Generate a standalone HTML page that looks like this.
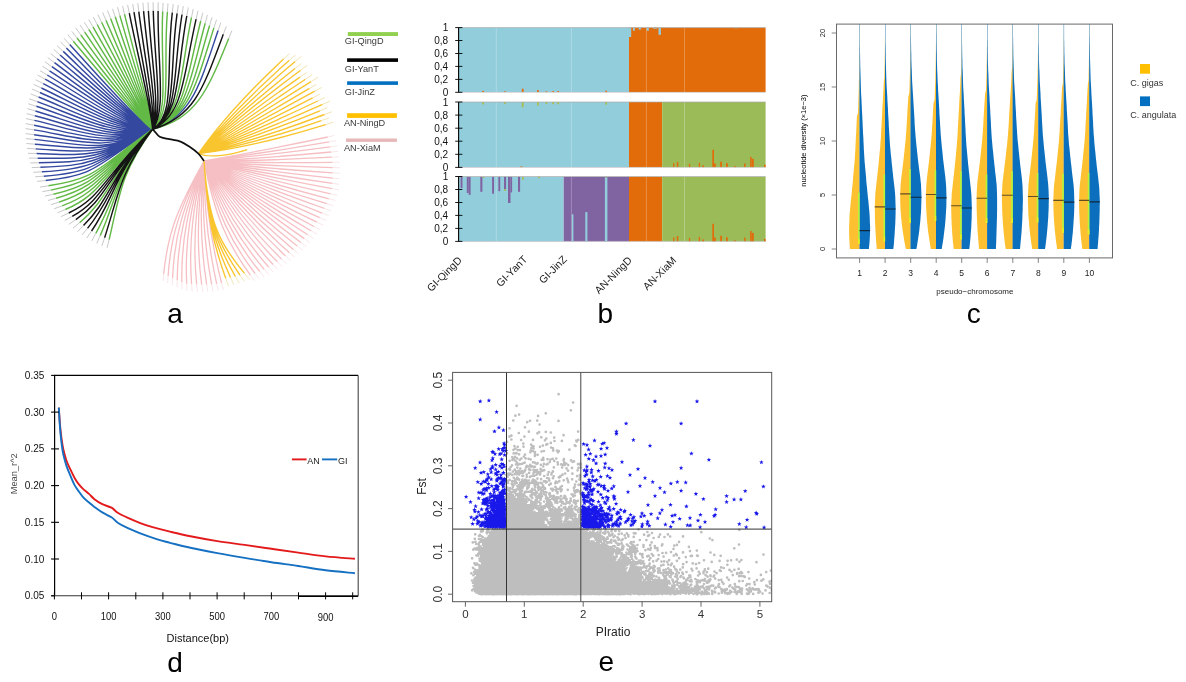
<!DOCTYPE html>
<html><head><meta charset="utf-8"><title>figure</title>
<style>html,body{margin:0;padding:0;background:#fff}svg{display:block}text{font-family:"Liberation Sans",sans-serif}</style>
</head><body>
<svg width="1186" height="682" viewBox="0 0 1186 682">
<rect width="1186" height="682" fill="#fff"/>
<g opacity="0.999">
<g id="pa"><path d="M204.0,161.0C243.4,154.1 288.6,145.3 327.7,137.0M204.0,161.0C243.7,155.7 289.6,148.7 329.0,141.9M204.0,161.0C243.8,157.5 290.5,152.2 330.2,146.9M204.0,161.0C244.0,159.2 291.3,155.7 331.1,152.0M204.0,161.0C244.0,160.9 291.9,159.3 331.9,157.2M204.0,161.0C244.0,162.6 292.4,162.9 332.4,162.3M204.0,161.0C243.9,164.3 292.7,166.6 332.7,167.6M204.0,161.0C243.7,166.0 292.9,170.3 332.8,172.8M204.0,161.0C243.4,167.7 292.9,174.0 332.7,178.1M204.0,161.0C243.1,169.4 292.8,177.8 332.4,183.4M204.0,161.0C242.7,171.1 292.5,181.5 331.9,188.6M204.0,161.0C242.2,172.7 291.5,185.1 330.6,193.8M204.0,161.0C241.7,174.3 290.1,188.6 328.8,198.8M204.0,161.0C241.1,175.9 288.5,192.0 326.8,203.7M204.0,161.0C240.4,177.5 286.8,195.3 324.6,208.5M204.0,161.0C239.7,179.1 285.0,198.5 322.2,213.1M204.0,161.0C238.9,180.6 283.0,201.7 319.7,217.7M204.0,161.0C238.0,182.1 280.9,204.7 316.9,222.2M204.0,161.0C237.1,183.5 278.7,207.6 314.0,226.5M204.0,161.0C236.1,184.9 276.4,210.5 311.0,230.7M204.0,161.0C235.0,186.2 274.0,213.2 307.7,234.7M204.0,161.0C233.9,187.5 271.5,215.8 304.4,238.6M204.0,161.0C232.8,188.8 268.9,218.3 300.8,242.4M204.0,161.0C232.2,191.2 265.8,221.1 297.2,246.0M204.0,161.0C231.4,193.5 262.7,223.8 293.4,249.4M204.0,161.0C230.5,195.8 259.4,226.3 289.5,252.7M204.0,161.0C229.4,198.1 256.2,228.8 285.6,255.9M204.0,161.0C228.1,200.4 252.8,231.1 281.5,259.0M204.0,161.0C226.7,202.7 249.3,233.3 277.4,261.8M204.0,161.0C225.1,204.9 245.8,235.3 273.1,264.5M204.0,161.0C223.3,207.1 242.1,237.2 268.7,267.0M204.0,161.0C221.4,209.2 238.4,238.9 264.3,269.4M204.0,161.0C219.3,211.2 234.6,240.4 259.7,271.5M204.0,161.0C217.0,213.1 230.8,241.7 255.1,273.5M204.0,161.0C214.6,214.9 226.9,242.9 250.4,275.2M204.0,161.0C205.5,201.2 211.7,244.4 221.6,283.1M204.0,161.0C203.7,201.8 207.9,244.4 216.7,283.8M204.0,161.0C201.7,202.6 204.0,244.2 211.7,284.3M204.0,161.0C199.7,203.3 200.1,243.9 206.7,284.6M204.0,161.0C197.6,203.9 196.1,243.4 201.7,284.7M204.0,161.0C195.5,204.4 192.3,242.7 196.7,284.6M204.0,161.0C193.3,204.8 188.4,241.9 191.6,284.3M204.0,161.0C191.0,205.1 184.6,240.8 186.7,283.8M204.0,161.0C188.7,205.2 181.0,238.7 181.9,282.1M204.0,161.0C186.3,205.3 177.6,236.5 177.2,280.3M204.0,161.0C184.0,205.2 174.3,234.1 172.6,278.3M204.0,161.0C181.5,205.0 171.1,231.6 168.1,276.1M204.0,161.0C179.8,204.7 168.1,229.2 163.7,274.0" fill="none" stroke="#F6BFC3" stroke-width="1.3"/><path d="M204.0,161.0C208.3,222.8 220.2,244.2 244.5,273.4M204.0,161.0C208.3,222.8 218.2,243.8 239.9,275.0M204.0,161.0C208.3,222.8 216.4,243.3 235.3,276.3M204.0,161.0C208.3,222.8 214.7,243.0 230.6,277.5M204.0,161.0C208.3,222.8 213.1,242.7 225.8,278.5M198.6,153.5C218.0,125.6 250.6,89.8 283.6,59.1M198.6,153.5C219.5,126.7 255.6,89.9 289.4,60.2M198.6,153.5C220.9,127.8 260.6,90.3 295.2,61.5M198.6,153.5C222.2,129.1 259.7,96.3 295.1,68.5M198.6,153.5C223.5,130.4 264.6,97.0 300.7,70.2M198.6,153.5C224.7,131.7 263.2,102.9 300.0,77.1M198.6,153.5C225.9,133.2 268.0,104.0 305.5,79.2M198.6,153.5C226.9,134.7 272.8,105.4 311.0,81.6M198.6,153.5C227.9,136.2 270.7,111.1 309.5,88.4M198.6,153.5C228.8,137.8 275.3,112.8 314.8,91.2M198.6,153.5C229.6,139.5 272.7,118.3 312.7,97.8M198.6,153.5C230.3,141.1 277.1,120.4 317.7,101.0M198.6,153.5C230.9,142.9 281.5,122.7 322.6,104.4M198.6,153.5C231.4,144.6 278.3,127.9 319.9,110.8M198.6,153.5C231.8,146.4 282.4,130.5 324.5,114.5M198.6,153.5C232.2,148.2 278.8,135.4 321.3,120.6M198.6,153.5C232.4,150.0 282.7,138.3 325.6,124.7M198.6,153.5C208,158 228,156 247.2,149.6" fill="none" stroke="#F9C52E" stroke-width="1.35"/><path d="M152.5,129.3C191.8,116.4 198.7,87.4 218.1,30.6M152.5,129.3C138.6,121.8 96.6,74.1 69.7,44.5M152.5,129.3C137.0,122.0 94.4,76.5 66.4,47.9M152.5,129.3C135.4,122.3 92.2,78.9 63.2,51.4M152.5,129.3C133.8,122.7 90.2,81.4 60.1,55.0M152.5,129.3C132.2,123.3 88.3,84.1 57.2,58.8M152.5,129.3C130.6,124.1 86.5,86.7 54.5,62.7M152.5,129.3C129.0,125.0 84.7,89.5 51.9,66.7M152.5,129.3C127.4,126.0 83.2,92.4 49.5,70.8M152.5,129.3C125.3,127.0 81.8,95.6 47.2,75.0M152.5,129.3C123.3,128.2 80.5,98.9 45.1,79.2M152.5,129.3C121.3,129.5 79.4,102.2 43.2,83.6M152.5,129.3C119.4,131.1 78.5,105.5 41.4,88.0M152.5,129.3C117.6,132.8 77.6,108.9 39.9,92.5M152.5,129.3C115.8,134.7 77.0,112.3 38.5,97.0M152.5,129.3C114.2,136.7 76.5,115.7 37.3,101.6M152.5,129.3C112.7,139.0 76.1,119.2 36.3,106.3M152.5,129.3C111.1,141.1 76.0,122.7 35.4,111.0M152.5,129.3C109.5,143.2 76.2,126.3 34.8,115.7M152.5,129.3C108.0,145.4 76.5,129.8 34.3,120.4M152.5,129.3C106.6,147.7 77.0,133.3 34.1,125.2M152.5,129.3C105.3,150.1 77.7,136.8 34.0,129.9M152.5,129.3C104.2,152.7 78.5,140.2 34.1,134.7M152.5,129.3C103.1,154.8 79.4,143.8 34.4,139.4M152.5,129.3C102.0,156.0 80.5,147.5 34.9,144.2M152.5,129.3C100.9,157.3 81.8,151.3 35.6,148.9M152.5,129.3C99.8,158.7 83.3,155.0 36.5,153.5M152.5,129.3C98.8,160.0 84.9,158.6 37.6,158.2M152.5,129.3C97.8,161.4 86.6,162.1 38.8,162.8M152.5,129.3C96.8,162.8 88.6,165.6 40.3,167.3M152.5,129.3C95.8,164.2 90.7,169.0 41.9,171.8M152.5,129.3C94.9,165.7 92.9,172.3 43.7,176.2M152.5,129.3C93.9,167.2 95.3,175.5 45.6,180.5" fill="none" stroke="#34489F" stroke-width="1.45"/><path d="M152.5,129.3C196.0,117.7 206.2,94.2 228.7,38.5M152.5,129.3C190.2,116.0 195.7,85.1 213.9,27.9M152.5,129.3C188.7,115.7 192.6,83.0 209.6,25.5M152.5,129.3C187.1,115.5 189.5,81.1 205.2,23.2M152.5,129.3C185.6,115.3 186.2,79.3 200.7,21.0M152.5,129.3C182.5,115.1 179.4,76.2 191.5,17.4M152.5,129.3C172.9,113.5 162.7,68.7 167.4,11.7M152.5,129.3C169.8,112.7 160.1,66.1 162.7,11.2M152.5,129.3C152.1,117.7 134.0,53.0 124.5,14.2M152.5,129.3C151.3,118.1 130.8,53.8 119.8,15.4M152.5,129.3C150.4,118.5 127.8,54.8 115.2,16.8M152.5,129.3C149.7,118.9 124.7,55.9 110.6,18.5M152.5,129.3C149.0,119.4 121.7,57.1 106.0,20.3M152.5,129.3C148.3,120.0 118.8,58.4 101.6,22.3M152.5,129.3C147.6,120.3 115.8,59.9 97.2,24.5M152.5,129.3C146.4,120.1 112.8,61.6 93.0,26.8M152.5,129.3C145.2,120.1 109.9,63.4 88.8,29.4M152.5,129.3C144.0,120.2 107.1,65.3 84.7,32.1M152.5,129.3C142.7,120.5 104.3,67.3 80.8,34.9M152.5,129.3C141.4,120.9 101.6,69.5 77.0,38.0M152.5,129.3C140.1,121.5 99.0,71.8 73.3,41.2M152.5,129.3C95.4,169.7 97.4,178.5 48.4,185.8M152.5,129.3C96.3,171.0 97.5,181.1 50.8,190.1M152.5,129.3C97.3,172.3 97.8,183.8 53.4,194.2M152.5,129.3C98.3,173.5 98.2,186.5 56.1,198.2M152.5,129.3C99.3,174.8 98.7,189.3 59.0,202.1M152.5,129.3C100.3,176.0 99.4,192.1 62.1,205.9M152.5,129.3C101.4,177.1 100.2,195.0 65.3,209.5M152.5,129.3C108.0,177.9 108.6,198.6 79.6,222.7M152.5,129.3C115.3,175.7 116.2,196.6 95.8,233.4M152.5,129.3C117.1,175.1 117.4,196.1 100.2,235.6M152.5,129.3C120.2,173.8 119.6,195.8 109.1,239.6" fill="none" stroke="#62B946" stroke-width="1.45"/><path d="M152.5,129.3C193.8,116.9 202.5,90.5 223.3,34.3M152.5,129.3C184.0,115.1 182.8,77.6 196.1,19.1M152.5,129.3C181.0,115.0 175.9,74.9 186.8,15.9M152.5,129.3C179.5,115.1 172.4,73.8 182.0,14.5M152.5,129.3C178.0,115.2 168.8,72.8 177.1,13.4M152.5,129.3C176.2,115.0 165.3,71.7 172.3,12.5M152.5,129.3C166.7,112.3 157.4,63.6 158.1,10.9M152.5,129.3C163.7,112.4 154.3,61.2 153.3,10.8M152.5,129.3C160.9,112.9 151.1,58.8 148.4,10.9M152.5,129.3C158.3,113.8 147.7,56.6 143.6,11.1M152.5,129.3C156.1,115.1 144.2,54.6 138.8,11.6M152.5,129.3C154.3,116.6 140.5,52.8 134.0,12.2M152.5,129.3C153.0,117.5 137.1,52.3 129.3,13.1M152.5,129.3C102.5,178.3 101.2,197.9 68.7,213.0M152.5,129.3C104.1,178.6 103.3,199.2 72.2,216.4M152.5,129.3C106.0,178.3 106.1,199.0 75.8,219.6M152.5,129.3C109.8,177.4 110.9,198.2 83.5,225.6M152.5,129.3C111.7,176.9 112.9,197.7 87.5,228.4M152.5,129.3C113.5,176.3 114.7,197.1 91.6,231.0M152.5,129.3C118.8,174.4 118.4,195.7 104.6,237.7" fill="none" stroke="#141414" stroke-width="1.45"/><path d="M152.5,129.3C152.9,129.7 153.6,130.3 154.8,131.6C156.0,132.8 157.3,135.5 159.7,136.8C162.1,138.1 165.9,138.4 169.4,139.2C172.9,140.0 177.1,140.2 180.6,141.6C184.1,142.9 187.3,145.3 190.3,147.3C193.3,149.3 196.1,151.4 198.4,153.7C200.7,156.0 203.1,159.8 204.0,161.0" fill="none" stroke="#111" stroke-width="1.7"/><path d="M228.7,38.5L231.9,30.6M223.3,34.3L226.3,26.3M218.1,30.6L220.8,22.6M213.9,27.9L216.5,19.8M209.6,25.5L212.0,17.3M205.2,23.2L207.4,15.0M200.7,21.0L202.8,12.8M196.1,19.1L198.0,10.8M191.5,17.4L193.2,9.1M186.8,15.9L188.3,7.5M182.0,14.5L183.3,6.1M177.1,13.4L178.3,5.0M172.3,12.5L173.2,4.0M167.4,11.7L168.0,3.3M162.7,11.2L163.1,2.8M158.1,10.9L158.2,2.4M153.3,10.8L153.1,2.3M148.4,10.9L148.0,2.4M143.6,11.1L142.9,2.7M138.8,11.6L137.8,3.2M134.0,12.2L132.7,3.9M129.3,13.1L127.6,4.8M124.5,14.2L122.5,5.9M119.8,15.4L117.5,7.2M115.2,16.8L112.5,8.8M110.6,18.5L107.5,10.5M106.0,20.3L102.7,12.5M101.6,22.3L97.9,14.6M97.2,24.5L93.3,17.0M93.0,26.8L88.7,19.5M88.8,29.4L84.3,22.2M84.7,32.1L80.0,25.0M80.8,34.9L75.8,28.1M77.0,38.0L71.8,31.3M73.3,41.2L67.8,34.7M69.7,44.5L64.0,38.2M66.4,47.9L60.5,41.8M63.2,51.4L57.0,45.6M60.1,55.0L53.8,49.4M57.2,58.8L50.6,53.5M54.5,62.7L47.7,57.6M51.9,66.7L44.9,61.8M49.5,70.8L42.3,66.2M47.2,75.0L39.9,70.6M45.1,79.2L37.7,75.1M43.2,83.6L35.6,79.7M41.4,88.0L33.7,84.4M39.9,92.5L32.1,89.1M38.5,97.0L30.6,93.9M37.3,101.6L29.3,98.8M36.3,106.3L28.2,103.7M35.4,111.0L27.3,108.6M34.8,115.7L26.5,113.6M34.3,120.4L26.0,118.6M34.1,125.2L25.7,123.6M34.0,129.9L25.6,128.6M34.1,134.7L25.7,133.6M34.4,139.4L26.0,138.6M34.9,144.2L26.5,143.5M35.6,148.9L27.1,148.4M36.5,153.5L28.0,153.3M37.6,158.2L29.1,158.1M38.8,162.8L30.3,162.9M40.3,167.3L31.8,167.6M41.9,171.8L33.4,172.3M43.7,176.2L35.2,176.8M45.6,180.5L37.2,181.4M48.4,185.8L40.0,187.1M50.8,190.1L42.4,191.7M53.4,194.2L45.1,196.1M56.1,198.2L47.9,200.5M59.0,202.1L50.9,204.7M62.1,205.9L54.1,208.8M65.3,209.5L57.5,212.8M68.7,213.0L61.0,216.6M72.2,216.4L64.7,220.5M75.8,219.6L68.8,224.4M79.6,222.7L73.1,228.1M83.5,225.6L77.5,231.6M87.5,228.4L82.1,234.9M91.6,231.0L86.8,238.0M95.8,233.4L91.7,240.8M100.2,235.6L96.8,243.4M104.6,237.7L101.9,245.8M109.1,239.6L107.1,247.8" fill="none" stroke="#b0b0b0" stroke-width="0.7"/><path d="M327.7,137.0L334.5,135.5M329.0,141.9L335.9,140.7M330.2,146.9L337.1,146.0M331.1,152.0L338.1,151.4M331.9,157.2L338.9,156.8M332.4,162.3L339.4,162.2M332.7,167.6L339.7,167.7M332.8,172.8L339.8,173.3M332.7,178.1L339.7,178.8M332.4,183.4L339.3,184.3M331.9,188.6L338.8,189.9M330.6,193.8L337.4,195.3M328.8,198.8L335.5,200.5M326.8,203.7L333.5,205.7M324.6,208.5L331.2,210.8M322.2,213.1L328.7,215.7M319.7,217.7L326.1,220.5M316.9,222.2L323.2,225.2M314.0,226.5L320.2,229.8M311.0,230.7L317.0,234.2M307.7,234.7L313.6,238.5M304.4,238.6L310.1,242.6M300.8,242.4L306.4,246.6M297.2,246.0L302.7,250.3M293.4,249.4L298.8,253.9M289.5,252.7L294.8,257.3M285.6,255.9L290.7,260.7M281.5,259.0L286.6,263.8M277.4,261.8L282.3,266.8M273.1,264.5L277.9,269.6M268.7,267.0L273.4,272.3M264.3,269.4L268.8,274.7M259.7,271.5L264.1,277.0M255.1,273.5L259.4,279.0M250.4,275.2L254.6,280.9M221.6,283.1L223.3,289.9M216.7,283.8L218.2,290.7M211.7,284.3L213.0,291.2M206.7,284.6L207.8,291.5M201.7,284.7L202.6,291.7M196.7,284.6L197.4,291.6M191.6,284.3L192.2,291.3M186.7,283.8L187.0,290.8M181.9,282.1L182.0,289.1M177.2,280.3L177.1,287.3M172.6,278.3L172.3,285.3M168.1,276.1L167.6,283.1M163.7,274.0L163.0,281.0" fill="none" stroke="#f6dcde" stroke-width="0.7"/><path d="M244.5,273.4L249.6,279.6M239.9,275.0L244.5,281.6M235.3,276.3L239.2,283.3M230.6,277.5L233.9,284.8M225.8,278.5L228.5,286.0" fill="none" stroke="#eedd9a" stroke-width="0.7"/><path d="M283.6,59.1L289.4,53.7M289.4,60.2L295.4,54.9M295.2,61.5L301.4,56.4M295.1,68.5L301.4,63.5M300.7,70.2L307.2,65.4M300.0,77.1L306.6,72.5M305.5,79.2L312.2,74.8M311.0,81.6L317.8,77.4M309.5,88.4L316.4,84.4M314.8,91.2L321.8,87.4M312.7,97.8L319.9,94.2M317.7,101.0L324.9,97.5M322.6,104.4L329.9,101.1M319.9,110.8L327.3,107.7M324.5,114.5L332.0,111.7M321.3,120.6L328.8,118.0M325.6,124.7L333.2,122.2" fill="none" stroke="#ecd98f" stroke-width="0.7"/><rect x="347.8" y="32.1" width="50.2" height="3.9" fill="#92D050"/><rect x="347.1" y="58.3" width="50.9" height="3.6" fill="#000"/><rect x="347.1" y="81.3" width="50.9" height="3.6" fill="#0070C0"/><rect x="347.1" y="113.2" width="49.8" height="4.7" fill="#FFC000"/><rect x="346" y="138.5" width="50.9" height="3.4" fill="#E6B8B7"/><text x="344.8" y="44.2" font-size="9.2" fill="#3a3a3a" text-anchor="start">GI-QingD</text><text x="344.8" y="71.7" font-size="9.2" fill="#3a3a3a" text-anchor="start">GI-YanT</text><text x="344.8" y="94.9" font-size="9.2" fill="#3a3a3a" text-anchor="start">GI-JinZ</text><text x="343.9" y="126.4" font-size="9.2" fill="#3a3a3a" text-anchor="start">AN-NingD</text><text x="343.9" y="151.3" font-size="9.2" fill="#3a3a3a" text-anchor="start">AN-XiaM</text></g>
<g id="pb"><rect x="459.0" y="27.6" width="170.0" height="64.7" fill="#92CDDC"/><rect x="629.0" y="27.6" width="136.6" height="64.7" fill="#E36C0A"/><rect x="629.0" y="27.6" width="2.2" height="9.4" fill="#92CDDC"/><rect x="633.0" y="27.6" width="1.8" height="3.2" fill="#92CDDC"/><rect x="638.7" y="27.6" width="2.2" height="2.0" fill="#92CDDC"/><rect x="646.6" y="27.6" width="2.2" height="3.2" fill="#92CDDC"/><rect x="653.0" y="27.6" width="4.0" height="1.0" fill="#92CDDC"/><rect x="658.5" y="27.6" width="2.4" height="7.2" fill="#92CDDC"/><rect x="735.0" y="27.6" width="2.0" height="0.7" fill="#92CDDC"/><rect x="482.2" y="90.9" width="1.8" height="1.4" fill="#E36C0A"/><rect x="504.1" y="91.3" width="1.8" height="1.0" fill="#E36C0A"/><rect x="521.8" y="88.7" width="1.8" height="3.6" fill="#E36C0A"/><rect x="537.0" y="90.1" width="1.8" height="2.2" fill="#E36C0A"/><rect x="545.5" y="91.3" width="1.8" height="1.0" fill="#E36C0A"/><rect x="552.2" y="91.1" width="1.8" height="1.2" fill="#E36C0A"/><rect x="557.3" y="91.1" width="1.8" height="1.2" fill="#E36C0A"/><rect x="605.3" y="90.7" width="1.8" height="1.6" fill="#E36C0A"/><rect x="459.0" y="102.0" width="170.0" height="65.4" fill="#92CDDC"/><rect x="629.0" y="102.0" width="33.2" height="65.4" fill="#E36C0A"/><rect x="662.2" y="102.0" width="103.4" height="65.4" fill="#9BBB59"/><rect x="482.2" y="102.0" width="1.8" height="2.4" fill="#A9BD4E"/><rect x="504.1" y="102.0" width="1.8" height="1.9" fill="#A9BD4E"/><rect x="521.8" y="102.0" width="1.8" height="5.3" fill="#A9BD4E"/><rect x="537.0" y="102.0" width="1.8" height="3.5" fill="#A9BD4E"/><rect x="545.5" y="102.0" width="1.8" height="1.9" fill="#A9BD4E"/><rect x="552.2" y="102.0" width="1.8" height="2.2" fill="#A9BD4E"/><rect x="557.3" y="102.0" width="1.8" height="2.2" fill="#A9BD4E"/><rect x="605.3" y="102.0" width="1.8" height="2.7" fill="#A9BD4E"/><rect x="520.0" y="166.6" width="3.0" height="0.8" fill="#E36C0A"/><rect x="673.1" y="163.2" width="1.3" height="4.2" fill="#E36C0A"/><rect x="676.8" y="161.9" width="1.5" height="5.5" fill="#E36C0A"/><rect x="688.9" y="163.8" width="1.3" height="3.6" fill="#E36C0A"/><rect x="698.8" y="162.8" width="1.3" height="4.6" fill="#E36C0A"/><rect x="702.3" y="165.4" width="1.7" height="2.0" fill="#E36C0A"/><rect x="712.3" y="149.7" width="1.7" height="17.7" fill="#E36C0A"/><rect x="714.0" y="163.5" width="1.8" height="3.9" fill="#E36C0A"/><rect x="720.2" y="161.7" width="1.8" height="5.7" fill="#E36C0A"/><rect x="726.0" y="163.2" width="1.8" height="4.2" fill="#E36C0A"/><rect x="734.1" y="166.0" width="1.5" height="1.4" fill="#E36C0A"/><rect x="744.1" y="163.5" width="1.5" height="3.9" fill="#E36C0A"/><rect x="750.1" y="156.9" width="1.5" height="10.5" fill="#E36C0A"/><rect x="751.6" y="158.8" width="2.2" height="8.6" fill="#E36C0A"/><rect x="764.0" y="164.7" width="1.6" height="2.7" fill="#E36C0A"/><rect x="459.0" y="176.5" width="104.7" height="64.9" fill="#92CDDC"/><rect x="563.7" y="176.5" width="65.3" height="64.9" fill="#8064A2"/><rect x="629.0" y="176.5" width="33.2" height="64.9" fill="#E36C0A"/><rect x="662.2" y="176.5" width="103.4" height="64.9" fill="#9BBB59"/><rect x="673.1" y="237.3" width="1.3" height="4.1" fill="#E36C0A"/><rect x="676.8" y="236.0" width="1.5" height="5.4" fill="#E36C0A"/><rect x="688.9" y="237.9" width="1.3" height="3.5" fill="#E36C0A"/><rect x="698.8" y="236.9" width="1.3" height="4.5" fill="#E36C0A"/><rect x="702.3" y="239.5" width="1.7" height="1.9" fill="#E36C0A"/><rect x="712.3" y="223.8" width="1.7" height="17.6" fill="#E36C0A"/><rect x="714.0" y="237.6" width="1.8" height="3.8" fill="#E36C0A"/><rect x="720.2" y="235.8" width="1.8" height="5.6" fill="#E36C0A"/><rect x="726.0" y="237.3" width="1.8" height="4.1" fill="#E36C0A"/><rect x="734.1" y="240.1" width="1.5" height="1.3" fill="#E36C0A"/><rect x="744.1" y="237.6" width="1.5" height="3.8" fill="#E36C0A"/><rect x="750.1" y="231.0" width="1.5" height="10.4" fill="#E36C0A"/><rect x="751.6" y="232.9" width="2.2" height="8.5" fill="#E36C0A"/><rect x="764.0" y="238.8" width="1.6" height="2.6" fill="#E36C0A"/><rect x="460.6" y="176.5" width="1.9" height="11.6" fill="#8064A2"/><rect x="466.8" y="176.5" width="1.9" height="16.5" fill="#8064A2"/><rect x="468.7" y="176.5" width="1.9" height="18.4" fill="#8064A2"/><rect x="480.3" y="176.5" width="2.1" height="15.3" fill="#8064A2"/><rect x="492.1" y="176.5" width="1.9" height="17.2" fill="#8064A2"/><rect x="498.4" y="176.5" width="1.8" height="14.7" fill="#8064A2"/><rect x="504.0" y="176.5" width="2.1" height="12.8" fill="#8064A2"/><rect x="508.0" y="176.5" width="2.5" height="26.5" fill="#8064A2"/><rect x="510.5" y="176.5" width="1.6" height="15.9" fill="#8064A2"/><rect x="518.0" y="176.5" width="2.1" height="15.3" fill="#8064A2"/><rect x="482.7" y="176.5" width="1.6" height="1.4" fill="#A9BD4E"/><rect x="504.0" y="189.3" width="2.1" height="1.5" fill="#A9BD4E"/><rect x="522.1" y="176.5" width="1.7" height="3.2" fill="#A9BD4E"/><rect x="537.9" y="176.5" width="1.9" height="1.7" fill="#A9BD4E"/><rect x="604.9" y="176.5" width="2.5" height="1.0" fill="#A9BD4E"/><rect x="571.8" y="214.3" width="1.6" height="27.1" fill="#92CDDC"/><rect x="585.3" y="212.1" width="2.1" height="29.3" fill="#92CDDC"/><rect x="604.9" y="177.5" width="2.5" height="63.9" fill="#92CDDC"/><line x1="496.3" y1="27.6" x2="496.3" y2="241.4" stroke="#ffffff" stroke-opacity="0.28" stroke-width="0.9"/><line x1="571.4" y1="27.6" x2="571.4" y2="241.4" stroke="#ffffff" stroke-opacity="0.28" stroke-width="0.9"/><line x1="646.4" y1="27.6" x2="646.4" y2="241.4" stroke="#ffffff" stroke-opacity="0.28" stroke-width="0.9"/><line x1="684.5" y1="27.6" x2="684.5" y2="241.4" stroke="#ffffff" stroke-opacity="0.28" stroke-width="0.9"/><rect x="451.0" y="92.3" width="318.6" height="9.7" fill="#fff"/><rect x="451.0" y="167.4" width="318.6" height="9.1" fill="#fff"/><line x1="459.0" y1="27.6" x2="765.6" y2="27.6" stroke="#aaa" stroke-width="0.7"/><line x1="459.0" y1="92.3" x2="765.6" y2="92.3" stroke="#bbb" stroke-width="0.6"/><line x1="459.0" y1="102.0" x2="765.6" y2="102.0" stroke="#aaa" stroke-width="0.7"/><line x1="459.0" y1="167.4" x2="765.6" y2="167.4" stroke="#bbb" stroke-width="0.6"/><line x1="459.0" y1="176.5" x2="765.6" y2="176.5" stroke="#aaa" stroke-width="0.7"/><line x1="459.0" y1="241.4" x2="765.6" y2="241.4" stroke="#bbb" stroke-width="0.6"/><line x1="458.6" y1="27.6" x2="458.6" y2="92.3" stroke="#000" stroke-width="1.1"/><line x1="455.2" y1="27.6" x2="462.4" y2="27.6" stroke="#000" stroke-width="0.9"/><text x="448.2" y="31.2" font-size="10" fill="#111" text-anchor="end">1</text><line x1="455.2" y1="40.5" x2="462.4" y2="40.5" stroke="#000" stroke-width="0.9"/><text x="448.2" y="44.1" font-size="10" fill="#111" text-anchor="end">0,8</text><line x1="455.2" y1="53.5" x2="462.4" y2="53.5" stroke="#000" stroke-width="0.9"/><text x="448.2" y="57.1" font-size="10" fill="#111" text-anchor="end">0,6</text><line x1="455.2" y1="66.4" x2="462.4" y2="66.4" stroke="#000" stroke-width="0.9"/><text x="448.2" y="70.0" font-size="10" fill="#111" text-anchor="end">0,4</text><line x1="455.2" y1="79.4" x2="462.4" y2="79.4" stroke="#000" stroke-width="0.9"/><text x="448.2" y="83.0" font-size="10" fill="#111" text-anchor="end">0,2</text><line x1="455.2" y1="92.3" x2="462.4" y2="92.3" stroke="#000" stroke-width="0.9"/><text x="448.2" y="95.9" font-size="10" fill="#111" text-anchor="end">0</text><line x1="458.6" y1="102.0" x2="458.6" y2="167.4" stroke="#000" stroke-width="1.1"/><line x1="455.2" y1="102.0" x2="462.4" y2="102.0" stroke="#000" stroke-width="0.9"/><text x="448.2" y="105.6" font-size="10" fill="#111" text-anchor="end">1</text><line x1="455.2" y1="115.1" x2="462.4" y2="115.1" stroke="#000" stroke-width="0.9"/><text x="448.2" y="118.7" font-size="10" fill="#111" text-anchor="end">0,8</text><line x1="455.2" y1="128.2" x2="462.4" y2="128.2" stroke="#000" stroke-width="0.9"/><text x="448.2" y="131.8" font-size="10" fill="#111" text-anchor="end">0,6</text><line x1="455.2" y1="141.2" x2="462.4" y2="141.2" stroke="#000" stroke-width="0.9"/><text x="448.2" y="144.8" font-size="10" fill="#111" text-anchor="end">0,4</text><line x1="455.2" y1="154.3" x2="462.4" y2="154.3" stroke="#000" stroke-width="0.9"/><text x="448.2" y="157.9" font-size="10" fill="#111" text-anchor="end">0,2</text><line x1="455.2" y1="167.4" x2="462.4" y2="167.4" stroke="#000" stroke-width="0.9"/><text x="448.2" y="171.0" font-size="10" fill="#111" text-anchor="end">0</text><line x1="458.6" y1="176.5" x2="458.6" y2="241.4" stroke="#000" stroke-width="1.1"/><line x1="455.2" y1="176.5" x2="462.4" y2="176.5" stroke="#000" stroke-width="0.9"/><text x="448.2" y="180.1" font-size="10" fill="#111" text-anchor="end">1</text><line x1="455.2" y1="189.5" x2="462.4" y2="189.5" stroke="#000" stroke-width="0.9"/><text x="448.2" y="193.1" font-size="10" fill="#111" text-anchor="end">0,8</text><line x1="455.2" y1="202.5" x2="462.4" y2="202.5" stroke="#000" stroke-width="0.9"/><text x="448.2" y="206.1" font-size="10" fill="#111" text-anchor="end">0,6</text><line x1="455.2" y1="215.4" x2="462.4" y2="215.4" stroke="#000" stroke-width="0.9"/><text x="448.2" y="219.0" font-size="10" fill="#111" text-anchor="end">0,4</text><line x1="455.2" y1="228.4" x2="462.4" y2="228.4" stroke="#000" stroke-width="0.9"/><text x="448.2" y="232.0" font-size="10" fill="#111" text-anchor="end">0,2</text><line x1="455.2" y1="241.4" x2="462.4" y2="241.4" stroke="#000" stroke-width="0.9"/><text x="448.2" y="245.0" font-size="10" fill="#111" text-anchor="end">0</text><text x="462.5" y="261.0" font-size="10.5" fill="#222" text-anchor="end" transform="rotate(-45 462.5 261.0)">GI-QingD</text><text x="528.0" y="260.0" font-size="10.5" fill="#222" text-anchor="end" transform="rotate(-45 528.0 260.0)">GI-YanT</text><text x="567.5" y="260.0" font-size="10.5" fill="#222" text-anchor="end" transform="rotate(-45 567.5 260.0)">GI-JinZ</text><text x="632.5" y="261.0" font-size="10.5" fill="#222" text-anchor="end" transform="rotate(-45 632.5 261.0)">AN-NingD</text><text x="677.0" y="261.0" font-size="10.5" fill="#222" text-anchor="end" transform="rotate(-45 677.0 261.0)">AN-XiaM</text></g>
<g id="pc"><clipPath id="cc"><rect x="836.5" y="24.1" width="276.0" height="233.79999999999998"/></clipPath><g clip-path="url(#cc)"><path d="M859.6,249.0L849.9,249.0L849.7,245.8L849.5,242.5L849.3,239.3L849.2,236.0L849.1,232.8L849.1,229.6L849.1,226.3L849.3,223.1L849.4,219.8L849.5,216.6L849.7,213.4L850.0,210.1L850.3,206.9L850.6,203.6L850.9,200.4L851.3,197.2L851.6,193.9L851.9,190.7L852.2,187.4L852.6,184.2L852.9,181.0L853.1,177.7L853.4,174.5L853.7,171.2L854.0,168.0L854.3,164.8L854.6,161.5L854.8,158.3L855.0,155.0L855.2,151.8L855.4,148.6L855.5,145.3L855.7,142.1L855.8,138.8L856.0,135.6L856.2,132.4L856.3,129.1L856.5,125.9L856.6,122.6L856.8,119.4L856.9,116.2L858.0,112.9L858.1,109.7L858.2,106.4L858.3,103.2L858.4,100.0L858.5,96.7L858.6,93.5L858.7,90.2L858.8,87.0L858.8,83.8L858.9,80.5L859.0,77.3L859.0,74.0L859.1,70.8L859.1,67.6L859.2,64.3L859.2,61.1L859.2,57.8L859.3,54.6L859.3,51.4L859.3,48.1L859.4,44.9L859.4,41.6L859.4,38.4L859.4,35.2L859.4,31.9L859.4,28.7L859.5,25.4L859.5,22.2L859.6,22.2Z" fill="#FCC030"/><path d="M859.5,249.0L868.9,249.0L869.2,245.8L869.5,242.5L869.7,239.3L869.9,236.0L870.0,232.8L870.1,229.6L870.1,226.3L869.9,223.1L869.8,219.8L869.7,216.6L869.5,213.4L869.2,210.1L868.9,206.9L868.6,203.6L868.3,200.4L867.9,197.2L867.6,193.9L867.3,190.7L867.0,187.4L866.6,184.2L866.3,181.0L866.1,177.7L865.8,174.5L865.5,171.2L865.2,168.0L864.9,164.8L864.6,161.5L864.4,158.3L864.2,155.0L864.0,151.8L863.8,148.6L863.7,145.3L863.5,142.1L863.4,138.8L863.2,135.6L863.0,132.4L862.9,129.1L862.7,125.9L862.6,122.6L862.4,119.4L862.3,116.2L862.1,112.9L861.9,109.7L861.8,106.4L861.6,103.2L861.5,100.0L861.3,96.7L861.1,93.5L861.0,90.2L860.9,87.0L860.8,83.8L860.7,80.5L860.6,77.3L860.5,74.0L860.4,70.8L860.3,67.6L860.2,64.3L860.2,61.1L860.1,57.8L860.1,54.6L860.0,51.4L860.0,48.1L859.9,44.9L859.9,41.6L859.9,38.4L859.9,35.2L859.9,31.9L859.9,28.7L859.9,25.4L859.9,22.2L859.5,22.2Z" fill="#0B6FBE"/><line x1="858.8" y1="192.8" x2="858.8" y2="244.1" stroke="#B2F53A" stroke-width="1.6"/><line x1="858.8" y1="239.1" x2="858.8" y2="244.1" stroke="#E8EE20" stroke-width="1.6"/><line x1="859.6" y1="230.6" x2="870.1" y2="230.6" stroke="#10202c" stroke-opacity="0.9" stroke-width="1.1"/><path d="M885.1,249.0L876.7,249.0L876.5,245.8L876.2,242.5L876.0,239.3L875.8,236.0L875.6,232.8L875.4,229.6L875.3,226.3L875.1,223.1L875.0,219.8L874.9,216.6L874.9,213.4L874.8,210.1L874.8,206.9L874.9,203.6L875.0,200.4L875.2,197.2L875.3,193.9L875.6,190.7L876.0,187.4L876.3,184.2L876.7,181.0L877.1,177.7L877.4,174.5L877.8,171.2L878.1,168.0L878.5,164.8L878.8,161.5L879.1,158.3L879.4,155.0L879.7,151.8L880.1,148.6L880.3,145.3L880.5,142.1L880.8,138.8L881.0,135.6L881.1,132.4L881.3,129.1L881.5,125.9L881.7,122.6L881.8,119.4L882.0,116.2L882.2,112.9L882.3,109.7L882.5,106.4L882.7,103.2L882.9,100.0L883.0,96.7L883.2,93.5L883.4,90.2L883.6,87.0L883.7,83.8L883.9,80.5L884.4,77.3L884.4,74.0L884.5,70.8L884.6,67.6L884.7,64.3L884.7,61.1L884.7,57.8L884.8,54.6L884.8,51.4L884.9,48.1L884.9,44.9L884.9,41.6L884.9,38.4L885.0,35.2L885.0,31.9L885.0,28.7L885.0,25.4L885.0,22.2L885.1,22.2Z" fill="#FCC030"/><path d="M885.0,249.0L893.3,249.0L893.7,245.8L894.0,242.5L894.2,239.3L894.5,236.0L894.7,232.8L894.9,229.6L895.1,226.3L895.3,223.1L895.4,219.8L895.5,216.6L895.6,213.4L895.6,210.1L895.6,206.9L895.5,203.6L895.4,200.4L895.3,197.2L895.1,193.9L894.8,190.7L894.5,187.4L894.1,184.2L893.7,181.0L893.3,177.7L893.0,174.5L892.6,171.2L892.3,168.0L891.9,164.8L891.6,161.5L891.3,158.3L890.9,155.0L890.6,151.8L890.3,148.6L890.0,145.3L889.8,142.1L889.6,138.8L889.4,135.6L889.2,132.4L889.0,129.1L888.8,125.9L888.7,122.6L888.5,119.4L888.3,116.2L888.1,112.9L888.0,109.7L887.8,106.4L887.6,103.2L887.4,100.0L887.3,96.7L887.1,93.5L886.9,90.2L886.7,87.0L886.5,83.8L886.4,80.5L886.3,77.3L886.2,74.0L886.1,70.8L886.0,67.6L885.9,64.3L885.8,61.1L885.7,57.8L885.7,54.6L885.6,51.4L885.6,48.1L885.5,44.9L885.4,41.6L885.4,38.4L885.4,35.2L885.4,31.9L885.4,28.7L885.4,25.4L885.4,22.2L885.0,22.2Z" fill="#0B6FBE"/><line x1="884.3" y1="174.5" x2="884.3" y2="241.4" stroke="#B2F53A" stroke-width="1.6"/><line x1="884.3" y1="236.4" x2="884.3" y2="241.4" stroke="#E8EE20" stroke-width="1.6"/><line x1="874.8" y1="206.9" x2="885.1" y2="206.9" stroke="#4a3a20" stroke-opacity="0.85" stroke-width="1.1"/><line x1="885.1" y1="209.0" x2="895.6" y2="209.0" stroke="#10202c" stroke-opacity="0.9" stroke-width="1.1"/><path d="M910.7,249.0L905.9,249.0L905.2,245.8L904.6,242.5L904.0,239.3L903.5,236.0L903.0,232.8L902.5,229.6L902.1,226.3L901.7,223.1L901.4,219.8L901.1,216.6L900.8,213.4L900.6,210.1L900.4,206.9L900.3,203.6L900.2,200.4L900.2,197.2L900.2,193.9L900.3,190.7L900.5,187.4L900.6,184.2L901.0,181.0L901.3,177.7L901.7,174.5L902.1,171.2L902.5,168.0L902.9,164.8L903.3,161.5L903.7,158.3L904.0,155.0L904.4,151.8L904.7,148.6L905.0,145.3L905.4,142.1L905.7,138.8L905.9,135.6L906.2,132.4L906.4,129.1L906.6,125.9L906.8,122.6L907.0,119.4L907.2,116.2L907.3,112.9L907.5,109.7L907.7,106.4L907.9,103.2L908.1,100.0L908.3,96.7L909.2,93.5L909.4,90.2L909.5,87.0L909.6,83.8L909.7,80.5L909.8,77.3L909.9,74.0L910.0,70.8L910.0,67.6L910.1,64.3L910.2,61.1L910.2,57.8L910.3,54.6L910.3,51.4L910.4,48.1L910.4,44.9L910.4,41.6L910.5,38.4L910.5,35.2L910.5,31.9L910.5,28.7L910.5,25.4L910.5,22.2L910.7,22.2Z" fill="#FCC030"/><path d="M910.5,249.0L916.4,249.0L917.0,245.8L917.5,242.5L918.0,239.3L918.5,236.0L919.0,232.8L919.4,229.6L919.7,226.3L920.1,223.1L920.4,219.8L920.6,216.6L920.9,213.4L921.1,210.1L921.2,206.9L921.3,203.6L921.4,200.4L921.5,197.2L921.4,193.9L921.3,190.7L921.1,187.4L921.0,184.2L920.6,181.0L920.3,177.7L919.9,174.5L919.4,171.2L919.0,168.0L918.6,164.8L918.2,161.5L917.8,158.3L917.5,155.0L917.1,151.8L916.8,148.6L916.4,145.3L916.1,142.1L915.8,138.8L915.5,135.6L915.3,132.4L915.0,129.1L914.8,125.9L914.6,122.6L914.5,119.4L914.3,116.2L914.1,112.9L913.9,109.7L913.7,106.4L913.5,103.2L913.3,100.0L913.1,96.7L912.9,93.5L912.7,90.2L912.5,87.0L912.3,83.8L912.1,80.5L912.0,77.3L911.9,74.0L911.8,70.8L911.6,67.6L911.5,64.3L911.4,61.1L911.3,57.8L911.3,54.6L911.2,51.4L911.1,48.1L911.1,44.9L911.0,41.6L911.0,38.4L910.9,35.2L910.9,31.9L910.9,28.7L910.9,25.4L910.9,22.2L910.5,22.2Z" fill="#0B6FBE"/><line x1="909.9" y1="169.1" x2="909.9" y2="223.1" stroke="#B2F53A" stroke-width="1.6"/><line x1="909.9" y1="218.1" x2="909.9" y2="223.1" stroke="#E8EE20" stroke-width="1.6"/><line x1="900.2" y1="193.9" x2="910.7" y2="193.9" stroke="#4a3a20" stroke-opacity="0.85" stroke-width="1.1"/><line x1="910.7" y1="197.2" x2="921.5" y2="197.2" stroke="#10202c" stroke-opacity="0.9" stroke-width="1.1"/><path d="M936.2,249.0L930.9,249.0L930.3,245.8L929.8,242.5L929.3,239.3L928.8,236.0L928.3,232.8L927.9,229.6L927.6,226.3L927.2,223.1L926.9,219.8L926.7,216.6L926.5,213.4L926.3,210.1L926.1,206.9L926.0,203.6L925.9,200.4L925.9,197.2L925.9,193.9L926.1,190.7L926.2,187.4L926.4,184.2L926.7,181.0L927.0,177.7L927.4,174.5L927.8,171.2L928.2,168.0L928.6,164.8L929.0,161.5L929.3,158.3L929.7,155.0L930.0,151.8L930.3,148.6L930.7,145.3L931.0,142.1L931.3,138.8L931.6,135.6L931.8,132.4L932.0,129.1L932.2,125.9L932.4,122.6L932.6,119.4L932.8,116.2L932.9,112.9L933.1,109.7L933.3,106.4L933.5,103.2L934.5,100.0L934.7,96.7L934.8,93.5L934.9,90.2L935.0,87.0L935.2,83.8L935.3,80.5L935.4,77.3L935.4,74.0L935.5,70.8L935.6,67.6L935.7,64.3L935.7,61.1L935.8,57.8L935.8,54.6L935.9,51.4L935.9,48.1L935.9,44.9L936.0,41.6L936.0,38.4L936.0,35.2L936.0,31.9L936.0,28.7L936.1,25.4L936.1,22.2L936.2,22.2Z" fill="#FCC030"/><path d="M936.0,249.0L941.7,249.0L942.2,245.8L942.8,242.5L943.3,239.3L943.7,236.0L944.1,232.8L944.5,229.6L944.9,226.3L945.2,223.1L945.5,219.8L945.7,216.6L945.9,213.4L946.1,210.1L946.3,206.9L946.4,203.6L946.4,200.4L946.5,197.2L946.4,193.9L946.3,190.7L946.2,187.4L946.0,184.2L945.7,181.0L945.4,177.7L945.0,174.5L944.6,171.2L944.2,168.0L943.8,164.8L943.4,161.5L943.0,158.3L942.7,155.0L942.4,151.8L942.0,148.6L941.7,145.3L941.4,142.1L941.1,138.8L940.8,135.6L940.6,132.4L940.4,129.1L940.2,125.9L940.0,122.6L939.8,119.4L939.6,116.2L939.4,112.9L939.3,109.7L939.1,106.4L938.9,103.2L938.7,100.0L938.5,96.7L938.3,93.5L938.1,90.2L938.0,87.0L937.8,83.8L937.6,80.5L937.5,77.3L937.4,74.0L937.2,70.8L937.1,67.6L937.0,64.3L936.9,61.1L936.8,57.8L936.8,54.6L936.7,51.4L936.6,48.1L936.6,44.9L936.5,41.6L936.5,38.4L936.5,35.2L936.4,31.9L936.4,28.7L936.4,25.4L936.4,22.2L936.0,22.2Z" fill="#0B6FBE"/><line x1="935.4" y1="170.2" x2="935.4" y2="220.9" stroke="#B2F53A" stroke-width="1.6"/><line x1="935.4" y1="215.9" x2="935.4" y2="220.9" stroke="#E8EE20" stroke-width="1.6"/><line x1="925.9" y1="194.5" x2="936.2" y2="194.5" stroke="#4a3a20" stroke-opacity="0.85" stroke-width="1.1"/><line x1="936.2" y1="197.9" x2="946.5" y2="197.9" stroke="#10202c" stroke-opacity="0.9" stroke-width="1.1"/><path d="M961.7,249.0L953.7,249.0L953.4,245.8L953.0,242.5L952.7,239.3L952.4,236.0L952.2,232.8L952.0,229.6L951.8,226.3L951.6,223.1L951.5,219.8L951.4,216.6L951.3,213.4L951.2,210.1L951.2,206.9L951.3,203.6L951.4,200.4L951.6,197.2L951.7,193.9L952.1,190.7L952.4,187.4L952.8,184.2L953.1,181.0L953.5,177.7L953.9,174.5L954.2,171.2L954.6,168.0L954.9,164.8L955.3,161.5L955.6,158.3L955.9,155.0L956.2,151.8L956.5,148.6L956.8,145.3L957.0,142.1L957.3,138.8L957.5,135.6L957.7,132.4L957.8,129.1L958.0,125.9L958.2,122.6L958.4,119.4L958.5,116.2L958.7,112.9L958.9,109.7L959.1,106.4L959.2,103.2L959.4,100.0L959.6,96.7L959.8,93.5L960.0,90.2L960.1,87.0L960.3,83.8L960.4,80.5L960.5,77.3L961.0,74.0L961.1,70.8L961.2,67.6L961.2,64.3L961.3,61.1L961.3,57.8L961.4,54.6L961.4,51.4L961.4,48.1L961.5,44.9L961.5,41.6L961.5,38.4L961.5,35.2L961.6,31.9L961.6,28.7L961.6,25.4L961.6,22.2L961.7,22.2Z" fill="#FCC030"/><path d="M961.6,249.0L969.3,249.0L969.7,245.8L970.0,242.5L970.3,239.3L970.6,236.0L970.8,232.8L971.1,229.6L971.3,226.3L971.4,223.1L971.6,219.8L971.7,216.6L971.7,213.4L971.8,210.1L971.8,206.9L971.7,203.6L971.6,200.4L971.5,197.2L971.3,193.9L971.0,190.7L970.7,187.4L970.3,184.2L970.0,181.0L969.6,177.7L969.3,174.5L968.9,171.2L968.6,168.0L968.2,164.8L967.9,161.5L967.6,158.3L967.3,155.0L967.0,151.8L966.7,148.6L966.4,145.3L966.2,142.1L966.0,138.8L965.8,135.6L965.6,132.4L965.5,129.1L965.3,125.9L965.1,122.6L965.0,119.4L964.8,116.2L964.6,112.9L964.5,109.7L964.3,106.4L964.1,103.2L963.9,100.0L963.8,96.7L963.6,93.5L963.4,90.2L963.2,87.0L963.1,83.8L963.0,80.5L962.9,77.3L962.8,74.0L962.7,70.8L962.5,67.6L962.4,64.3L962.4,61.1L962.3,57.8L962.2,54.6L962.2,51.4L962.1,48.1L962.1,44.9L962.0,41.6L962.0,38.4L962.0,35.2L962.0,31.9L962.0,28.7L962.0,25.4L962.0,22.2L961.6,22.2Z" fill="#0B6FBE"/><line x1="960.9" y1="171.2" x2="960.9" y2="239.6" stroke="#B2F53A" stroke-width="1.6"/><line x1="960.9" y1="234.6" x2="960.9" y2="239.6" stroke="#E8EE20" stroke-width="1.6"/><line x1="951.2" y1="205.8" x2="961.7" y2="205.8" stroke="#4a3a20" stroke-opacity="0.85" stroke-width="1.1"/><line x1="961.7" y1="208.0" x2="971.8" y2="208.0" stroke="#10202c" stroke-opacity="0.9" stroke-width="1.1"/><path d="M987.2,249.0L979.0,249.0L978.8,245.8L978.5,242.5L978.2,239.3L978.0,236.0L977.7,232.8L977.5,229.6L977.4,226.3L977.2,223.1L977.0,219.8L976.9,216.6L976.8,213.4L976.7,210.1L976.6,206.9L976.6,203.6L976.6,200.4L976.6,197.2L976.7,193.9L976.8,190.7L977.0,187.4L977.2,184.2L977.5,181.0L977.9,177.7L978.3,174.5L978.7,171.2L979.1,168.0L979.5,164.8L979.9,161.5L980.3,158.3L980.6,155.0L981.0,151.8L981.3,148.6L981.7,145.3L982.0,142.1L982.3,138.8L982.5,135.6L982.8,132.4L983.0,129.1L983.2,125.9L983.4,122.6L983.5,119.4L983.7,116.2L983.9,112.9L984.1,109.7L984.3,106.4L984.5,103.2L984.7,100.0L984.9,96.7L985.1,93.5L986.0,90.2L986.1,87.0L986.2,83.8L986.3,80.5L986.4,77.3L986.5,74.0L986.6,70.8L986.6,67.6L986.7,64.3L986.8,61.1L986.8,57.8L986.9,54.6L986.9,51.4L986.9,48.1L987.0,44.9L987.0,41.6L987.1,38.4L987.1,35.2L987.1,31.9L987.1,28.7L987.1,25.4L987.1,22.2L987.2,22.2Z" fill="#FCC030"/><path d="M987.1,249.0L995.9,249.0L996.0,245.8L996.2,242.5L996.3,239.3L996.4,236.0L996.5,232.8L996.6,229.6L996.7,226.3L996.8,223.1L996.9,219.8L997.0,216.6L997.0,213.4L997.1,210.1L997.1,206.9L997.1,203.6L997.1,200.4L997.1,197.2L997.0,193.9L996.9,190.7L996.8,187.4L996.6,184.2L996.2,181.0L995.9,177.7L995.5,174.5L995.1,171.2L994.8,168.0L994.4,164.8L994.1,161.5L993.7,158.3L993.4,155.0L993.1,151.8L992.7,148.6L992.4,145.3L992.1,142.1L991.8,138.8L991.6,135.6L991.4,132.4L991.2,129.1L991.0,125.9L990.9,122.6L990.7,119.4L990.5,116.2L990.3,112.9L990.2,109.7L990.0,106.4L989.8,103.2L989.6,100.0L989.5,96.7L989.3,93.5L989.1,90.2L988.9,87.0L988.7,83.8L988.6,80.5L988.5,77.3L988.4,74.0L988.2,70.8L988.1,67.6L988.0,64.3L987.9,61.1L987.8,57.8L987.8,54.6L987.7,51.4L987.7,48.1L987.6,44.9L987.6,41.6L987.5,38.4L987.5,35.2L987.5,31.9L987.5,28.7L987.5,25.4L987.5,22.2L987.1,22.2Z" fill="#0B6FBE"/><line x1="986.5" y1="174.5" x2="986.5" y2="223.1" stroke="#B2F53A" stroke-width="1.6"/><line x1="986.5" y1="218.1" x2="986.5" y2="223.1" stroke="#E8EE20" stroke-width="1.6"/><line x1="976.6" y1="198.2" x2="987.2" y2="198.2" stroke="#4a3a20" stroke-opacity="0.85" stroke-width="1.1"/><path d="M1012.8,249.0L1005.7,249.0L1005.2,245.8L1004.8,242.5L1004.4,239.3L1004.1,236.0L1003.7,232.8L1003.4,229.6L1003.2,226.3L1002.9,223.1L1002.7,219.8L1002.5,216.6L1002.3,213.4L1002.2,210.1L1002.1,206.9L1002.0,203.6L1001.9,200.4L1001.9,197.2L1001.9,193.9L1002.1,190.7L1002.2,187.4L1002.4,184.2L1002.7,181.0L1003.1,177.7L1003.5,174.5L1003.9,171.2L1004.3,168.0L1004.7,164.8L1005.1,161.5L1005.5,158.3L1005.9,155.0L1006.2,151.8L1006.6,148.6L1007.0,145.3L1007.3,142.1L1007.6,138.8L1007.9,135.6L1008.1,132.4L1008.4,129.1L1008.6,125.9L1008.8,122.6L1009.0,119.4L1009.1,116.2L1009.3,112.9L1009.5,109.7L1009.7,106.4L1009.9,103.2L1010.1,100.0L1010.3,96.7L1010.5,93.5L1010.7,90.2L1010.9,87.0L1011.1,83.8L1011.3,80.5L1011.4,77.3L1011.5,74.0L1011.7,70.8L1012.1,67.6L1012.2,64.3L1012.3,61.1L1012.3,57.8L1012.4,54.6L1012.4,51.4L1012.5,48.1L1012.5,44.9L1012.6,41.6L1012.6,38.4L1012.6,35.2L1012.6,31.9L1012.6,28.7L1012.6,25.4L1012.6,22.2L1012.8,22.2Z" fill="#FCC030"/><path d="M1012.6,249.0L1020.0,249.0L1020.3,245.8L1020.6,242.5L1020.9,239.3L1021.2,236.0L1021.5,232.8L1021.7,229.6L1021.9,226.3L1022.1,223.1L1022.3,219.8L1022.4,216.6L1022.5,213.4L1022.7,210.1L1022.7,206.9L1022.8,203.6L1022.9,200.4L1022.9,197.2L1022.8,193.9L1022.7,190.7L1022.6,187.4L1022.4,184.2L1022.1,181.0L1021.8,177.7L1021.4,174.5L1021.0,171.2L1020.6,168.0L1020.2,164.8L1019.9,161.5L1019.5,158.3L1019.2,155.0L1018.8,151.8L1018.5,148.6L1018.2,145.3L1017.8,142.1L1017.5,138.8L1017.3,135.6L1017.1,132.4L1016.9,129.1L1016.7,125.9L1016.5,122.6L1016.3,119.4L1016.1,116.2L1016.0,112.9L1015.8,109.7L1015.6,106.4L1015.4,103.2L1015.3,100.0L1015.1,96.7L1014.9,93.5L1014.7,90.2L1014.5,87.0L1014.3,83.8L1014.1,80.5L1014.0,77.3L1013.9,74.0L1013.8,70.8L1013.7,67.6L1013.6,64.3L1013.5,61.1L1013.4,57.8L1013.3,54.6L1013.3,51.4L1013.2,48.1L1013.2,44.9L1013.1,41.6L1013.1,38.4L1013.0,35.2L1013.0,31.9L1013.0,28.7L1013.0,25.4L1013.0,22.2L1012.6,22.2Z" fill="#0B6FBE"/><line x1="1012.0" y1="171.2" x2="1012.0" y2="223.1" stroke="#B2F53A" stroke-width="1.6"/><line x1="1012.0" y1="218.1" x2="1012.0" y2="223.1" stroke="#E8EE20" stroke-width="1.6"/><line x1="1001.9" y1="195.3" x2="1012.8" y2="195.3" stroke="#4a3a20" stroke-opacity="0.85" stroke-width="1.1"/><path d="M1038.3,249.0L1032.2,249.0L1031.7,245.8L1031.2,242.5L1030.8,239.3L1030.3,236.0L1030.0,232.8L1029.6,229.6L1029.3,226.3L1029.0,223.1L1028.8,219.8L1028.5,216.6L1028.3,213.4L1028.2,210.1L1028.1,206.9L1028.0,203.6L1027.9,200.4L1027.9,197.2L1028.0,193.9L1028.2,190.7L1028.3,187.4L1028.5,184.2L1028.9,181.0L1029.2,177.7L1029.6,174.5L1030.0,171.2L1030.4,168.0L1030.8,164.8L1031.2,161.5L1031.5,158.3L1031.9,155.0L1032.2,151.8L1032.5,148.6L1032.9,145.3L1033.2,142.1L1033.5,138.8L1033.7,135.6L1034.0,132.4L1034.2,129.1L1034.3,125.9L1034.5,122.6L1034.7,119.4L1034.9,116.2L1035.1,112.9L1035.3,109.7L1035.4,106.4L1035.6,103.2L1036.7,100.0L1036.8,96.7L1036.9,93.5L1037.0,90.2L1037.2,87.0L1037.3,83.8L1037.4,80.5L1037.5,77.3L1037.6,74.0L1037.6,70.8L1037.7,67.6L1037.8,64.3L1037.9,61.1L1037.9,57.8L1037.9,54.6L1038.0,51.4L1038.0,48.1L1038.1,44.9L1038.1,41.6L1038.1,38.4L1038.1,35.2L1038.1,31.9L1038.2,28.7L1038.2,25.4L1038.2,22.2L1038.3,22.2Z" fill="#FCC030"/><path d="M1038.2,249.0L1045.0,249.0L1045.5,245.8L1045.9,242.5L1046.3,239.3L1046.7,236.0L1047.0,232.8L1047.3,229.6L1047.6,226.3L1047.8,223.1L1048.1,219.8L1048.3,216.6L1048.4,213.4L1048.6,210.1L1048.7,206.9L1048.7,203.6L1048.8,200.4L1048.8,197.2L1048.7,193.9L1048.6,190.7L1048.4,187.4L1048.2,184.2L1047.8,181.0L1047.5,177.7L1047.1,174.5L1046.7,171.2L1046.3,168.0L1045.9,164.8L1045.5,161.5L1045.2,158.3L1044.8,155.0L1044.5,151.8L1044.1,148.6L1043.8,145.3L1043.5,142.1L1043.2,138.8L1042.9,135.6L1042.7,132.4L1042.5,129.1L1042.3,125.9L1042.1,122.6L1041.9,119.4L1041.8,116.2L1041.6,112.9L1041.4,109.7L1041.2,106.4L1041.0,103.2L1040.8,100.0L1040.6,96.7L1040.5,93.5L1040.3,90.2L1040.1,87.0L1039.9,83.8L1039.7,80.5L1039.6,77.3L1039.5,74.0L1039.4,70.8L1039.2,67.6L1039.1,64.3L1039.0,61.1L1038.9,57.8L1038.9,54.6L1038.8,51.4L1038.8,48.1L1038.7,44.9L1038.6,41.6L1038.6,38.4L1038.6,35.2L1038.6,31.9L1038.6,28.7L1038.6,25.4L1038.6,22.2L1038.2,22.2Z" fill="#0B6FBE"/><line x1="1037.5" y1="172.9" x2="1037.5" y2="222.4" stroke="#B2F53A" stroke-width="1.6"/><line x1="1037.5" y1="217.4" x2="1037.5" y2="222.4" stroke="#E8EE20" stroke-width="1.6"/><line x1="1027.9" y1="196.5" x2="1038.3" y2="196.5" stroke="#4a3a20" stroke-opacity="0.85" stroke-width="1.1"/><line x1="1038.3" y1="198.6" x2="1048.8" y2="198.6" stroke="#10202c" stroke-opacity="0.9" stroke-width="1.1"/><path d="M1063.8,249.0L1057.1,249.0L1056.7,245.8L1056.2,242.5L1055.8,239.3L1055.4,236.0L1055.1,232.8L1054.7,229.6L1054.5,226.3L1054.2,223.1L1054.0,219.8L1053.8,216.6L1053.6,213.4L1053.5,210.1L1053.4,206.9L1053.4,203.6L1053.3,200.4L1053.4,197.2L1053.6,193.9L1053.7,190.7L1053.9,187.4L1054.2,184.2L1054.6,181.0L1055.0,177.7L1055.4,174.5L1055.7,171.2L1056.1,168.0L1056.5,164.8L1056.9,161.5L1057.2,158.3L1057.5,155.0L1057.9,151.8L1058.2,148.6L1058.5,145.3L1058.9,142.1L1059.1,138.8L1059.3,135.6L1059.6,132.4L1059.7,129.1L1059.9,125.9L1060.1,122.6L1060.3,119.4L1060.5,116.2L1060.7,112.9L1060.8,109.7L1061.0,106.4L1061.2,103.2L1061.4,100.0L1061.6,96.7L1061.8,93.5L1061.9,90.2L1062.1,87.0L1062.9,83.8L1063.0,80.5L1063.0,77.3L1063.1,74.0L1063.2,70.8L1063.2,67.6L1063.3,64.3L1063.4,61.1L1063.4,57.8L1063.5,54.6L1063.5,51.4L1063.5,48.1L1063.6,44.9L1063.6,41.6L1063.6,38.4L1063.7,35.2L1063.7,31.9L1063.7,28.7L1063.7,25.4L1063.7,22.2L1063.8,22.2Z" fill="#FCC030"/><path d="M1063.7,249.0L1070.8,249.0L1071.3,245.8L1071.7,242.5L1072.1,239.3L1072.4,236.0L1072.8,232.8L1073.0,229.6L1073.3,226.3L1073.5,223.1L1073.7,219.8L1073.9,216.6L1074.1,213.4L1074.2,210.1L1074.3,206.9L1074.3,203.6L1074.3,200.4L1074.2,197.2L1074.1,193.9L1074.0,190.7L1073.8,187.4L1073.5,184.2L1073.1,181.0L1072.7,177.7L1072.3,174.5L1071.9,171.2L1071.6,168.0L1071.2,164.8L1070.8,161.5L1070.5,158.3L1070.1,155.0L1069.8,151.8L1069.5,148.6L1069.1,145.3L1068.8,142.1L1068.6,138.8L1068.3,135.6L1068.1,132.4L1067.9,129.1L1067.8,125.9L1067.6,122.6L1067.4,119.4L1067.2,116.2L1067.0,112.9L1066.8,109.7L1066.7,106.4L1066.5,103.2L1066.3,100.0L1066.1,96.7L1065.9,93.5L1065.7,90.2L1065.6,87.0L1065.4,83.8L1065.2,80.5L1065.1,77.3L1065.0,74.0L1064.9,70.8L1064.8,67.6L1064.6,64.3L1064.5,61.1L1064.5,57.8L1064.4,54.6L1064.3,51.4L1064.3,48.1L1064.2,44.9L1064.2,41.6L1064.1,38.4L1064.1,35.2L1064.1,31.9L1064.1,28.7L1064.1,25.4L1064.1,22.2L1063.7,22.2Z" fill="#0B6FBE"/><line x1="1063.0" y1="173.7" x2="1063.0" y2="232.8" stroke="#B2F53A" stroke-width="1.6"/><line x1="1063.0" y1="227.8" x2="1063.0" y2="232.8" stroke="#E8EE20" stroke-width="1.6"/><line x1="1053.3" y1="200.4" x2="1063.8" y2="200.4" stroke="#4a3a20" stroke-opacity="0.85" stroke-width="1.1"/><line x1="1063.8" y1="202.1" x2="1074.3" y2="202.1" stroke="#10202c" stroke-opacity="0.9" stroke-width="1.1"/><path d="M1089.4,249.0L1082.3,249.0L1081.9,245.8L1081.5,242.5L1081.1,239.3L1080.8,236.0L1080.5,232.8L1080.3,229.6L1080.0,226.3L1079.8,223.1L1079.6,219.8L1079.5,216.6L1079.3,213.4L1079.2,210.1L1079.1,206.9L1079.1,203.6L1079.1,200.4L1079.2,197.2L1079.3,193.9L1079.4,190.7L1079.6,187.4L1079.9,184.2L1080.3,181.0L1080.7,177.7L1081.0,174.5L1081.4,171.2L1081.8,168.0L1082.2,164.8L1082.5,161.5L1082.9,158.3L1083.2,155.0L1083.5,151.8L1083.8,148.6L1084.2,145.3L1084.5,142.1L1084.7,138.8L1085.0,135.6L1085.2,132.4L1085.4,129.1L1085.5,125.9L1085.7,122.6L1085.9,119.4L1086.1,116.2L1086.2,112.9L1086.4,109.7L1086.6,106.4L1086.8,103.2L1087.0,100.0L1087.1,96.7L1087.3,93.5L1087.5,90.2L1087.7,87.0L1087.9,83.8L1088.5,80.5L1088.6,77.3L1088.6,74.0L1088.7,70.8L1088.8,67.6L1088.9,64.3L1088.9,61.1L1089.0,57.8L1089.0,54.6L1089.0,51.4L1089.1,48.1L1089.1,44.9L1089.2,41.6L1089.2,38.4L1089.2,35.2L1089.2,31.9L1089.2,28.7L1089.2,25.4L1089.2,22.2L1089.4,22.2Z" fill="#FCC030"/><path d="M1089.2,249.0L1097.6,249.0L1097.8,245.8L1098.1,242.5L1098.3,239.3L1098.6,236.0L1098.8,232.8L1099.0,229.6L1099.1,226.3L1099.3,223.1L1099.4,219.8L1099.5,216.6L1099.6,213.4L1099.7,210.1L1099.7,206.9L1099.8,203.6L1099.8,200.4L1099.7,197.2L1099.5,193.9L1099.4,190.7L1099.2,187.4L1098.9,184.2L1098.5,181.0L1098.2,177.7L1097.8,174.5L1097.4,171.2L1097.0,168.0L1096.6,164.8L1096.3,161.5L1095.9,158.3L1095.6,155.0L1095.3,151.8L1094.9,148.6L1094.6,145.3L1094.3,142.1L1094.1,138.8L1093.8,135.6L1093.6,132.4L1093.4,129.1L1093.2,125.9L1093.1,122.6L1092.9,119.4L1092.7,116.2L1092.5,112.9L1092.4,109.7L1092.2,106.4L1092.0,103.2L1091.8,100.0L1091.6,96.7L1091.4,93.5L1091.3,90.2L1091.1,87.0L1090.9,83.8L1090.7,80.5L1090.6,77.3L1090.5,74.0L1090.4,70.8L1090.3,67.6L1090.2,64.3L1090.1,61.1L1090.0,57.8L1089.9,54.6L1089.9,51.4L1089.8,48.1L1089.8,44.9L1089.7,41.6L1089.7,38.4L1089.6,35.2L1089.6,31.9L1089.6,28.7L1089.6,25.4L1089.6,22.2L1089.2,22.2Z" fill="#0B6FBE"/><line x1="1088.6" y1="172.9" x2="1088.6" y2="234.4" stroke="#B2F53A" stroke-width="1.6"/><line x1="1088.6" y1="229.4" x2="1088.6" y2="234.4" stroke="#E8EE20" stroke-width="1.6"/><line x1="1079.1" y1="200.4" x2="1089.4" y2="200.4" stroke="#4a3a20" stroke-opacity="0.85" stroke-width="1.1"/><line x1="1089.4" y1="201.9" x2="1099.8" y2="201.9" stroke="#10202c" stroke-opacity="0.9" stroke-width="1.1"/></g><rect x="836.5" y="24.1" width="276.0" height="233.79999999999998" fill="none" stroke="#6a6a6a" stroke-width="1"/><line x1="831.7" y1="249.0" x2="836.5" y2="249.0" stroke="#666" stroke-width="0.8"/><text x="825.3" y="249.0" font-size="7.5" fill="#222" text-anchor="middle" transform="rotate(-90 825.3 249.0)">0</text><line x1="831.7" y1="195.0" x2="836.5" y2="195.0" stroke="#666" stroke-width="0.8"/><text x="825.3" y="195.0" font-size="7.5" fill="#222" text-anchor="middle" transform="rotate(-90 825.3 195.0)">5</text><line x1="831.7" y1="141.0" x2="836.5" y2="141.0" stroke="#666" stroke-width="0.8"/><text x="825.3" y="141.0" font-size="7.5" fill="#222" text-anchor="middle" transform="rotate(-90 825.3 141.0)">10</text><line x1="831.7" y1="87.0" x2="836.5" y2="87.0" stroke="#666" stroke-width="0.8"/><text x="825.3" y="87.0" font-size="7.5" fill="#222" text-anchor="middle" transform="rotate(-90 825.3 87.0)">15</text><line x1="831.7" y1="33.0" x2="836.5" y2="33.0" stroke="#666" stroke-width="0.8"/><text x="825.3" y="33.0" font-size="7.5" fill="#222" text-anchor="middle" transform="rotate(-90 825.3 33.0)">20</text><line x1="859.6" y1="257.9" x2="859.6" y2="262.9" stroke="#666" stroke-width="0.8"/><text x="859.6" y="275.6" font-size="8.5" fill="#222" text-anchor="middle">1</text><line x1="885.1" y1="257.9" x2="885.1" y2="262.9" stroke="#666" stroke-width="0.8"/><text x="885.1" y="275.6" font-size="8.5" fill="#222" text-anchor="middle">2</text><line x1="910.7" y1="257.9" x2="910.7" y2="262.9" stroke="#666" stroke-width="0.8"/><text x="910.7" y="275.6" font-size="8.5" fill="#222" text-anchor="middle">3</text><line x1="936.2" y1="257.9" x2="936.2" y2="262.9" stroke="#666" stroke-width="0.8"/><text x="936.2" y="275.6" font-size="8.5" fill="#222" text-anchor="middle">4</text><line x1="961.7" y1="257.9" x2="961.7" y2="262.9" stroke="#666" stroke-width="0.8"/><text x="961.7" y="275.6" font-size="8.5" fill="#222" text-anchor="middle">5</text><line x1="987.2" y1="257.9" x2="987.2" y2="262.9" stroke="#666" stroke-width="0.8"/><text x="987.2" y="275.6" font-size="8.5" fill="#222" text-anchor="middle">6</text><line x1="1012.8" y1="257.9" x2="1012.8" y2="262.9" stroke="#666" stroke-width="0.8"/><text x="1012.8" y="275.6" font-size="8.5" fill="#222" text-anchor="middle">7</text><line x1="1038.3" y1="257.9" x2="1038.3" y2="262.9" stroke="#666" stroke-width="0.8"/><text x="1038.3" y="275.6" font-size="8.5" fill="#222" text-anchor="middle">8</text><line x1="1063.8" y1="257.9" x2="1063.8" y2="262.9" stroke="#666" stroke-width="0.8"/><text x="1063.8" y="275.6" font-size="8.5" fill="#222" text-anchor="middle">9</text><line x1="1089.4" y1="257.9" x2="1089.4" y2="262.9" stroke="#666" stroke-width="0.8"/><text x="1089.4" y="275.6" font-size="8.5" fill="#222" text-anchor="middle">10</text><text x="974.9" y="293.8" font-size="8" fill="#222" text-anchor="middle">pseudo−chromosome</text><text x="806.2" y="140.6" font-size="7.5" fill="#000" text-anchor="middle" transform="rotate(-90 806.2 140.6)">nucleotide diversity (×1e−3)</text><rect x="1140" y="64" width="10" height="9.7" fill="#FFBF00"/><rect x="1140" y="96.4" width="10" height="9.7" fill="#0070C0"/><text x="1130.2" y="86.2" font-size="9" fill="#333" text-anchor="start">C. gigas</text><text x="1130.2" y="118.0" font-size="9" fill="#333" text-anchor="start">C. angulata</text></g>
<g id="pd"><path d="M58.8,407.6C59.0,410.1 59.4,417.7 59.8,422.6C60.2,427.5 60.7,432.5 61.3,436.9C61.9,441.3 62.4,445.3 63.3,449.2C64.2,453.1 65.2,457.1 66.4,460.5C67.6,463.9 69.1,466.8 70.5,469.7C71.9,472.6 73.2,475.5 74.6,477.9C76.0,480.3 77.3,482.3 78.7,484.1C80.1,485.9 81.1,487.0 82.8,488.6C84.5,490.2 87.1,492.2 89.0,493.9C90.9,495.6 91.9,497.2 94.1,498.9C96.3,500.6 99.4,502.7 102.3,504.2C105.2,505.7 108.9,506.3 111.5,507.7C114.1,509.1 115.0,511.1 117.7,512.8C120.4,514.5 124.1,516.2 127.9,517.9C131.7,519.6 136.2,521.5 140.3,523.1C144.4,524.7 147.7,525.8 152.6,527.2C157.5,528.6 163.7,530.2 170.0,531.7C176.3,533.2 182.5,534.7 190.4,536.3C198.3,537.9 208.3,539.7 217.3,541.1C226.3,542.5 235.6,543.6 244.6,544.9C253.6,546.2 262.6,547.5 271.5,548.8C280.4,550.1 289.3,551.3 298.3,552.6C307.3,553.9 316.3,555.4 325.7,556.4C335.1,557.4 350.0,558.4 354.9,558.8" fill="none" stroke="#E31A1C" stroke-width="1.9" stroke-linejoin="round"/><path d="M58.8,407.6C59.0,410.4 59.4,419.0 59.8,424.6C60.2,430.2 60.7,436.0 61.3,441.0C61.9,446.0 62.4,450.3 63.3,454.4C64.2,458.5 65.2,462.0 66.4,465.6C67.6,469.2 69.1,472.6 70.5,475.9C71.9,479.1 73.2,482.5 74.6,485.1C76.0,487.7 77.3,489.4 78.7,491.3C80.1,493.2 81.1,494.9 82.8,496.8C84.5,498.7 87.1,501.0 89.0,502.6C90.9,504.2 91.9,505.1 94.1,506.7C96.3,508.3 99.4,510.6 102.3,512.4C105.2,514.2 108.9,515.6 111.5,517.3C114.1,519.0 115.0,520.9 117.7,522.7C120.4,524.5 124.1,526.4 127.9,528.2C131.7,530.0 135.5,531.5 140.3,533.3C145.1,535.1 151.8,537.5 156.7,539.1C161.6,540.7 164.4,541.3 170.0,542.8C175.6,544.2 182.5,546.1 190.4,547.8C198.3,549.5 208.3,551.4 217.3,553.1C226.3,554.8 235.6,556.4 244.6,557.9C253.6,559.4 262.6,560.9 271.5,562.2C280.4,563.6 289.3,564.6 298.3,566.0C307.3,567.4 316.3,569.1 325.7,570.3C335.1,571.5 350.0,572.7 354.9,573.2" fill="none" stroke="#1570C2" stroke-width="1.9" stroke-linejoin="round"/><path d="M54.6,595.8L54.6,375.4L358.2,375.4" fill="none" stroke="#000" stroke-width="1.2"/><path d="M358.2,375.4L358.2,595.8" fill="none" stroke="#444" stroke-width="1.1"/><path d="M51.1,595.8L358.2,595.8" fill="none" stroke="#333" stroke-width="1.1"/><path d="M298.4,596.4L358.2,596.4" fill="none" stroke="#000" stroke-width="1.3"/><line x1="51.1" y1="375.4" x2="54.6" y2="375.4" stroke="#000" stroke-width="1.1"/><text x="44.3" y="378.9" font-size="10" fill="#111" text-anchor="end">0.35</text><line x1="51.1" y1="412.1" x2="59.0" y2="412.1" stroke="#000" stroke-width="1.1"/><text x="44.3" y="415.6" font-size="10" fill="#111" text-anchor="end">0.30</text><line x1="51.1" y1="448.9" x2="59.0" y2="448.9" stroke="#000" stroke-width="1.1"/><text x="44.3" y="452.4" font-size="10" fill="#111" text-anchor="end">0.25</text><line x1="51.1" y1="485.6" x2="59.0" y2="485.6" stroke="#000" stroke-width="1.1"/><text x="44.3" y="489.1" font-size="10" fill="#111" text-anchor="end">0.20</text><line x1="51.1" y1="522.3" x2="59.0" y2="522.3" stroke="#000" stroke-width="1.1"/><text x="44.3" y="525.8" font-size="10" fill="#111" text-anchor="end">0.15</text><line x1="51.1" y1="559.0" x2="59.0" y2="559.0" stroke="#000" stroke-width="1.1"/><text x="44.3" y="562.5" font-size="10" fill="#111" text-anchor="end">0.10</text><line x1="51.1" y1="595.8" x2="54.6" y2="595.8" stroke="#000" stroke-width="1.1"/><text x="44.3" y="599.3" font-size="10" fill="#111" text-anchor="end">0.05</text><line x1="54.4" y1="592.3" x2="54.4" y2="599.4" stroke="#000" stroke-width="1.0"/><line x1="81.5" y1="592.3" x2="81.5" y2="599.4" stroke="#000" stroke-width="1.0"/><line x1="108.6" y1="592.3" x2="108.6" y2="599.4" stroke="#000" stroke-width="1.0"/><line x1="135.8" y1="592.3" x2="135.8" y2="599.4" stroke="#000" stroke-width="1.0"/><line x1="162.9" y1="592.3" x2="162.9" y2="599.4" stroke="#000" stroke-width="1.0"/><line x1="190.0" y1="592.3" x2="190.0" y2="599.4" stroke="#000" stroke-width="1.0"/><line x1="217.1" y1="592.3" x2="217.1" y2="599.4" stroke="#000" stroke-width="1.0"/><line x1="244.2" y1="592.3" x2="244.2" y2="599.4" stroke="#000" stroke-width="1.0"/><line x1="271.4" y1="592.3" x2="271.4" y2="599.4" stroke="#000" stroke-width="1.0"/><line x1="298.5" y1="592.3" x2="298.5" y2="599.4" stroke="#000" stroke-width="1.0"/><line x1="325.6" y1="592.3" x2="325.6" y2="599.4" stroke="#000" stroke-width="1.0"/><line x1="352.7" y1="592.3" x2="352.7" y2="599.4" stroke="#000" stroke-width="1.0"/><text transform="translate(54.4,619.8) scale(0.88,1)" font-size="10.7" fill="#111" text-anchor="middle">0</text><text transform="translate(108.6,619.8) scale(0.88,1)" font-size="10.7" fill="#111" text-anchor="middle">100</text><text transform="translate(162.9,619.8) scale(0.88,1)" font-size="10.7" fill="#111" text-anchor="middle">300</text><text transform="translate(217.1,619.8) scale(0.88,1)" font-size="10.7" fill="#111" text-anchor="middle">500</text><text transform="translate(271.4,619.8) scale(0.88,1)" font-size="10.7" fill="#111" text-anchor="middle">700</text><text transform="translate(325.6,620.8) scale(0.88,1)" font-size="10.7" fill="#111" text-anchor="middle">900</text><text x="197.8" y="642.3" font-size="11" fill="#111" text-anchor="middle">Distance(bp)</text><text x="17.2" y="473.8" font-size="9.3" fill="#4a4a4a" text-anchor="middle" transform="rotate(-90 17.2 473.8)">Mean_r^2</text><line x1="291.9" y1="459.4" x2="306.6" y2="459.4" stroke="#E31A1C" stroke-width="1.9"/><line x1="322" y1="459.4" x2="337.2" y2="459.4" stroke="#1570C2" stroke-width="1.9"/><text x="307.2" y="463.9" font-size="9" fill="#222" text-anchor="start">AN</text><text x="338.0" y="463.9" font-size="9" fill="#222" text-anchor="start">GI</text></g>
<g id="pe"><clipPath id="ce"><rect x="452.6" y="372.4" width="319.1" height="229.30000000000007"/></clipPath><g clip-path="url(#ce)"><path d="M534.1,471.4h6M515.1,472.4h7M534.1,472.4h6M515.1,473.4h7M521.1,480.4h4M521.1,481.4h7M521.1,482.4h7M521.1,483.4h7M518.1,484.4h10M518.1,485.4h4M518.1,486.4h4M518.1,487.4h4M518.1,488.4h4M539.1,488.4h3M518.1,489.4h4M539.1,489.4h3M553.1,489.4h7M531.1,492.4h5M507.1,493.4h5M520.1,493.4h4M531.1,493.4h5M507.1,494.4h5M520.1,494.4h4M531.1,494.4h5M507.1,495.4h5M517.1,495.4h7M537.1,495.4h4M507.1,496.4h5M517.1,496.4h7M537.1,496.4h4M507.1,497.4h5M517.1,497.4h7M537.1,497.4h4M507.1,498.4h19M537.1,498.4h3M551.1,498.4h5M508.1,499.4h19M546.1,499.4h10M509.1,500.4h18M546.1,500.4h5M509.1,501.4h18M532.1,501.4h6M546.1,501.4h5M509.1,502.4h18M532.1,502.4h4M546.1,502.4h5M509.1,503.4h18M532.1,503.4h4M546.1,503.4h5M509.1,504.4h27M546.1,504.4h5M509.1,505.4h27M546.1,505.4h6M507.1,506.4h29M546.1,506.4h6M507.1,507.4h26M538.1,507.4h6M507.1,508.4h26M538.1,508.4h6M550.1,508.4h3M566.1,508.4h10M507.1,509.4h26M538.1,509.4h6M550.1,509.4h4M566.1,509.4h6M507.1,510.4h26M538.1,510.4h6M550.1,510.4h11M566.1,510.4h6M507.1,511.4h26M538.1,511.4h6M550.1,511.4h11M566.1,511.4h6M507.1,512.4h38M550.1,512.4h11M566.1,512.4h6M507.1,513.4h54M566.1,513.4h6M507.1,514.4h54M566.1,514.4h7M507.1,515.4h68M507.1,516.4h39M551.1,516.4h10M566.1,516.4h9M507.1,517.4h39M551.1,517.4h10M507.1,518.4h39M551.1,518.4h10M573.1,518.4h6M507.1,519.4h36M551.1,519.4h10M573.1,519.4h7M507.1,520.4h36M551.1,520.4h10M573.1,520.4h7M507.1,521.4h36M549.1,521.4h12M573.1,521.4h7M507.1,522.4h36M549.1,522.4h12M573.1,522.4h7M507.1,523.4h36M549.1,523.4h31M507.1,524.4h36M549.1,524.4h31M507.1,525.4h36M549.1,525.4h30M507.1,526.4h72M507.1,527.4h72M507.1,528.4h72M493.1,529.4h6M507.1,529.4h72M493.1,530.4h91M493.1,531.4h94M488.1,532.4h105M489.1,533.4h104M598.1,533.4h3M489.1,534.4h112M609.1,534.4h3M489.1,535.4h112M489.1,536.4h101M595.1,536.4h6M489.1,537.4h99M596.1,537.4h5M479.1,538.4h3M488.1,538.4h100M596.1,538.4h7M480.1,539.4h108M596.1,539.4h4M480.1,540.4h108M596.1,540.4h4M483.1,541.4h105M596.1,541.4h4M605.1,541.4h6M483.1,542.4h117M483.1,543.4h117M483.1,544.4h124M483.1,545.4h124M483.1,546.4h124M629.1,546.4h7M479.1,547.4h128M629.1,547.4h7M479.1,548.4h136M629.1,548.4h7M479.1,549.4h143M629.1,549.4h7M479.1,550.4h142M628.1,550.4h8M479.1,551.4h142M628.1,551.4h7M479.1,552.4h133M617.1,552.4h4M628.1,552.4h7M479.1,553.4h133M627.1,553.4h4M479.1,554.4h133M480.1,555.4h132M480.1,556.4h132M622.1,556.4h4M480.1,557.4h135M622.1,557.4h4M480.1,558.4h135M622.1,558.4h4M480.1,559.4h135M621.1,559.4h10M481.1,560.4h134M621.1,560.4h10M481.1,561.4h159M481.1,562.4h162M481.1,563.4h154M481.1,564.4h145M631.1,564.4h4M480.1,565.4h146M631.1,565.4h4M480.1,566.4h146M631.1,566.4h4M480.1,567.4h145M631.1,567.4h4M480.1,568.4h145M631.1,568.4h9M480.1,569.4h145M631.1,569.4h9M480.1,570.4h145M630.1,570.4h10M475.1,571.4h150M630.1,571.4h10M664.1,571.4h6M475.1,572.4h170M664.1,572.4h7M474.1,573.4h171M650.1,573.4h3M664.1,573.4h7M474.1,574.4h168M650.1,574.4h3M476.1,575.4h166M647.1,575.4h6M476.1,576.4h166M647.1,576.4h4M476.1,577.4h166M647.1,577.4h4M476.1,578.4h166M647.1,578.4h4M476.1,579.4h166M647.1,579.4h4M656.1,579.4h3M475.1,580.4h167M647.1,580.4h4M656.1,580.4h3M686.1,580.4h5M473.1,581.4h194M473.1,582.4h195M474.1,583.4h194M474.1,584.4h194M680.1,584.4h7M474.1,585.4h194M680.1,585.4h7M474.1,586.4h194M680.1,586.4h10M474.1,587.4h194M680.1,587.4h10M695.1,587.4h4M474.1,588.4h194M680.1,588.4h10M695.1,588.4h4M474.1,589.4h200M680.1,589.4h19M704.1,589.4h3M475.1,590.4h224M704.1,590.4h3M722.1,590.4h4M477.1,591.4h222M704.1,591.4h3M722.1,591.4h4M479.1,592.4h201M685.1,592.4h4M694.1,592.4h3M702.1,592.4h5M726.1,592.4h3M480.1,593.4h144M671.1,593.4h5M694.1,593.4h3" stroke="#BEBEBE" stroke-width="1.05" fill="none" shape-rendering="crispEdges"/><path d="M540.0,594.1h0M579.4,479.6h0M548.5,523.5h0M543.9,463.9h0M548.4,521.9h0M477.2,570.4h0M582.5,593.9h0M524.0,471.3h0M561.0,500.8h0M565.5,504.1h0M520.1,593.9h0M548.5,594.1h0M534.1,466.8h0M485.4,538.7h0M534.5,594.2h0M513.5,593.9h0M571.7,494.3h0M515.2,593.9h0M615.8,557.4h0M545.9,504.6h0M624.6,535.4h0M548.0,594.2h0M561.2,514.3h0M483.0,537.3h0M589.0,540.9h0M529.4,594.2h0M488.0,593.9h0M570.1,501.6h0M581.5,529.7h0M474.8,569.5h0M536.4,497.7h0M544.0,518.9h0M496.5,594.1h0M476.4,555.5h0M564.7,465.0h0M479.2,565.6h0M548.7,472.1h0M507.9,594.1h0M526.3,594.0h0M565.8,517.4h0M641.5,593.2h0M476.9,548.1h0M552.1,594.1h0M650.4,558.1h0M543.5,524.8h0M536.1,481.7h0M683.4,577.6h0M499.5,593.9h0M529.8,594.1h0M527.4,594.2h0M674.5,585.2h0M549.8,594.1h0M549.8,462.1h0M543.9,481.4h0M535.4,594.1h0M512.2,481.1h0M563.6,460.4h0M549.2,508.4h0M511.3,594.1h0M550.7,516.1h0M561.9,486.0h0M556.9,450.5h0M641.6,571.8h0M714.9,588.4h0M540.8,594.0h0M541.3,437.3h0M526.4,491.6h0M474.8,538.8h0M550.2,496.1h0M495.6,528.7h0M521.2,492.1h0M519.8,459.8h0M605.1,538.9h0M508.5,594.1h0M561.9,510.6h0M506.1,469.9h0M532.4,475.8h0M541.1,493.8h0M475.4,541.9h0M538.5,490.0h0M527.0,480.6h0M539.5,594.0h0M654.0,580.4h0M517.1,594.0h0M565.3,514.0h0M657.4,548.2h0M618.7,534.2h0M538.8,486.9h0M545.3,492.0h0M530.5,496.3h0M562.7,502.1h0M483.1,542.9h0M516.1,594.2h0M546.1,594.0h0M556.9,594.1h0M522.5,594.2h0M542.3,594.1h0M499.0,594.1h0M536.5,506.7h0M503.7,594.0h0M605.4,539.9h0M524.6,485.5h0M512.2,492.0h0M577.6,470.3h0M552.6,458.8h0M525.3,594.0h0M628.2,558.2h0M555.4,486.9h0M569.5,594.1h0M540.5,503.4h0M502.8,529.6h0M499.7,528.8h0M559.0,477.5h0M635.2,556.5h0M649.2,560.0h0M541.0,492.4h0M488.9,536.0h0M622.7,539.3h0M542.0,496.3h0M651.0,572.9h0M506.9,594.2h0M537.7,593.9h0M626.5,557.6h0M540.6,468.9h0M537.7,506.1h0M507.4,487.5h0M506.8,511.3h0M580.4,493.5h0M573.7,502.3h0M512.2,495.9h0M506.3,527.3h0M511.5,594.2h0M571.7,594.0h0M543.2,457.9h0M526.7,474.6h0M549.2,494.3h0M524.0,594.1h0M579.5,509.5h0M616.3,594.1h0M524.7,496.1h0M509.0,502.5h0M543.4,520.2h0M522.2,471.0h0M628.1,564.0h0M572.4,473.7h0M657.8,568.6h0M532.1,594.1h0M576.3,440.7h0M541.3,487.6h0M540.8,498.1h0M514.3,492.1h0M519.3,594.0h0M568.2,522.5h0M517.8,594.2h0M531.1,444.6h0M617.5,537.4h0M553.9,467.4h0M479.7,593.6h0M540.4,472.8h0M664.6,577.9h0M576.9,594.1h0M576.3,490.4h0M514.0,490.5h0M546.6,464.5h0M565.2,520.7h0M560.9,593.9h0M669.0,582.4h0M482.4,541.9h0M537.0,492.4h0M608.0,531.8h0M570.6,517.9h0M506.7,527.5h0M565.4,594.1h0M530.8,450.4h0M505.0,529.5h0M497.9,594.0h0M476.4,570.9h0M645.5,593.8h0M558.5,420.9h0M604.4,543.6h0M538.3,487.5h0M476.7,591.1h0M506.2,513.6h0M564.3,521.9h0M679.0,541.9h0M679.1,558.2h0M526.8,491.8h0M609.2,535.1h0M532.3,498.0h0M544.3,594.0h0M493.4,594.2h0M550.1,496.9h0M553.8,594.1h0M481.0,561.3h0M513.7,453.4h0M579.9,475.0h0M571.0,460.4h0M578.0,464.2h0M642.3,554.8h0M534.9,452.0h0M565.4,507.3h0M506.9,453.4h0M563.7,480.3h0M563.9,459.2h0M478.0,564.6h0M602.2,543.5h0M527.6,466.4h0M506.1,518.4h0M671.8,563.7h0M574.6,594.2h0M578.2,439.9h0M478.9,544.3h0M525.3,479.7h0M567.1,478.5h0M648.0,535.9h0M542.2,470.5h0M530.6,594.1h0M556.3,594.2h0M556.0,481.5h0M487.0,533.3h0M597.6,532.3h0M476.4,592.5h0M503.3,529.2h0M570.8,500.9h0M532.2,466.4h0M595.3,538.3h0M543.9,451.0h0M489.8,594.0h0M542.7,506.8h0M569.4,449.7h0M533.6,448.5h0M565.7,509.5h0M519.1,454.3h0M534.7,462.6h0M554.2,437.6h0M530.3,476.5h0M617.5,543.7h0M644.1,566.2h0M565.7,514.3h0M561.5,501.6h0M545.5,506.7h0M565.2,512.6h0M534.7,470.7h0M490.8,594.0h0M562.0,593.9h0M588.3,540.9h0M562.8,514.2h0M575.9,594.1h0M645.4,550.2h0M512.0,465.4h0M540.6,505.9h0M567.8,502.4h0M533.5,473.2h0M506.6,514.2h0M480.9,594.1h0M644.5,580.6h0M516.3,490.6h0M601.1,539.1h0M493.0,529.6h0M553.2,450.6h0M515.4,460.9h0M551.5,593.9h0M540.1,474.6h0M613.7,556.9h0M524.4,436.6h0M510.2,492.2h0M598.4,594.0h0M474.1,572.2h0M501.6,594.1h0M509.5,490.0h0M600.8,541.0h0M577.1,476.1h0M481.5,536.3h0M478.2,549.1h0M554.1,500.0h0M555.7,489.9h0M543.4,525.8h0M500.5,594.0h0M552.6,490.6h0M543.2,594.2h0M518.8,433.0h0M514.4,484.4h0M547.6,463.9h0M526.8,476.8h0M517.7,450.1h0M507.5,500.8h0M573.1,402.5h0M618.5,540.0h0M473.5,589.0h0M479.0,536.0h0M576.5,492.0h0M509.3,474.8h0M505.4,594.1h0M539.0,487.8h0M507.6,505.1h0M492.2,594.2h0M508.3,473.7h0M551.1,488.8h0M568.2,465.1h0M555.0,508.7h0M574.0,461.4h0M593.5,541.6h0M488.6,594.1h0M532.8,451.0h0M523.3,443.6h0M543.3,524.6h0M537.2,420.6h0M648.3,570.8h0M509.7,479.9h0M506.6,517.9h0M555.5,501.5h0M519.9,450.2h0M634.4,545.8h0M534.7,485.4h0M534.3,475.7h0M494.9,594.1h0M671.3,574.6h0M658.2,559.0h0M512.3,488.8h0M558.6,394.2h0M554.3,497.3h0M594.1,594.0h0M630.5,593.0h0M516.9,474.2h0M562.1,467.5h0M536.1,507.9h0M614.7,535.9h0M654.8,566.5h0M526.7,465.9h0M513.0,496.4h0M545.2,525.2h0M561.3,518.5h0M517.3,467.6h0M518.0,464.7h0M509.5,428.3h0M568.9,507.8h0M650.3,567.1h0M542.8,470.6h0M482.9,530.3h0M546.3,438.5h0M645.1,574.7h0M540.5,471.6h0M550.8,519.1h0M537.1,496.5h0M590.5,594.0h0M479.7,566.6h0M549.9,507.6h0M536.4,503.4h0M537.1,594.1h0M503.7,529.0h0M510.0,469.9h0M543.9,492.3h0M536.6,474.7h0M514.4,594.0h0M541.7,459.8h0M481.0,541.6h0M512.5,459.9h0M558.0,498.0h0M528.6,458.8h0M525.9,480.7h0M472.0,580.5h0M553.9,495.9h0M556.3,458.5h0M540.9,464.8h0M601.0,541.9h0M507.5,489.9h0M478.9,546.6h0M536.2,493.8h0M575.6,504.1h0M479.7,565.3h0M594.9,533.5h0M515.3,481.3h0M517.1,458.4h0M557.0,499.8h0M525.2,469.9h0M479.1,543.0h0M475.6,565.0h0M506.7,496.1h0M476.3,543.9h0M542.9,445.6h0M609.9,547.6h0M546.5,516.5h0M550.4,459.6h0M633.4,560.8h0M543.6,522.4h0M552.9,478.2h0M521.1,593.9h0M577.9,490.9h0M551.7,496.0h0M615.4,557.1h0M667.0,593.3h0M547.3,520.3h0M619.2,544.1h0M480.6,546.5h0M553.0,448.4h0M615.6,552.3h0M540.2,505.4h0M566.5,503.0h0M482.6,593.9h0M572.6,461.8h0M534.9,466.8h0M574.8,445.4h0M573.3,496.5h0M562.0,501.8h0M528.6,487.3h0M547.8,474.7h0M475.8,577.6h0M516.8,489.5h0M497.0,528.8h0M534.0,471.4h0M580.9,529.0h0M570.9,410.3h0M507.5,476.8h0M578.4,511.3h0M603.5,539.5h0M479.8,560.8h0M563.8,508.2h0M593.3,529.9h0M557.6,491.8h0M561.9,440.9h0M585.8,594.0h0M486.6,594.2h0M487.6,532.4h0M621.6,555.2h0M571.9,505.5h0M516.0,453.2h0M575.2,502.4h0M564.7,507.7h0M559.5,594.0h0M546.7,519.2h0M511.8,484.0h0M611.7,547.5h0M566.7,594.0h0M516.6,405.8h0M506.3,522.3h0M514.9,490.2h0M578.1,431.6h0M543.2,466.5h0M524.4,493.6h0M575.6,501.1h0M709.6,581.0h0M529.9,477.1h0M476.8,563.6h0M473.3,549.7h0M549.3,480.6h0M617.3,548.3h0M520.3,468.6h0M625.5,538.1h0M535.6,500.0h0M570.9,522.0h0M472.8,542.4h0M568.5,522.2h0M525.0,454.6h0M697.1,586.0h0M563.4,503.6h0M580.3,484.7h0M510.1,488.1h0M543.6,519.8h0M572.1,479.3h0M522.7,487.7h0M607.5,537.4h0M540.0,446.8h0M522.8,487.3h0M543.4,459.8h0M618.7,560.2h0M579.0,508.4h0M551.2,502.5h0M521.4,458.5h0M665.3,593.6h0M506.1,498.0h0M562.0,502.7h0M506.5,529.5h0M561.0,496.0h0M573.5,594.1h0M528.9,431.7h0M521.0,490.6h0M554.5,441.0h0M663.9,576.0h0M471.3,573.3h0M481.9,594.2h0M607.4,546.0h0M514.4,497.2h0M690.7,556.0h0M556.9,499.1h0M512.1,481.7h0M537.1,470.2h0M537.4,508.8h0M568.3,482.2h0M473.4,575.2h0M558.8,477.3h0M592.4,536.0h0M631.8,544.3h0M545.8,431.9h0M512.7,497.7h0M534.7,489.8h0M506.6,525.8h0M549.7,494.2h0M569.1,521.5h0M505.5,594.0h0M515.5,479.5h0M554.7,594.0h0M541.4,470.8h0M520.7,492.8h0M580.7,464.4h0M631.1,555.0h0M576.3,481.5h0M558.0,452.3h0M525.6,458.4h0M487.8,537.8h0M479.6,558.7h0M529.0,483.2h0M573.2,593.9h0M602.5,537.4h0M540.5,482.8h0M536.8,500.0h0M607.2,543.1h0M496.8,594.1h0M473.0,567.8h0M575.7,514.7h0M570.2,507.3h0M581.9,529.6h0M522.6,594.0h0M478.1,554.0h0M517.9,494.1h0M549.7,493.2h0M477.9,592.6h0M572.4,511.5h0M543.0,490.3h0M566.6,519.8h0M532.4,446.6h0M555.9,490.6h0M640.8,563.7h0M550.8,442.9h0M644.2,566.9h0M623.4,555.2h0M561.2,509.4h0M533.3,594.0h0M538.0,487.7h0M508.1,482.9h0M561.2,464.4h0M642.7,557.4h0M631.5,554.2h0M531.4,448.1h0M513.8,477.8h0M479.4,593.3h0M579.1,594.0h0M566.2,593.9h0M530.6,495.4h0M507.6,482.3h0M532.2,490.8h0M557.4,493.2h0M538.0,485.2h0M527.2,422.2h0M494.4,594.1h0M539.6,424.5h0M626.3,554.8h0M652.6,576.7h0M590.3,531.8h0M545.1,488.8h0M637.1,567.2h0M622.6,594.0h0M507.4,488.4h0M558.5,594.2h0M523.5,446.7h0M634.7,593.6h0M511.4,435.7h0M539.3,494.4h0M503.0,594.2h0M609.0,533.6h0M519.2,494.2h0M543.8,506.4h0M709.0,593.7h0M479.9,593.1h0M615.6,530.8h0M486.1,594.0h0M571.2,594.0h0M545.5,594.1h0M472.1,590.3h0M536.1,470.1h0M506.4,528.2h0M612.9,553.1h0M637.5,551.2h0M514.4,446.1h0M509.7,460.8h0M534.9,456.0h0M594.7,529.2h0M645.6,574.0h0M571.9,517.8h0M628.3,535.2h0M539.4,473.3h0M566.5,468.3h0M565.7,519.5h0M644.8,574.5h0M517.2,477.5h0M545.8,413.3h0M506.4,505.5h0M527.3,486.6h0M537.6,463.2h0M548.2,498.8h0M563.6,594.2h0M543.6,487.6h0M650.8,548.1h0M473.6,586.1h0M584.4,529.6h0M531.2,466.6h0M490.6,531.8h0M479.0,547.8h0M560.4,476.1h0M566.2,500.5h0M535.1,487.2h0M564.3,462.7h0M549.3,484.9h0M530.0,420.8h0M517.1,462.7h0M570.4,593.9h0M537.9,509.2h0M587.6,530.1h0M544.1,501.6h0M557.0,509.7h0M531.2,500.9h0M550.8,483.7h0M512.9,471.6h0M537.5,473.4h0M477.3,592.2h0M610.7,594.0h0M546.3,444.7h0M592.0,594.0h0M522.5,486.2h0M508.2,503.6h0M563.5,497.9h0M506.1,509.7h0M527.7,486.7h0M629.1,593.3h0M538.7,501.9h0M574.1,500.4h0M572.7,518.8h0M478.8,593.6h0M562.7,594.0h0M556.8,488.8h0M509.4,489.5h0M536.7,484.4h0M527.2,501.5h0M534.5,480.3h0M547.5,459.2h0M510.1,594.2h0M552.6,488.8h0M577.7,490.0h0M540.6,499.8h0M579.7,529.6h0M506.7,506.2h0M547.3,444.0h0M555.3,502.5h0M545.4,511.9h0M564.6,495.8h0M546.8,481.8h0M566.0,499.2h0M557.2,502.2h0M513.3,420.5h0M649.7,563.7h0M560.5,487.3h0M520.0,471.7h0M601.5,535.8h0M575.4,517.8h0M536.3,493.3h0M511.2,492.2h0M510.8,467.0h0M508.2,489.8h0M480.0,541.8h0M517.4,486.2h0M558.4,497.3h0M519.8,464.0h0M525.0,427.3h0M630.6,594.2h0M530.7,490.9h0M566.3,463.5h0M533.0,462.3h0M530.7,491.9h0M509.6,469.2h0M533.5,469.8h0M475.1,578.0h0M531.9,495.5h0M548.9,478.6h0M647.2,556.3h0M479.0,539.0h0M572.7,521.4h0M536.2,594.0h0M638.5,529.3h0M561.1,505.5h0M541.1,479.2h0M479.0,552.9h0M522.5,479.5h0M519.1,414.6h0M514.8,483.6h0M533.7,481.8h0M561.2,499.6h0M551.4,474.5h0M514.1,481.1h0M515.1,456.9h0M604.3,539.7h0M547.0,512.0h0M553.7,476.3h0M551.7,473.0h0M654.8,546.0h0M536.1,491.8h0M492.5,531.2h0M516.6,453.3h0M656.6,560.7h0M515.8,481.7h0M541.5,451.5h0M546.4,497.2h0M560.3,476.8h0M664.8,579.7h0M546.0,482.4h0M506.4,499.3h0M648.2,549.2h0M523.1,475.8h0M576.7,506.5h0M522.2,490.7h0M566.1,510.2h0M631.1,542.2h0M512.7,485.7h0M553.2,507.1h0M567.8,489.8h0M529.2,466.4h0M560.5,498.8h0M562.5,474.7h0M565.6,519.6h0M570.7,498.6h0M631.1,556.8h0M571.5,506.5h0M488.1,529.4h0M586.8,530.7h0M527.2,488.7h0M528.7,491.8h0M581.0,467.6h0M538.1,415.9h0M536.5,463.9h0M526.1,467.3h0M513.0,486.8h0M544.2,470.2h0M565.3,496.7h0M557.3,482.6h0M533.2,508.8h0M658.1,571.3h0M478.5,592.0h0M561.2,522.2h0M509.3,491.3h0M544.2,476.0h0M518.1,488.5h0M528.4,593.9h0M523.9,456.5h0M663.1,574.7h0M474.9,591.1h0M533.5,446.3h0M547.7,498.4h0M649.8,593.5h0M548.3,507.2h0M665.5,578.6h0M616.4,554.8h0M572.0,467.9h0M575.0,484.5h0M530.9,483.0h0M486.6,532.4h0M525.1,492.0h0M524.6,471.4h0M538.1,483.0h0M519.9,492.6h0M590.7,537.1h0M482.4,529.5h0M483.0,545.0h0M596.6,594.0h0M544.9,488.1h0M472.1,558.3h0M545.6,495.2h0M574.3,490.6h0M530.4,469.9h0M484.4,594.0h0M516.1,471.3h0M579.4,516.2h0M580.1,527.3h0M560.1,501.6h0M530.2,464.9h0M549.5,512.8h0M526.5,497.1h0M521.8,464.0h0M514.8,474.2h0M631.0,556.2h0M704.9,579.2h0M552.8,471.4h0M531.1,503.2h0M709.9,586.6h0M614.2,546.2h0M512.2,474.9h0M666.4,579.8h0M520.0,482.9h0M479.6,568.2h0M557.4,503.0h0M511.4,439.5h0M507.1,475.9h0M580.2,522.3h0M533.1,483.1h0M516.0,471.9h0M568.0,470.7h0M610.9,540.6h0M506.6,519.1h0M513.7,458.9h0M515.4,415.7h0M558.6,509.5h0M515.4,448.6h0M569.1,522.4h0M522.6,463.5h0M580.2,491.6h0M562.4,516.0h0M506.1,487.3h0M638.9,594.2h0M523.0,472.8h0M558.8,451.1h0M580.5,514.0h0M593.6,536.6h0M600.0,594.1h0M479.0,570.1h0M532.9,479.5h0M580.0,476.9h0M506.5,474.9h0M512.3,457.2h0M479.9,534.8h0M561.8,489.5h0M537.4,433.3h0M474.7,563.7h0M546.1,525.4h0M572.3,510.1h0M605.2,531.8h0M545.8,495.6h0M550.8,432.5h0M566.9,522.1h0M492.5,528.8h0M507.0,441.8h0M574.9,495.5h0M518.6,479.1h0M478.5,549.9h0M516.0,464.3h0M508.0,480.9h0M604.6,533.7h0M666.2,578.4h0M474.4,563.3h0M506.7,512.8h0M577.0,510.1h0M579.9,527.6h0M510.4,473.6h0M561.0,491.2h0M611.3,542.7h0M541.9,483.5h0M507.1,510.2h0M613.6,537.1h0M670.5,594.2h0M557.6,462.3h0M549.5,510.2h0M512.8,494.8h0M478.2,555.7h0M565.1,473.5h0M535.0,495.2h0M545.2,481.1h0M611.5,531.2h0M612.2,555.0h0M529.1,472.9h0M481.8,531.6h0M551.1,447.5h0M569.5,522.8h0M653.7,572.1h0M573.9,488.1h0M552.9,497.1h0M616.8,556.6h0M535.1,482.9h0M566.6,499.1h0M567.8,517.3h0M598.1,529.2h0M539.1,432.2h0M559.0,507.4h0M512.9,458.5h0M557.9,464.4h0M509.4,436.6h0M475.2,534.3h0M714.3,554.9h0M547.1,478.0h0M522.4,475.9h0M553.0,594.0h0M518.5,470.8h0M552.1,504.6h0M524.6,462.7h0M559.3,481.2h0M506.4,516.1h0M529.0,485.2h0M595.9,539.7h0M541.4,491.2h0M575.4,517.1h0M573.3,512.9h0M527.7,498.6h0M537.6,454.8h0M578.5,467.9h0M558.9,509.0h0M533.9,507.3h0M556.6,497.3h0M482.8,531.1h0M553.0,471.6h0M630.5,593.4h0M575.1,491.5h0M650.2,549.8h0M517.8,479.2h0M608.9,533.4h0M559.3,488.8h0M475.7,579.4h0M560.2,489.1h0M562.9,464.9h0M513.5,449.8h0M575.5,509.6h0M540.3,493.8h0M610.3,594.1h0M474.7,548.7h0M515.2,492.7h0M546.5,492.6h0M514.7,469.7h0M481.0,531.4h0M567.6,594.1h0M533.0,439.9h0M517.7,446.8h0M658.8,536.9h0M534.4,511.8h0M660.9,573.0h0M543.1,485.5h0M545.9,498.6h0M682.8,567.4h0M545.0,440.3h0M572.6,494.8h0M521.1,440.0h0M739.3,529.9h0M473.0,583.0h0M548.1,516.0h0M543.7,493.9h0M554.2,460.9h0M529.2,499.7h0M625.4,570.9h0M570.3,501.2h0M581.0,518.7h0M584.4,594.1h0M519.6,490.2h0M635.6,562.9h0M544.6,508.0h0M535.0,454.6h0M516.2,495.1h0M615.3,540.6h0M561.5,521.4h0M516.1,494.1h0M580.4,463.5h0M569.3,506.8h0M555.3,483.2h0M545.4,519.4h0M508.6,500.0h0M575.6,446.0h0M619.7,560.4h0M567.8,518.6h0M506.5,517.4h0M544.8,525.6h0M615.2,531.0h0M529.0,469.4h0M612.1,529.6h0M487.3,530.7h0M530.7,459.5h0M563.9,507.5h0M513.1,485.0h0M519.2,479.8h0M569.7,503.3h0M646.4,540.1h0M630.1,569.5h0M565.6,498.3h0M506.5,492.6h0M476.1,549.5h0M532.3,488.8h0M474.4,579.7h0M574.2,513.9h0M519.3,474.6h0M532.2,481.4h0M534.9,452.7h0M567.8,480.4h0M537.4,478.6h0M607.7,538.7h0M528.9,480.6h0M536.2,506.2h0M488.3,530.6h0M506.2,529.8h0M509.1,469.0h0M520.9,482.3h0M589.5,593.9h0M563.6,435.2h0M530.4,452.2h0M506.7,489.1h0M516.8,483.1h0M724.9,589.7h0M609.3,594.1h0M613.8,540.8h0M721.1,567.4h0M758.7,590.5h0M684.3,582.9h0M651.8,554.2h0M763.3,579.4h0M703.9,588.3h0M708.3,568.7h0M676.8,577.2h0M633.4,593.5h0M624.6,593.9h0M626.5,552.5h0M646.0,593.5h0M673.7,587.2h0M689.4,592.8h0M742.1,573.0h0M636.8,548.7h0M748.4,572.1h0M736.4,586.9h0M667.1,574.0h0M608.3,546.9h0M757.0,589.4h0M690.2,575.6h0M707.1,588.5h0M738.6,568.9h0M754.3,582.2h0M739.4,561.8h0M597.5,528.9h0M727.4,564.8h0M616.9,594.1h0M668.5,588.6h0M706.6,581.6h0M588.3,594.0h0M729.5,569.9h0M646.2,568.0h0M699.1,563.0h0M660.7,580.2h0M747.0,593.5h0M701.7,594.2h0M741.1,572.2h0M646.2,579.1h0M769.7,593.0h0M667.3,561.9h0M706.8,593.9h0M729.9,593.3h0M739.2,576.2h0M639.6,593.7h0M744.8,576.9h0M731.1,560.3h0M675.1,576.5h0M621.8,548.4h0M661.9,545.5h0M718.7,593.5h0M658.3,572.7h0M642.7,563.2h0M707.9,587.6h0M691.5,568.8h0M678.8,572.9h0M626.6,567.8h0M649.0,574.3h0M644.0,594.1h0M651.3,593.5h0M741.4,560.0h0M712.3,593.9h0M697.8,555.8h0M628.2,594.0h0M738.1,591.8h0M735.7,591.9h0M699.7,587.4h0M771.7,580.7h0M672.3,587.7h0M696.7,581.8h0M586.8,593.9h0M691.5,588.3h0M742.1,588.6h0M600.6,530.5h0M679.5,586.4h0M688.9,593.7h0M758.8,589.5h0M633.3,593.6h0M715.9,587.7h0M737.2,573.2h0M708.2,586.8h0M718.4,586.6h0M675.1,594.2h0M727.3,593.0h0M701.5,594.2h0M669.0,581.0h0M664.4,593.1h0M766.3,585.6h0M712.3,592.8h0M679.9,588.2h0M719.5,587.1h0M755.7,589.4h0M623.8,594.0h0M663.5,570.2h0M671.0,588.0h0M734.4,569.8h0M686.8,579.5h0M674.1,566.7h0M698.9,581.0h0M756.9,580.2h0M687.4,584.4h0M728.8,579.8h0M722.2,582.0h0M671.1,571.4h0M700.9,592.7h0M660.5,593.3h0M600.1,539.4h0M663.5,580.3h0M692.0,588.5h0M625.8,593.0h0M653.6,538.0h0M697.1,583.1h0M658.5,593.9h0M770.0,583.8h0M686.4,583.8h0M677.2,593.6h0M738.8,587.2h0M622.1,549.9h0M708.8,580.0h0M642.3,576.8h0M732.4,587.6h0M731.5,571.5h0M725.2,593.2h0M629.7,570.6h0M678.7,593.2h0M664.1,572.8h0M682.3,572.6h0M659.9,580.1h0M711.6,585.5h0M673.1,588.8h0M670.1,536.5h0M712.0,590.9h0M636.2,593.3h0M699.1,592.7h0M693.9,588.9h0M658.6,593.7h0M721.3,589.1h0M627.4,544.8h0M747.2,584.0h0M615.2,593.9h0M669.2,560.1h0M746.2,585.5h0M682.5,583.7h0M770.0,587.7h0M733.9,588.9h0M647.6,593.1h0M647.7,593.6h0M749.6,587.9h0M710.4,579.4h0M756.5,562.2h0M580.4,520.1h0M747.5,594.0h0M707.0,582.8h0M739.5,592.0h0M705.6,575.2h0M681.5,592.1h0M696.8,584.3h0M644.2,563.8h0M702.6,580.2h0M760.0,591.7h0M673.1,573.2h0M647.4,532.0h0M698.1,575.5h0M697.6,594.1h0M663.5,564.8h0M727.1,577.6h0M621.7,553.0h0M727.7,594.0h0M739.3,581.2h0M706.3,593.5h0M670.9,565.2h0M676.9,571.5h0M696.0,564.1h0M718.4,585.5h0M677.9,583.2h0M743.6,576.3h0M759.3,591.9h0M722.3,592.2h0M706.9,572.2h0M699.9,573.8h0M683.0,573.9h0M683.9,578.3h0M603.2,532.8h0M699.8,582.2h0M693.5,593.9h0M723.7,568.0h0M673.7,583.0h0M758.4,589.1h0M637.9,563.5h0M701.1,586.8h0M649.9,572.8h0M596.5,594.0h0M721.8,591.4h0M721.9,592.7h0M664.5,537.0h0M644.5,580.1h0M736.7,592.9h0M667.4,580.8h0M649.6,569.0h0M654.3,594.1h0M679.8,583.0h0M696.7,594.2h0M746.8,589.3h0M588.9,538.2h0M734.8,584.0h0M690.5,585.4h0M758.4,592.8h0M662.4,544.3h0M692.4,570.6h0M662.9,580.5h0M769.6,581.7h0M635.8,564.3h0M703.5,573.2h0M652.0,533.0h0M741.8,590.5h0M690.3,592.8h0M729.3,586.4h0M657.6,550.3h0M651.9,594.2h0M663.5,572.3h0M620.7,553.0h0M680.4,593.6h0M698.2,592.6h0M663.6,556.6h0M646.7,566.4h0M640.5,593.8h0M719.0,584.0h0M736.8,559.7h0M643.3,571.9h0M732.8,575.1h0M665.7,575.9h0M710.6,576.2h0M580.8,593.9h0M652.9,580.1h0M683.2,564.2h0M653.4,569.0h0M750.8,591.4h0M709.1,589.5h0M749.2,578.5h0M621.8,593.9h0M669.7,576.3h0M690.4,577.0h0M722.0,590.5h0M739.0,544.6h0M738.1,591.4h0M579.1,517.5h0M722.5,589.9h0M741.7,593.8h0M642.4,593.7h0M706.6,587.4h0M714.2,575.6h0M662.8,593.1h0M674.7,585.9h0M637.8,593.7h0M605.5,528.9h0M749.5,588.8h0M726.4,590.0h0M630.5,543.1h0M700.9,580.6h0M691.6,581.5h0M670.6,577.2h0M771.8,590.5h0M672.7,580.4h0M635.1,553.9h0M749.4,592.0h0M673.8,593.9h0M650.5,567.7h0M625.8,593.6h0M711.7,561.9h0M654.0,576.0h0M661.3,593.4h0M677.1,581.1h0M579.3,515.0h0M716.6,573.1h0M686.3,579.8h0M742.7,581.0h0M762.5,593.5h0M654.8,570.6h0M646.6,576.2h0M719.8,570.4h0M618.9,594.1h0M736.7,593.9h0M702.4,591.5h0M752.6,588.3h0M710.3,579.6h0M710.5,552.5h0M704.7,570.3h0M741.4,592.6h0M748.2,590.6h0M698.8,581.7h0M691.5,592.6h0M621.0,594.1h0M734.3,548.3h0M731.4,591.9h0M589.1,593.9h0M653.8,565.8h0M699.8,589.5h0M621.4,540.5h0M683.0,536.4h0M646.2,577.5h0M751.3,589.6h0M709.8,538.5h0M740.1,589.4h0M662.4,594.1h0M714.5,571.5h0M677.7,578.9h0M713.5,576.6h0M628.9,571.7h0M760.9,574.9h0M767.6,586.6h0M681.2,592.6h0M659.0,577.8h0M753.2,593.9h0M688.3,578.2h0M659.4,568.4h0M677.2,584.7h0M754.8,584.5h0M651.4,594.0h0M631.9,556.4h0M672.2,585.7h0M696.6,568.4h0M636.2,567.2h0M753.9,589.4h0M668.5,587.2h0M691.2,579.9h0M709.2,588.0h0M771.9,589.2h0M673.1,581.7h0M670.7,570.0h0M701.9,587.1h0M677.1,589.4h0M602.3,594.1h0M651.7,567.7h0M651.9,577.6h0M707.3,588.9h0M653.6,569.0h0M698.8,571.8h0M667.8,574.5h0M668.2,564.5h0M706.4,587.1h0M697.6,580.4h0M685.9,593.6h0M620.1,594.2h0M720.8,571.0h0M718.8,580.1h0M594.8,594.0h0M703.9,584.1h0M615.8,542.4h0M710.3,586.3h0M713.2,585.7h0M676.0,554.0h0M710.4,575.3h0M643.5,546.8h0M667.3,593.6h0M740.5,588.6h0M676.1,574.2h0M727.6,560.8h0M661.1,565.6h0M653.2,555.7h0M669.6,570.0h0M761.4,580.7h0M730.2,585.3h0M680.4,577.0h0M652.5,593.5h0M627.6,593.4h0M734.6,592.0h0M683.3,592.7h0M721.3,579.8h0M695.4,579.0h0M770.9,570.7h0M672.0,573.2h0M749.0,593.6h0M698.0,585.8h0M579.8,594.1h0M723.5,583.8h0M653.4,570.3h0M735.4,586.3h0M685.9,581.6h0M675.9,581.7h0M648.6,593.8h0M673.5,548.9h0M765.5,590.4h0M640.2,563.0h0M657.0,593.5h0M726.8,589.1h0M715.2,578.6h0M668.6,593.3h0M763.5,554.6h0M707.2,592.2h0M715.2,592.4h0M739.8,573.2h0M674.6,588.4h0M737.1,573.9h0M685.0,593.0h0M644.1,593.4h0M675.3,569.1h0M656.5,593.8h0M655.4,593.8h0M636.5,558.6h0M695.0,586.5h0M703.6,571.5h0M689.8,581.2h0M676.9,544.9h0M600.5,531.2h0M606.4,594.1h0M619.0,539.2h0M613.5,556.9h0M593.1,531.9h0M622.5,546.5h0M607.7,594.1h0M607.3,594.0h0M612.4,594.1h0M621.6,556.1h0M585.1,594.0h0M615.2,546.6h0M619.2,531.1h0M609.9,535.8h0M615.2,559.6h0M620.4,558.2h0M599.0,594.1h0M619.3,544.6h0M595.2,537.4h0M603.5,537.3h0M614.2,594.0h0M605.7,539.4h0M616.4,553.3h0M648.6,555.9h0M668.2,568.3h0M666.1,552.9h0M640.8,560.7h0M642.8,567.5h0M714.6,591.5h0M686.6,562.1h0M574.8,492.7h0M580.7,525.5h0M677.1,575.4h0M605.6,540.7h0M653.2,561.4h0M673.8,555.6h0M644.1,534.7h0M605.5,540.8h0M649.2,535.2h0M691.9,555.9h0M697.1,555.6h0M712.4,540.1h0M696.8,550.6h0M708.5,582.2h0M665.9,569.6h0M640.9,567.6h0M612.0,535.0h0M702.6,586.4h0M635.8,551.0h0M680.2,569.6h0M667.9,534.4h0M633.7,541.9h0M670.0,583.4h0M654.5,580.6h0M626.8,533.3h0M651.6,542.4h0M578.6,484.8h0M671.0,552.1h0M749.5,584.1h0M676.8,555.2h0M719.6,560.9h0M604.0,538.1h0M645.9,571.2h0M664.2,561.3h0M735.2,589.5h0M635.2,564.0h0M605.6,529.7h0M633.9,533.2h0M621.7,533.7h0M621.6,553.8h0M659.7,570.7h0M685.8,557.1h0M627.1,564.8h0M640.8,569.7h0M690.0,551.1h0M596.6,533.0h0M576.7,441.5h0M651.8,578.9h0M580.5,512.5h0M676.9,560.8h0M579.4,491.5h0M741.4,575.9h0M704.0,560.3h0M630.9,567.0h0M600.3,532.6h0M666.1,579.4h0M655.1,548.1h0M617.9,544.8h0M622.5,545.4h0M643.9,580.4h0M647.1,593.3h0M591.6,541.3h0M626.9,593.2h0M627.6,549.5h0M623.6,546.6h0M610.5,547.1h0M582.4,594.0h0M623.0,548.8h0M633.7,536.9h0M642.5,554.2h0M660.1,534.5h0M656.5,576.6h0M632.0,559.0h0M704.9,569.3h0M642.1,555.6h0M574.6,486.9h0M661.5,561.6h0M630.9,565.7h0M662.5,553.0h0M639.3,567.6h0M643.2,561.3h0M650.2,593.1h0M640.1,553.8h0M650.2,545.2h0M672.4,579.5h0M612.5,534.0h0M635.8,557.8h0M618.5,553.5h0M644.1,574.1h0M648.8,565.6h0M623.9,555.1h0M635.6,552.7h0M654.1,567.7h0M604.3,541.9h0M692.7,563.4h0M621.7,543.3h0M659.8,580.6h0M643.5,545.1h0M593.8,530.2h0M609.0,542.5h0M655.2,579.5h0M637.4,545.0h0M730.0,590.9h0M631.4,553.6h0M653.2,575.5h0M668.9,583.3h0M638.9,560.7h0M704.9,593.1h0M707.6,576.7h0M593.3,533.5h0M630.7,565.4h0M646.7,570.9h0M612.4,554.0h0M653.3,576.1h0M658.9,578.6h0M691.3,584.6h0M578.3,512.1h0M645.8,593.4h0M594.0,533.7h0M635.4,593.0h0M704.3,580.7h0M618.6,548.8h0M681.0,576.2h0M628.5,546.0h0M766.2,572.1h0M686.5,572.0h0M621.5,554.3h0M580.3,464.8h0M604.5,594.2h0M688.9,546.9h0M625.3,569.7h0M617.0,552.8h0M704.0,593.4h0M642.5,577.9h0M628.4,536.4h0M654.7,580.5h0M628.9,554.0h0M676.6,570.1h0M603.3,539.6h0M679.1,586.7h0M613.1,546.3h0M658.7,555.1h0M632.7,544.9h0M618.5,553.3h0M612.4,533.8h0M611.3,539.8h0M605.4,533.3h0M689.3,575.6h0M704.2,593.9h0M674.2,545.6h0M593.6,532.3h0M630.5,567.9h0M720.7,555.8h0M626.8,544.5h0M574.8,507.2h0M577.9,500.8h0M639.8,540.0h0M576.0,503.2h0M683.0,552.4h0M701.3,532.2h0M580.1,518.7h0M635.5,533.4h0" stroke="#BEBEBE" stroke-width="2.7" stroke-linecap="round" fill="none"/><path d="M613.8,483.8l0.59,1.59l1.69,0.07l-1.33,1.05l0.46,1.63l-1.41,-0.94l-1.41,0.94l0.46,-1.63l-1.33,-1.05l1.69,-0.07zM489.2,520.0l0.59,1.59l1.69,0.07l-1.33,1.05l0.46,1.63l-1.41,-0.94l-1.41,0.94l0.46,-1.63l-1.33,-1.05l1.69,-0.07zM590.6,512.6l0.59,1.59l1.69,0.07l-1.33,1.05l0.46,1.63l-1.41,-0.94l-1.41,0.94l0.46,-1.63l-1.33,-1.05l1.69,-0.07zM499.2,499.4l0.59,1.59l1.69,0.07l-1.33,1.05l0.46,1.63l-1.41,-0.94l-1.41,0.94l0.46,-1.63l-1.33,-1.05l1.69,-0.07zM591.5,518.8l0.59,1.59l1.69,0.07l-1.33,1.05l0.46,1.63l-1.41,-0.94l-1.41,0.94l0.46,-1.63l-1.33,-1.05l1.69,-0.07zM501.7,503.9l0.59,1.59l1.69,0.07l-1.33,1.05l0.46,1.63l-1.41,-0.94l-1.41,0.94l0.46,-1.63l-1.33,-1.05l1.69,-0.07zM503.3,470.5l0.59,1.59l1.69,0.07l-1.33,1.05l0.46,1.63l-1.41,-0.94l-1.41,0.94l0.46,-1.63l-1.33,-1.05l1.69,-0.07zM500.3,475.5l0.59,1.59l1.69,0.07l-1.33,1.05l0.46,1.63l-1.41,-0.94l-1.41,0.94l0.46,-1.63l-1.33,-1.05l1.69,-0.07zM497.8,496.7l0.59,1.59l1.69,0.07l-1.33,1.05l0.46,1.63l-1.41,-0.94l-1.41,0.94l0.46,-1.63l-1.33,-1.05l1.69,-0.07zM582.8,490.6l0.59,1.59l1.69,0.07l-1.33,1.05l0.46,1.63l-1.41,-0.94l-1.41,0.94l0.46,-1.63l-1.33,-1.05l1.69,-0.07zM493.8,497.6l0.59,1.59l1.69,0.07l-1.33,1.05l0.46,1.63l-1.41,-0.94l-1.41,0.94l0.46,-1.63l-1.33,-1.05l1.69,-0.07zM500.1,523.0l0.59,1.59l1.69,0.07l-1.33,1.05l0.46,1.63l-1.41,-0.94l-1.41,0.94l0.46,-1.63l-1.33,-1.05l1.69,-0.07zM490.1,521.3l0.59,1.59l1.69,0.07l-1.33,1.05l0.46,1.63l-1.41,-0.94l-1.41,0.94l0.46,-1.63l-1.33,-1.05l1.69,-0.07zM485.9,516.5l0.59,1.59l1.69,0.07l-1.33,1.05l0.46,1.63l-1.41,-0.94l-1.41,0.94l0.46,-1.63l-1.33,-1.05l1.69,-0.07zM492.4,513.0l0.59,1.59l1.69,0.07l-1.33,1.05l0.46,1.63l-1.41,-0.94l-1.41,0.94l0.46,-1.63l-1.33,-1.05l1.69,-0.07zM493.7,506.7l0.59,1.59l1.69,0.07l-1.33,1.05l0.46,1.63l-1.41,-0.94l-1.41,0.94l0.46,-1.63l-1.33,-1.05l1.69,-0.07zM596.7,515.7l0.59,1.59l1.69,0.07l-1.33,1.05l0.46,1.63l-1.41,-0.94l-1.41,0.94l0.46,-1.63l-1.33,-1.05l1.69,-0.07zM605.1,524.4l0.59,1.59l1.69,0.07l-1.33,1.05l0.46,1.63l-1.41,-0.94l-1.41,0.94l0.46,-1.63l-1.33,-1.05l1.69,-0.07zM598.5,468.5l0.59,1.59l1.69,0.07l-1.33,1.05l0.46,1.63l-1.41,-0.94l-1.41,0.94l0.46,-1.63l-1.33,-1.05l1.69,-0.07zM492.1,493.4l0.59,1.59l1.69,0.07l-1.33,1.05l0.46,1.63l-1.41,-0.94l-1.41,0.94l0.46,-1.63l-1.33,-1.05l1.69,-0.07zM488.7,475.0l0.59,1.59l1.69,0.07l-1.33,1.05l0.46,1.63l-1.41,-0.94l-1.41,0.94l0.46,-1.63l-1.33,-1.05l1.69,-0.07zM584.8,507.0l0.59,1.59l1.69,0.07l-1.33,1.05l0.46,1.63l-1.41,-0.94l-1.41,0.94l0.46,-1.63l-1.33,-1.05l1.69,-0.07zM604.7,465.1l0.59,1.59l1.69,0.07l-1.33,1.05l0.46,1.63l-1.41,-0.94l-1.41,0.94l0.46,-1.63l-1.33,-1.05l1.69,-0.07zM491.2,476.8l0.59,1.59l1.69,0.07l-1.33,1.05l0.46,1.63l-1.41,-0.94l-1.41,0.94l0.46,-1.63l-1.33,-1.05l1.69,-0.07zM504.6,512.1l0.59,1.59l1.69,0.07l-1.33,1.05l0.46,1.63l-1.41,-0.94l-1.41,0.94l0.46,-1.63l-1.33,-1.05l1.69,-0.07zM496.2,495.4l0.59,1.59l1.69,0.07l-1.33,1.05l0.46,1.63l-1.41,-0.94l-1.41,0.94l0.46,-1.63l-1.33,-1.05l1.69,-0.07zM489.8,519.7l0.59,1.59l1.69,0.07l-1.33,1.05l0.46,1.63l-1.41,-0.94l-1.41,0.94l0.46,-1.63l-1.33,-1.05l1.69,-0.07zM491.3,504.5l0.59,1.59l1.69,0.07l-1.33,1.05l0.46,1.63l-1.41,-0.94l-1.41,0.94l0.46,-1.63l-1.33,-1.05l1.69,-0.07zM486.4,519.6l0.59,1.59l1.69,0.07l-1.33,1.05l0.46,1.63l-1.41,-0.94l-1.41,0.94l0.46,-1.63l-1.33,-1.05l1.69,-0.07zM503.3,482.3l0.59,1.59l1.69,0.07l-1.33,1.05l0.46,1.63l-1.41,-0.94l-1.41,0.94l0.46,-1.63l-1.33,-1.05l1.69,-0.07zM503.3,448.5l0.59,1.59l1.69,0.07l-1.33,1.05l0.46,1.63l-1.41,-0.94l-1.41,0.94l0.46,-1.63l-1.33,-1.05l1.69,-0.07zM477.1,514.1l0.59,1.59l1.69,0.07l-1.33,1.05l0.46,1.63l-1.41,-0.94l-1.41,0.94l0.46,-1.63l-1.33,-1.05l1.69,-0.07zM494.7,517.3l0.59,1.59l1.69,0.07l-1.33,1.05l0.46,1.63l-1.41,-0.94l-1.41,0.94l0.46,-1.63l-1.33,-1.05l1.69,-0.07zM494.5,500.4l0.59,1.59l1.69,0.07l-1.33,1.05l0.46,1.63l-1.41,-0.94l-1.41,0.94l0.46,-1.63l-1.33,-1.05l1.69,-0.07zM495.6,471.6l0.59,1.59l1.69,0.07l-1.33,1.05l0.46,1.63l-1.41,-0.94l-1.41,0.94l0.46,-1.63l-1.33,-1.05l1.69,-0.07zM587.3,482.4l0.59,1.59l1.69,0.07l-1.33,1.05l0.46,1.63l-1.41,-0.94l-1.41,0.94l0.46,-1.63l-1.33,-1.05l1.69,-0.07zM498.5,506.1l0.59,1.59l1.69,0.07l-1.33,1.05l0.46,1.63l-1.41,-0.94l-1.41,0.94l0.46,-1.63l-1.33,-1.05l1.69,-0.07zM498.8,516.1l0.59,1.59l1.69,0.07l-1.33,1.05l0.46,1.63l-1.41,-0.94l-1.41,0.94l0.46,-1.63l-1.33,-1.05l1.69,-0.07zM504.7,524.4l0.59,1.59l1.69,0.07l-1.33,1.05l0.46,1.63l-1.41,-0.94l-1.41,0.94l0.46,-1.63l-1.33,-1.05l1.69,-0.07zM499.8,508.6l0.59,1.59l1.69,0.07l-1.33,1.05l0.46,1.63l-1.41,-0.94l-1.41,0.94l0.46,-1.63l-1.33,-1.05l1.69,-0.07zM499.4,493.7l0.59,1.59l1.69,0.07l-1.33,1.05l0.46,1.63l-1.41,-0.94l-1.41,0.94l0.46,-1.63l-1.33,-1.05l1.69,-0.07zM498.6,507.1l0.59,1.59l1.69,0.07l-1.33,1.05l0.46,1.63l-1.41,-0.94l-1.41,0.94l0.46,-1.63l-1.33,-1.05l1.69,-0.07zM479.2,519.7l0.59,1.59l1.69,0.07l-1.33,1.05l0.46,1.63l-1.41,-0.94l-1.41,0.94l0.46,-1.63l-1.33,-1.05l1.69,-0.07zM490.3,491.3l0.59,1.59l1.69,0.07l-1.33,1.05l0.46,1.63l-1.41,-0.94l-1.41,0.94l0.46,-1.63l-1.33,-1.05l1.69,-0.07zM499.4,507.6l0.59,1.59l1.69,0.07l-1.33,1.05l0.46,1.63l-1.41,-0.94l-1.41,0.94l0.46,-1.63l-1.33,-1.05l1.69,-0.07zM489.9,523.8l0.59,1.59l1.69,0.07l-1.33,1.05l0.46,1.63l-1.41,-0.94l-1.41,0.94l0.46,-1.63l-1.33,-1.05l1.69,-0.07zM651.1,511.7l0.59,1.59l1.69,0.07l-1.33,1.05l0.46,1.63l-1.41,-0.94l-1.41,0.94l0.46,-1.63l-1.33,-1.05l1.69,-0.07zM500.0,519.5l0.59,1.59l1.69,0.07l-1.33,1.05l0.46,1.63l-1.41,-0.94l-1.41,0.94l0.46,-1.63l-1.33,-1.05l1.69,-0.07zM482.0,522.6l0.59,1.59l1.69,0.07l-1.33,1.05l0.46,1.63l-1.41,-0.94l-1.41,0.94l0.46,-1.63l-1.33,-1.05l1.69,-0.07zM483.6,521.9l0.59,1.59l1.69,0.07l-1.33,1.05l0.46,1.63l-1.41,-0.94l-1.41,0.94l0.46,-1.63l-1.33,-1.05l1.69,-0.07zM501.1,522.2l0.59,1.59l1.69,0.07l-1.33,1.05l0.46,1.63l-1.41,-0.94l-1.41,0.94l0.46,-1.63l-1.33,-1.05l1.69,-0.07zM484.0,486.5l0.59,1.59l1.69,0.07l-1.33,1.05l0.46,1.63l-1.41,-0.94l-1.41,0.94l0.46,-1.63l-1.33,-1.05l1.69,-0.07zM490.7,505.0l0.59,1.59l1.69,0.07l-1.33,1.05l0.46,1.63l-1.41,-0.94l-1.41,0.94l0.46,-1.63l-1.33,-1.05l1.69,-0.07zM488.7,485.3l0.59,1.59l1.69,0.07l-1.33,1.05l0.46,1.63l-1.41,-0.94l-1.41,0.94l0.46,-1.63l-1.33,-1.05l1.69,-0.07zM600.3,502.9l0.59,1.59l1.69,0.07l-1.33,1.05l0.46,1.63l-1.41,-0.94l-1.41,0.94l0.46,-1.63l-1.33,-1.05l1.69,-0.07zM487.4,506.5l0.59,1.59l1.69,0.07l-1.33,1.05l0.46,1.63l-1.41,-0.94l-1.41,0.94l0.46,-1.63l-1.33,-1.05l1.69,-0.07zM500.4,518.7l0.59,1.59l1.69,0.07l-1.33,1.05l0.46,1.63l-1.41,-0.94l-1.41,0.94l0.46,-1.63l-1.33,-1.05l1.69,-0.07zM502.7,509.9l0.59,1.59l1.69,0.07l-1.33,1.05l0.46,1.63l-1.41,-0.94l-1.41,0.94l0.46,-1.63l-1.33,-1.05l1.69,-0.07zM498.4,523.8l0.59,1.59l1.69,0.07l-1.33,1.05l0.46,1.63l-1.41,-0.94l-1.41,0.94l0.46,-1.63l-1.33,-1.05l1.69,-0.07zM481.0,490.1l0.59,1.59l1.69,0.07l-1.33,1.05l0.46,1.63l-1.41,-0.94l-1.41,0.94l0.46,-1.63l-1.33,-1.05l1.69,-0.07zM486.2,496.7l0.59,1.59l1.69,0.07l-1.33,1.05l0.46,1.63l-1.41,-0.94l-1.41,0.94l0.46,-1.63l-1.33,-1.05l1.69,-0.07zM484.4,511.9l0.59,1.59l1.69,0.07l-1.33,1.05l0.46,1.63l-1.41,-0.94l-1.41,0.94l0.46,-1.63l-1.33,-1.05l1.69,-0.07zM504.6,445.4l0.59,1.59l1.69,0.07l-1.33,1.05l0.46,1.63l-1.41,-0.94l-1.41,0.94l0.46,-1.63l-1.33,-1.05l1.69,-0.07zM495.8,483.5l0.59,1.59l1.69,0.07l-1.33,1.05l0.46,1.63l-1.41,-0.94l-1.41,0.94l0.46,-1.63l-1.33,-1.05l1.69,-0.07zM503.7,523.4l0.59,1.59l1.69,0.07l-1.33,1.05l0.46,1.63l-1.41,-0.94l-1.41,0.94l0.46,-1.63l-1.33,-1.05l1.69,-0.07zM485.1,501.5l0.59,1.59l1.69,0.07l-1.33,1.05l0.46,1.63l-1.41,-0.94l-1.41,0.94l0.46,-1.63l-1.33,-1.05l1.69,-0.07zM501.8,503.4l0.59,1.59l1.69,0.07l-1.33,1.05l0.46,1.63l-1.41,-0.94l-1.41,0.94l0.46,-1.63l-1.33,-1.05l1.69,-0.07zM601.0,521.8l0.59,1.59l1.69,0.07l-1.33,1.05l0.46,1.63l-1.41,-0.94l-1.41,0.94l0.46,-1.63l-1.33,-1.05l1.69,-0.07zM586.9,464.1l0.59,1.59l1.69,0.07l-1.33,1.05l0.46,1.63l-1.41,-0.94l-1.41,0.94l0.46,-1.63l-1.33,-1.05l1.69,-0.07zM500.7,501.9l0.59,1.59l1.69,0.07l-1.33,1.05l0.46,1.63l-1.41,-0.94l-1.41,0.94l0.46,-1.63l-1.33,-1.05l1.69,-0.07zM489.4,512.8l0.59,1.59l1.69,0.07l-1.33,1.05l0.46,1.63l-1.41,-0.94l-1.41,0.94l0.46,-1.63l-1.33,-1.05l1.69,-0.07zM503.0,516.5l0.59,1.59l1.69,0.07l-1.33,1.05l0.46,1.63l-1.41,-0.94l-1.41,0.94l0.46,-1.63l-1.33,-1.05l1.69,-0.07zM493.2,522.1l0.59,1.59l1.69,0.07l-1.33,1.05l0.46,1.63l-1.41,-0.94l-1.41,0.94l0.46,-1.63l-1.33,-1.05l1.69,-0.07zM496.9,478.4l0.59,1.59l1.69,0.07l-1.33,1.05l0.46,1.63l-1.41,-0.94l-1.41,0.94l0.46,-1.63l-1.33,-1.05l1.69,-0.07zM490.3,510.4l0.59,1.59l1.69,0.07l-1.33,1.05l0.46,1.63l-1.41,-0.94l-1.41,0.94l0.46,-1.63l-1.33,-1.05l1.69,-0.07zM502.3,510.3l0.59,1.59l1.69,0.07l-1.33,1.05l0.46,1.63l-1.41,-0.94l-1.41,0.94l0.46,-1.63l-1.33,-1.05l1.69,-0.07zM494.0,505.6l0.59,1.59l1.69,0.07l-1.33,1.05l0.46,1.63l-1.41,-0.94l-1.41,0.94l0.46,-1.63l-1.33,-1.05l1.69,-0.07zM647.6,519.2l0.59,1.59l1.69,0.07l-1.33,1.05l0.46,1.63l-1.41,-0.94l-1.41,0.94l0.46,-1.63l-1.33,-1.05l1.69,-0.07zM481.6,507.0l0.59,1.59l1.69,0.07l-1.33,1.05l0.46,1.63l-1.41,-0.94l-1.41,0.94l0.46,-1.63l-1.33,-1.05l1.69,-0.07zM477.8,479.7l0.59,1.59l1.69,0.07l-1.33,1.05l0.46,1.63l-1.41,-0.94l-1.41,0.94l0.46,-1.63l-1.33,-1.05l1.69,-0.07zM499.0,522.3l0.59,1.59l1.69,0.07l-1.33,1.05l0.46,1.63l-1.41,-0.94l-1.41,0.94l0.46,-1.63l-1.33,-1.05l1.69,-0.07zM486.9,522.9l0.59,1.59l1.69,0.07l-1.33,1.05l0.46,1.63l-1.41,-0.94l-1.41,0.94l0.46,-1.63l-1.33,-1.05l1.69,-0.07zM598.1,522.8l0.59,1.59l1.69,0.07l-1.33,1.05l0.46,1.63l-1.41,-0.94l-1.41,0.94l0.46,-1.63l-1.33,-1.05l1.69,-0.07zM504.5,442.4l0.59,1.59l1.69,0.07l-1.33,1.05l0.46,1.63l-1.41,-0.94l-1.41,0.94l0.46,-1.63l-1.33,-1.05l1.69,-0.07zM609.0,465.9l0.59,1.59l1.69,0.07l-1.33,1.05l0.46,1.63l-1.41,-0.94l-1.41,0.94l0.46,-1.63l-1.33,-1.05l1.69,-0.07zM497.0,503.8l0.59,1.59l1.69,0.07l-1.33,1.05l0.46,1.63l-1.41,-0.94l-1.41,0.94l0.46,-1.63l-1.33,-1.05l1.69,-0.07zM491.2,503.3l0.59,1.59l1.69,0.07l-1.33,1.05l0.46,1.63l-1.41,-0.94l-1.41,0.94l0.46,-1.63l-1.33,-1.05l1.69,-0.07zM487.1,477.8l0.59,1.59l1.69,0.07l-1.33,1.05l0.46,1.63l-1.41,-0.94l-1.41,0.94l0.46,-1.63l-1.33,-1.05l1.69,-0.07zM493.3,502.4l0.59,1.59l1.69,0.07l-1.33,1.05l0.46,1.63l-1.41,-0.94l-1.41,0.94l0.46,-1.63l-1.33,-1.05l1.69,-0.07zM504.0,523.2l0.59,1.59l1.69,0.07l-1.33,1.05l0.46,1.63l-1.41,-0.94l-1.41,0.94l0.46,-1.63l-1.33,-1.05l1.69,-0.07zM492.4,465.4l0.59,1.59l1.69,0.07l-1.33,1.05l0.46,1.63l-1.41,-0.94l-1.41,0.94l0.46,-1.63l-1.33,-1.05l1.69,-0.07zM596.9,519.8l0.59,1.59l1.69,0.07l-1.33,1.05l0.46,1.63l-1.41,-0.94l-1.41,0.94l0.46,-1.63l-1.33,-1.05l1.69,-0.07zM594.5,438.1l0.59,1.59l1.69,0.07l-1.33,1.05l0.46,1.63l-1.41,-0.94l-1.41,0.94l0.46,-1.63l-1.33,-1.05l1.69,-0.07zM501.0,451.2l0.59,1.59l1.69,0.07l-1.33,1.05l0.46,1.63l-1.41,-0.94l-1.41,0.94l0.46,-1.63l-1.33,-1.05l1.69,-0.07zM486.1,523.3l0.59,1.59l1.69,0.07l-1.33,1.05l0.46,1.63l-1.41,-0.94l-1.41,0.94l0.46,-1.63l-1.33,-1.05l1.69,-0.07zM498.0,513.3l0.59,1.59l1.69,0.07l-1.33,1.05l0.46,1.63l-1.41,-0.94l-1.41,0.94l0.46,-1.63l-1.33,-1.05l1.69,-0.07zM584.7,485.8l0.59,1.59l1.69,0.07l-1.33,1.05l0.46,1.63l-1.41,-0.94l-1.41,0.94l0.46,-1.63l-1.33,-1.05l1.69,-0.07zM503.5,477.2l0.59,1.59l1.69,0.07l-1.33,1.05l0.46,1.63l-1.41,-0.94l-1.41,0.94l0.46,-1.63l-1.33,-1.05l1.69,-0.07zM497.3,483.8l0.59,1.59l1.69,0.07l-1.33,1.05l0.46,1.63l-1.41,-0.94l-1.41,0.94l0.46,-1.63l-1.33,-1.05l1.69,-0.07zM485.5,479.1l0.59,1.59l1.69,0.07l-1.33,1.05l0.46,1.63l-1.41,-0.94l-1.41,0.94l0.46,-1.63l-1.33,-1.05l1.69,-0.07zM585.0,473.7l0.59,1.59l1.69,0.07l-1.33,1.05l0.46,1.63l-1.41,-0.94l-1.41,0.94l0.46,-1.63l-1.33,-1.05l1.69,-0.07zM588.5,490.2l0.59,1.59l1.69,0.07l-1.33,1.05l0.46,1.63l-1.41,-0.94l-1.41,0.94l0.46,-1.63l-1.33,-1.05l1.69,-0.07zM586.4,524.2l0.59,1.59l1.69,0.07l-1.33,1.05l0.46,1.63l-1.41,-0.94l-1.41,0.94l0.46,-1.63l-1.33,-1.05l1.69,-0.07zM498.7,446.6l0.59,1.59l1.69,0.07l-1.33,1.05l0.46,1.63l-1.41,-0.94l-1.41,0.94l0.46,-1.63l-1.33,-1.05l1.69,-0.07zM589.8,483.9l0.59,1.59l1.69,0.07l-1.33,1.05l0.46,1.63l-1.41,-0.94l-1.41,0.94l0.46,-1.63l-1.33,-1.05l1.69,-0.07zM503.9,523.7l0.59,1.59l1.69,0.07l-1.33,1.05l0.46,1.63l-1.41,-0.94l-1.41,0.94l0.46,-1.63l-1.33,-1.05l1.69,-0.07zM583.8,495.6l0.59,1.59l1.69,0.07l-1.33,1.05l0.46,1.63l-1.41,-0.94l-1.41,0.94l0.46,-1.63l-1.33,-1.05l1.69,-0.07zM590.9,497.3l0.59,1.59l1.69,0.07l-1.33,1.05l0.46,1.63l-1.41,-0.94l-1.41,0.94l0.46,-1.63l-1.33,-1.05l1.69,-0.07zM500.3,520.4l0.59,1.59l1.69,0.07l-1.33,1.05l0.46,1.63l-1.41,-0.94l-1.41,0.94l0.46,-1.63l-1.33,-1.05l1.69,-0.07zM592.1,523.8l0.59,1.59l1.69,0.07l-1.33,1.05l0.46,1.63l-1.41,-0.94l-1.41,0.94l0.46,-1.63l-1.33,-1.05l1.69,-0.07zM502.7,522.7l0.59,1.59l1.69,0.07l-1.33,1.05l0.46,1.63l-1.41,-0.94l-1.41,0.94l0.46,-1.63l-1.33,-1.05l1.69,-0.07zM503.5,520.9l0.59,1.59l1.69,0.07l-1.33,1.05l0.46,1.63l-1.41,-0.94l-1.41,0.94l0.46,-1.63l-1.33,-1.05l1.69,-0.07zM588.1,515.1l0.59,1.59l1.69,0.07l-1.33,1.05l0.46,1.63l-1.41,-0.94l-1.41,0.94l0.46,-1.63l-1.33,-1.05l1.69,-0.07zM605.4,517.7l0.59,1.59l1.69,0.07l-1.33,1.05l0.46,1.63l-1.41,-0.94l-1.41,0.94l0.46,-1.63l-1.33,-1.05l1.69,-0.07zM489.4,497.8l0.59,1.59l1.69,0.07l-1.33,1.05l0.46,1.63l-1.41,-0.94l-1.41,0.94l0.46,-1.63l-1.33,-1.05l1.69,-0.07zM495.2,522.1l0.59,1.59l1.69,0.07l-1.33,1.05l0.46,1.63l-1.41,-0.94l-1.41,0.94l0.46,-1.63l-1.33,-1.05l1.69,-0.07zM504.2,511.1l0.59,1.59l1.69,0.07l-1.33,1.05l0.46,1.63l-1.41,-0.94l-1.41,0.94l0.46,-1.63l-1.33,-1.05l1.69,-0.07zM502.4,509.2l0.59,1.59l1.69,0.07l-1.33,1.05l0.46,1.63l-1.41,-0.94l-1.41,0.94l0.46,-1.63l-1.33,-1.05l1.69,-0.07zM592.3,502.4l0.59,1.59l1.69,0.07l-1.33,1.05l0.46,1.63l-1.41,-0.94l-1.41,0.94l0.46,-1.63l-1.33,-1.05l1.69,-0.07zM493.8,487.1l0.59,1.59l1.69,0.07l-1.33,1.05l0.46,1.63l-1.41,-0.94l-1.41,0.94l0.46,-1.63l-1.33,-1.05l1.69,-0.07zM503.5,470.5l0.59,1.59l1.69,0.07l-1.33,1.05l0.46,1.63l-1.41,-0.94l-1.41,0.94l0.46,-1.63l-1.33,-1.05l1.69,-0.07zM492.4,513.8l0.59,1.59l1.69,0.07l-1.33,1.05l0.46,1.63l-1.41,-0.94l-1.41,0.94l0.46,-1.63l-1.33,-1.05l1.69,-0.07zM486.7,520.7l0.59,1.59l1.69,0.07l-1.33,1.05l0.46,1.63l-1.41,-0.94l-1.41,0.94l0.46,-1.63l-1.33,-1.05l1.69,-0.07zM599.7,512.3l0.59,1.59l1.69,0.07l-1.33,1.05l0.46,1.63l-1.41,-0.94l-1.41,0.94l0.46,-1.63l-1.33,-1.05l1.69,-0.07zM624.2,509.4l0.59,1.59l1.69,0.07l-1.33,1.05l0.46,1.63l-1.41,-0.94l-1.41,0.94l0.46,-1.63l-1.33,-1.05l1.69,-0.07zM604.1,440.7l0.59,1.59l1.69,0.07l-1.33,1.05l0.46,1.63l-1.41,-0.94l-1.41,0.94l0.46,-1.63l-1.33,-1.05l1.69,-0.07zM489.2,500.7l0.59,1.59l1.69,0.07l-1.33,1.05l0.46,1.63l-1.41,-0.94l-1.41,0.94l0.46,-1.63l-1.33,-1.05l1.69,-0.07zM501.1,497.9l0.59,1.59l1.69,0.07l-1.33,1.05l0.46,1.63l-1.41,-0.94l-1.41,0.94l0.46,-1.63l-1.33,-1.05l1.69,-0.07zM504.3,507.9l0.59,1.59l1.69,0.07l-1.33,1.05l0.46,1.63l-1.41,-0.94l-1.41,0.94l0.46,-1.63l-1.33,-1.05l1.69,-0.07zM501.9,494.0l0.59,1.59l1.69,0.07l-1.33,1.05l0.46,1.63l-1.41,-0.94l-1.41,0.94l0.46,-1.63l-1.33,-1.05l1.69,-0.07zM487.9,524.0l0.59,1.59l1.69,0.07l-1.33,1.05l0.46,1.63l-1.41,-0.94l-1.41,0.94l0.46,-1.63l-1.33,-1.05l1.69,-0.07zM491.9,516.4l0.59,1.59l1.69,0.07l-1.33,1.05l0.46,1.63l-1.41,-0.94l-1.41,0.94l0.46,-1.63l-1.33,-1.05l1.69,-0.07zM494.0,523.1l0.59,1.59l1.69,0.07l-1.33,1.05l0.46,1.63l-1.41,-0.94l-1.41,0.94l0.46,-1.63l-1.33,-1.05l1.69,-0.07zM494.5,522.8l0.59,1.59l1.69,0.07l-1.33,1.05l0.46,1.63l-1.41,-0.94l-1.41,0.94l0.46,-1.63l-1.33,-1.05l1.69,-0.07zM588.6,506.5l0.59,1.59l1.69,0.07l-1.33,1.05l0.46,1.63l-1.41,-0.94l-1.41,0.94l0.46,-1.63l-1.33,-1.05l1.69,-0.07zM584.2,508.1l0.59,1.59l1.69,0.07l-1.33,1.05l0.46,1.63l-1.41,-0.94l-1.41,0.94l0.46,-1.63l-1.33,-1.05l1.69,-0.07zM489.8,522.9l0.59,1.59l1.69,0.07l-1.33,1.05l0.46,1.63l-1.41,-0.94l-1.41,0.94l0.46,-1.63l-1.33,-1.05l1.69,-0.07zM632.6,516.2l0.59,1.59l1.69,0.07l-1.33,1.05l0.46,1.63l-1.41,-0.94l-1.41,0.94l0.46,-1.63l-1.33,-1.05l1.69,-0.07zM498.3,469.5l0.59,1.59l1.69,0.07l-1.33,1.05l0.46,1.63l-1.41,-0.94l-1.41,0.94l0.46,-1.63l-1.33,-1.05l1.69,-0.07zM483.8,469.7l0.59,1.59l1.69,0.07l-1.33,1.05l0.46,1.63l-1.41,-0.94l-1.41,0.94l0.46,-1.63l-1.33,-1.05l1.69,-0.07zM497.2,514.1l0.59,1.59l1.69,0.07l-1.33,1.05l0.46,1.63l-1.41,-0.94l-1.41,0.94l0.46,-1.63l-1.33,-1.05l1.69,-0.07zM499.2,509.4l0.59,1.59l1.69,0.07l-1.33,1.05l0.46,1.63l-1.41,-0.94l-1.41,0.94l0.46,-1.63l-1.33,-1.05l1.69,-0.07zM500.4,518.9l0.59,1.59l1.69,0.07l-1.33,1.05l0.46,1.63l-1.41,-0.94l-1.41,0.94l0.46,-1.63l-1.33,-1.05l1.69,-0.07zM583.0,504.7l0.59,1.59l1.69,0.07l-1.33,1.05l0.46,1.63l-1.41,-0.94l-1.41,0.94l0.46,-1.63l-1.33,-1.05l1.69,-0.07zM486.5,520.0l0.59,1.59l1.69,0.07l-1.33,1.05l0.46,1.63l-1.41,-0.94l-1.41,0.94l0.46,-1.63l-1.33,-1.05l1.69,-0.07zM497.5,503.0l0.59,1.59l1.69,0.07l-1.33,1.05l0.46,1.63l-1.41,-0.94l-1.41,0.94l0.46,-1.63l-1.33,-1.05l1.69,-0.07zM482.8,513.9l0.59,1.59l1.69,0.07l-1.33,1.05l0.46,1.63l-1.41,-0.94l-1.41,0.94l0.46,-1.63l-1.33,-1.05l1.69,-0.07zM501.0,500.0l0.59,1.59l1.69,0.07l-1.33,1.05l0.46,1.63l-1.41,-0.94l-1.41,0.94l0.46,-1.63l-1.33,-1.05l1.69,-0.07zM500.6,523.5l0.59,1.59l1.69,0.07l-1.33,1.05l0.46,1.63l-1.41,-0.94l-1.41,0.94l0.46,-1.63l-1.33,-1.05l1.69,-0.07zM497.3,513.4l0.59,1.59l1.69,0.07l-1.33,1.05l0.46,1.63l-1.41,-0.94l-1.41,0.94l0.46,-1.63l-1.33,-1.05l1.69,-0.07zM492.9,502.8l0.59,1.59l1.69,0.07l-1.33,1.05l0.46,1.63l-1.41,-0.94l-1.41,0.94l0.46,-1.63l-1.33,-1.05l1.69,-0.07zM486.9,476.8l0.59,1.59l1.69,0.07l-1.33,1.05l0.46,1.63l-1.41,-0.94l-1.41,0.94l0.46,-1.63l-1.33,-1.05l1.69,-0.07zM584.7,507.0l0.59,1.59l1.69,0.07l-1.33,1.05l0.46,1.63l-1.41,-0.94l-1.41,0.94l0.46,-1.63l-1.33,-1.05l1.69,-0.07zM498.2,523.0l0.59,1.59l1.69,0.07l-1.33,1.05l0.46,1.63l-1.41,-0.94l-1.41,0.94l0.46,-1.63l-1.33,-1.05l1.69,-0.07zM588.0,512.4l0.59,1.59l1.69,0.07l-1.33,1.05l0.46,1.63l-1.41,-0.94l-1.41,0.94l0.46,-1.63l-1.33,-1.05l1.69,-0.07zM585.0,494.4l0.59,1.59l1.69,0.07l-1.33,1.05l0.46,1.63l-1.41,-0.94l-1.41,0.94l0.46,-1.63l-1.33,-1.05l1.69,-0.07zM493.9,512.5l0.59,1.59l1.69,0.07l-1.33,1.05l0.46,1.63l-1.41,-0.94l-1.41,0.94l0.46,-1.63l-1.33,-1.05l1.69,-0.07zM502.2,478.9l0.59,1.59l1.69,0.07l-1.33,1.05l0.46,1.63l-1.41,-0.94l-1.41,0.94l0.46,-1.63l-1.33,-1.05l1.69,-0.07zM495.6,520.1l0.59,1.59l1.69,0.07l-1.33,1.05l0.46,1.63l-1.41,-0.94l-1.41,0.94l0.46,-1.63l-1.33,-1.05l1.69,-0.07zM499.9,463.6l0.59,1.59l1.69,0.07l-1.33,1.05l0.46,1.63l-1.41,-0.94l-1.41,0.94l0.46,-1.63l-1.33,-1.05l1.69,-0.07zM495.4,513.6l0.59,1.59l1.69,0.07l-1.33,1.05l0.46,1.63l-1.41,-0.94l-1.41,0.94l0.46,-1.63l-1.33,-1.05l1.69,-0.07zM500.6,511.9l0.59,1.59l1.69,0.07l-1.33,1.05l0.46,1.63l-1.41,-0.94l-1.41,0.94l0.46,-1.63l-1.33,-1.05l1.69,-0.07zM500.5,500.1l0.59,1.59l1.69,0.07l-1.33,1.05l0.46,1.63l-1.41,-0.94l-1.41,0.94l0.46,-1.63l-1.33,-1.05l1.69,-0.07zM488.1,516.7l0.59,1.59l1.69,0.07l-1.33,1.05l0.46,1.63l-1.41,-0.94l-1.41,0.94l0.46,-1.63l-1.33,-1.05l1.69,-0.07zM591.8,522.4l0.59,1.59l1.69,0.07l-1.33,1.05l0.46,1.63l-1.41,-0.94l-1.41,0.94l0.46,-1.63l-1.33,-1.05l1.69,-0.07zM595.7,513.3l0.59,1.59l1.69,0.07l-1.33,1.05l0.46,1.63l-1.41,-0.94l-1.41,0.94l0.46,-1.63l-1.33,-1.05l1.69,-0.07zM589.0,477.3l0.59,1.59l1.69,0.07l-1.33,1.05l0.46,1.63l-1.41,-0.94l-1.41,0.94l0.46,-1.63l-1.33,-1.05l1.69,-0.07zM592.5,478.0l0.59,1.59l1.69,0.07l-1.33,1.05l0.46,1.63l-1.41,-0.94l-1.41,0.94l0.46,-1.63l-1.33,-1.05l1.69,-0.07zM498.1,499.6l0.59,1.59l1.69,0.07l-1.33,1.05l0.46,1.63l-1.41,-0.94l-1.41,0.94l0.46,-1.63l-1.33,-1.05l1.69,-0.07zM494.0,520.0l0.59,1.59l1.69,0.07l-1.33,1.05l0.46,1.63l-1.41,-0.94l-1.41,0.94l0.46,-1.63l-1.33,-1.05l1.69,-0.07zM582.7,522.2l0.59,1.59l1.69,0.07l-1.33,1.05l0.46,1.63l-1.41,-0.94l-1.41,0.94l0.46,-1.63l-1.33,-1.05l1.69,-0.07zM586.5,518.0l0.59,1.59l1.69,0.07l-1.33,1.05l0.46,1.63l-1.41,-0.94l-1.41,0.94l0.46,-1.63l-1.33,-1.05l1.69,-0.07zM502.5,511.9l0.59,1.59l1.69,0.07l-1.33,1.05l0.46,1.63l-1.41,-0.94l-1.41,0.94l0.46,-1.63l-1.33,-1.05l1.69,-0.07zM502.5,521.3l0.59,1.59l1.69,0.07l-1.33,1.05l0.46,1.63l-1.41,-0.94l-1.41,0.94l0.46,-1.63l-1.33,-1.05l1.69,-0.07zM477.4,521.3l0.59,1.59l1.69,0.07l-1.33,1.05l0.46,1.63l-1.41,-0.94l-1.41,0.94l0.46,-1.63l-1.33,-1.05l1.69,-0.07zM502.1,516.4l0.59,1.59l1.69,0.07l-1.33,1.05l0.46,1.63l-1.41,-0.94l-1.41,0.94l0.46,-1.63l-1.33,-1.05l1.69,-0.07zM498.8,496.9l0.59,1.59l1.69,0.07l-1.33,1.05l0.46,1.63l-1.41,-0.94l-1.41,0.94l0.46,-1.63l-1.33,-1.05l1.69,-0.07zM496.3,504.1l0.59,1.59l1.69,0.07l-1.33,1.05l0.46,1.63l-1.41,-0.94l-1.41,0.94l0.46,-1.63l-1.33,-1.05l1.69,-0.07zM586.7,515.0l0.59,1.59l1.69,0.07l-1.33,1.05l0.46,1.63l-1.41,-0.94l-1.41,0.94l0.46,-1.63l-1.33,-1.05l1.69,-0.07zM601.9,513.7l0.59,1.59l1.69,0.07l-1.33,1.05l0.46,1.63l-1.41,-0.94l-1.41,0.94l0.46,-1.63l-1.33,-1.05l1.69,-0.07zM481.4,513.8l0.59,1.59l1.69,0.07l-1.33,1.05l0.46,1.63l-1.41,-0.94l-1.41,0.94l0.46,-1.63l-1.33,-1.05l1.69,-0.07zM497.1,472.3l0.59,1.59l1.69,0.07l-1.33,1.05l0.46,1.63l-1.41,-0.94l-1.41,0.94l0.46,-1.63l-1.33,-1.05l1.69,-0.07zM487.1,498.5l0.59,1.59l1.69,0.07l-1.33,1.05l0.46,1.63l-1.41,-0.94l-1.41,0.94l0.46,-1.63l-1.33,-1.05l1.69,-0.07zM500.0,490.4l0.59,1.59l1.69,0.07l-1.33,1.05l0.46,1.63l-1.41,-0.94l-1.41,0.94l0.46,-1.63l-1.33,-1.05l1.69,-0.07zM591.9,506.7l0.59,1.59l1.69,0.07l-1.33,1.05l0.46,1.63l-1.41,-0.94l-1.41,0.94l0.46,-1.63l-1.33,-1.05l1.69,-0.07zM504.4,478.1l0.59,1.59l1.69,0.07l-1.33,1.05l0.46,1.63l-1.41,-0.94l-1.41,0.94l0.46,-1.63l-1.33,-1.05l1.69,-0.07zM496.8,519.8l0.59,1.59l1.69,0.07l-1.33,1.05l0.46,1.63l-1.41,-0.94l-1.41,0.94l0.46,-1.63l-1.33,-1.05l1.69,-0.07zM607.4,473.6l0.59,1.59l1.69,0.07l-1.33,1.05l0.46,1.63l-1.41,-0.94l-1.41,0.94l0.46,-1.63l-1.33,-1.05l1.69,-0.07zM593.2,498.5l0.59,1.59l1.69,0.07l-1.33,1.05l0.46,1.63l-1.41,-0.94l-1.41,0.94l0.46,-1.63l-1.33,-1.05l1.69,-0.07zM491.5,498.4l0.59,1.59l1.69,0.07l-1.33,1.05l0.46,1.63l-1.41,-0.94l-1.41,0.94l0.46,-1.63l-1.33,-1.05l1.69,-0.07zM591.5,523.3l0.59,1.59l1.69,0.07l-1.33,1.05l0.46,1.63l-1.41,-0.94l-1.41,0.94l0.46,-1.63l-1.33,-1.05l1.69,-0.07zM480.0,460.1l0.59,1.59l1.69,0.07l-1.33,1.05l0.46,1.63l-1.41,-0.94l-1.41,0.94l0.46,-1.63l-1.33,-1.05l1.69,-0.07zM494.5,494.6l0.59,1.59l1.69,0.07l-1.33,1.05l0.46,1.63l-1.41,-0.94l-1.41,0.94l0.46,-1.63l-1.33,-1.05l1.69,-0.07zM501.3,490.2l0.59,1.59l1.69,0.07l-1.33,1.05l0.46,1.63l-1.41,-0.94l-1.41,0.94l0.46,-1.63l-1.33,-1.05l1.69,-0.07zM500.1,510.4l0.59,1.59l1.69,0.07l-1.33,1.05l0.46,1.63l-1.41,-0.94l-1.41,0.94l0.46,-1.63l-1.33,-1.05l1.69,-0.07zM503.1,483.8l0.59,1.59l1.69,0.07l-1.33,1.05l0.46,1.63l-1.41,-0.94l-1.41,0.94l0.46,-1.63l-1.33,-1.05l1.69,-0.07zM503.6,504.1l0.59,1.59l1.69,0.07l-1.33,1.05l0.46,1.63l-1.41,-0.94l-1.41,0.94l0.46,-1.63l-1.33,-1.05l1.69,-0.07zM504.2,523.8l0.59,1.59l1.69,0.07l-1.33,1.05l0.46,1.63l-1.41,-0.94l-1.41,0.94l0.46,-1.63l-1.33,-1.05l1.69,-0.07zM474.5,507.3l0.59,1.59l1.69,0.07l-1.33,1.05l0.46,1.63l-1.41,-0.94l-1.41,0.94l0.46,-1.63l-1.33,-1.05l1.69,-0.07zM487.4,517.1l0.59,1.59l1.69,0.07l-1.33,1.05l0.46,1.63l-1.41,-0.94l-1.41,0.94l0.46,-1.63l-1.33,-1.05l1.69,-0.07zM605.9,514.4l0.59,1.59l1.69,0.07l-1.33,1.05l0.46,1.63l-1.41,-0.94l-1.41,0.94l0.46,-1.63l-1.33,-1.05l1.69,-0.07zM488.6,474.8l0.59,1.59l1.69,0.07l-1.33,1.05l0.46,1.63l-1.41,-0.94l-1.41,0.94l0.46,-1.63l-1.33,-1.05l1.69,-0.07zM500.9,523.0l0.59,1.59l1.69,0.07l-1.33,1.05l0.46,1.63l-1.41,-0.94l-1.41,0.94l0.46,-1.63l-1.33,-1.05l1.69,-0.07zM605.2,452.2l0.59,1.59l1.69,0.07l-1.33,1.05l0.46,1.63l-1.41,-0.94l-1.41,0.94l0.46,-1.63l-1.33,-1.05l1.69,-0.07zM496.6,524.6l0.59,1.59l1.69,0.07l-1.33,1.05l0.46,1.63l-1.41,-0.94l-1.41,0.94l0.46,-1.63l-1.33,-1.05l1.69,-0.07zM495.2,494.8l0.59,1.59l1.69,0.07l-1.33,1.05l0.46,1.63l-1.41,-0.94l-1.41,0.94l0.46,-1.63l-1.33,-1.05l1.69,-0.07zM600.4,524.6l0.59,1.59l1.69,0.07l-1.33,1.05l0.46,1.63l-1.41,-0.94l-1.41,0.94l0.46,-1.63l-1.33,-1.05l1.69,-0.07zM501.6,521.5l0.59,1.59l1.69,0.07l-1.33,1.05l0.46,1.63l-1.41,-0.94l-1.41,0.94l0.46,-1.63l-1.33,-1.05l1.69,-0.07zM486.4,507.1l0.59,1.59l1.69,0.07l-1.33,1.05l0.46,1.63l-1.41,-0.94l-1.41,0.94l0.46,-1.63l-1.33,-1.05l1.69,-0.07zM484.1,491.1l0.59,1.59l1.69,0.07l-1.33,1.05l0.46,1.63l-1.41,-0.94l-1.41,0.94l0.46,-1.63l-1.33,-1.05l1.69,-0.07zM500.3,522.6l0.59,1.59l1.69,0.07l-1.33,1.05l0.46,1.63l-1.41,-0.94l-1.41,0.94l0.46,-1.63l-1.33,-1.05l1.69,-0.07zM489.9,494.8l0.59,1.59l1.69,0.07l-1.33,1.05l0.46,1.63l-1.41,-0.94l-1.41,0.94l0.46,-1.63l-1.33,-1.05l1.69,-0.07zM499.5,511.4l0.59,1.59l1.69,0.07l-1.33,1.05l0.46,1.63l-1.41,-0.94l-1.41,0.94l0.46,-1.63l-1.33,-1.05l1.69,-0.07zM494.3,502.2l0.59,1.59l1.69,0.07l-1.33,1.05l0.46,1.63l-1.41,-0.94l-1.41,0.94l0.46,-1.63l-1.33,-1.05l1.69,-0.07zM494.2,504.1l0.59,1.59l1.69,0.07l-1.33,1.05l0.46,1.63l-1.41,-0.94l-1.41,0.94l0.46,-1.63l-1.33,-1.05l1.69,-0.07zM617.9,517.1l0.59,1.59l1.69,0.07l-1.33,1.05l0.46,1.63l-1.41,-0.94l-1.41,0.94l0.46,-1.63l-1.33,-1.05l1.69,-0.07zM502.7,508.8l0.59,1.59l1.69,0.07l-1.33,1.05l0.46,1.63l-1.41,-0.94l-1.41,0.94l0.46,-1.63l-1.33,-1.05l1.69,-0.07zM502.2,509.4l0.59,1.59l1.69,0.07l-1.33,1.05l0.46,1.63l-1.41,-0.94l-1.41,0.94l0.46,-1.63l-1.33,-1.05l1.69,-0.07zM599.9,523.5l0.59,1.59l1.69,0.07l-1.33,1.05l0.46,1.63l-1.41,-0.94l-1.41,0.94l0.46,-1.63l-1.33,-1.05l1.69,-0.07zM480.5,523.5l0.59,1.59l1.69,0.07l-1.33,1.05l0.46,1.63l-1.41,-0.94l-1.41,0.94l0.46,-1.63l-1.33,-1.05l1.69,-0.07zM500.5,519.6l0.59,1.59l1.69,0.07l-1.33,1.05l0.46,1.63l-1.41,-0.94l-1.41,0.94l0.46,-1.63l-1.33,-1.05l1.69,-0.07zM476.1,515.6l0.59,1.59l1.69,0.07l-1.33,1.05l0.46,1.63l-1.41,-0.94l-1.41,0.94l0.46,-1.63l-1.33,-1.05l1.69,-0.07zM492.9,516.8l0.59,1.59l1.69,0.07l-1.33,1.05l0.46,1.63l-1.41,-0.94l-1.41,0.94l0.46,-1.63l-1.33,-1.05l1.69,-0.07zM620.3,521.1l0.59,1.59l1.69,0.07l-1.33,1.05l0.46,1.63l-1.41,-0.94l-1.41,0.94l0.46,-1.63l-1.33,-1.05l1.69,-0.07zM488.4,481.5l0.59,1.59l1.69,0.07l-1.33,1.05l0.46,1.63l-1.41,-0.94l-1.41,0.94l0.46,-1.63l-1.33,-1.05l1.69,-0.07zM501.3,522.7l0.59,1.59l1.69,0.07l-1.33,1.05l0.46,1.63l-1.41,-0.94l-1.41,0.94l0.46,-1.63l-1.33,-1.05l1.69,-0.07zM500.2,522.8l0.59,1.59l1.69,0.07l-1.33,1.05l0.46,1.63l-1.41,-0.94l-1.41,0.94l0.46,-1.63l-1.33,-1.05l1.69,-0.07zM504.5,519.6l0.59,1.59l1.69,0.07l-1.33,1.05l0.46,1.63l-1.41,-0.94l-1.41,0.94l0.46,-1.63l-1.33,-1.05l1.69,-0.07zM503.3,501.5l0.59,1.59l1.69,0.07l-1.33,1.05l0.46,1.63l-1.41,-0.94l-1.41,0.94l0.46,-1.63l-1.33,-1.05l1.69,-0.07zM502.4,510.2l0.59,1.59l1.69,0.07l-1.33,1.05l0.46,1.63l-1.41,-0.94l-1.41,0.94l0.46,-1.63l-1.33,-1.05l1.69,-0.07zM584.4,510.9l0.59,1.59l1.69,0.07l-1.33,1.05l0.46,1.63l-1.41,-0.94l-1.41,0.94l0.46,-1.63l-1.33,-1.05l1.69,-0.07zM592.4,488.2l0.59,1.59l1.69,0.07l-1.33,1.05l0.46,1.63l-1.41,-0.94l-1.41,0.94l0.46,-1.63l-1.33,-1.05l1.69,-0.07zM486.3,501.3l0.59,1.59l1.69,0.07l-1.33,1.05l0.46,1.63l-1.41,-0.94l-1.41,0.94l0.46,-1.63l-1.33,-1.05l1.69,-0.07zM492.2,523.7l0.59,1.59l1.69,0.07l-1.33,1.05l0.46,1.63l-1.41,-0.94l-1.41,0.94l0.46,-1.63l-1.33,-1.05l1.69,-0.07zM589.1,516.8l0.59,1.59l1.69,0.07l-1.33,1.05l0.46,1.63l-1.41,-0.94l-1.41,0.94l0.46,-1.63l-1.33,-1.05l1.69,-0.07zM497.9,524.0l0.59,1.59l1.69,0.07l-1.33,1.05l0.46,1.63l-1.41,-0.94l-1.41,0.94l0.46,-1.63l-1.33,-1.05l1.69,-0.07zM500.1,511.7l0.59,1.59l1.69,0.07l-1.33,1.05l0.46,1.63l-1.41,-0.94l-1.41,0.94l0.46,-1.63l-1.33,-1.05l1.69,-0.07zM497.8,500.9l0.59,1.59l1.69,0.07l-1.33,1.05l0.46,1.63l-1.41,-0.94l-1.41,0.94l0.46,-1.63l-1.33,-1.05l1.69,-0.07zM620.8,516.3l0.59,1.59l1.69,0.07l-1.33,1.05l0.46,1.63l-1.41,-0.94l-1.41,0.94l0.46,-1.63l-1.33,-1.05l1.69,-0.07zM486.4,519.1l0.59,1.59l1.69,0.07l-1.33,1.05l0.46,1.63l-1.41,-0.94l-1.41,0.94l0.46,-1.63l-1.33,-1.05l1.69,-0.07zM500.0,512.9l0.59,1.59l1.69,0.07l-1.33,1.05l0.46,1.63l-1.41,-0.94l-1.41,0.94l0.46,-1.63l-1.33,-1.05l1.69,-0.07zM481.0,470.4l0.59,1.59l1.69,0.07l-1.33,1.05l0.46,1.63l-1.41,-0.94l-1.41,0.94l0.46,-1.63l-1.33,-1.05l1.69,-0.07zM585.4,513.0l0.59,1.59l1.69,0.07l-1.33,1.05l0.46,1.63l-1.41,-0.94l-1.41,0.94l0.46,-1.63l-1.33,-1.05l1.69,-0.07zM500.8,520.3l0.59,1.59l1.69,0.07l-1.33,1.05l0.46,1.63l-1.41,-0.94l-1.41,0.94l0.46,-1.63l-1.33,-1.05l1.69,-0.07zM603.2,515.7l0.59,1.59l1.69,0.07l-1.33,1.05l0.46,1.63l-1.41,-0.94l-1.41,0.94l0.46,-1.63l-1.33,-1.05l1.69,-0.07zM502.4,524.4l0.59,1.59l1.69,0.07l-1.33,1.05l0.46,1.63l-1.41,-0.94l-1.41,0.94l0.46,-1.63l-1.33,-1.05l1.69,-0.07zM500.1,492.7l0.59,1.59l1.69,0.07l-1.33,1.05l0.46,1.63l-1.41,-0.94l-1.41,0.94l0.46,-1.63l-1.33,-1.05l1.69,-0.07zM497.9,498.3l0.59,1.59l1.69,0.07l-1.33,1.05l0.46,1.63l-1.41,-0.94l-1.41,0.94l0.46,-1.63l-1.33,-1.05l1.69,-0.07zM503.2,513.3l0.59,1.59l1.69,0.07l-1.33,1.05l0.46,1.63l-1.41,-0.94l-1.41,0.94l0.46,-1.63l-1.33,-1.05l1.69,-0.07zM473.8,516.8l0.59,1.59l1.69,0.07l-1.33,1.05l0.46,1.63l-1.41,-0.94l-1.41,0.94l0.46,-1.63l-1.33,-1.05l1.69,-0.07zM493.0,498.6l0.59,1.59l1.69,0.07l-1.33,1.05l0.46,1.63l-1.41,-0.94l-1.41,0.94l0.46,-1.63l-1.33,-1.05l1.69,-0.07zM499.5,518.6l0.59,1.59l1.69,0.07l-1.33,1.05l0.46,1.63l-1.41,-0.94l-1.41,0.94l0.46,-1.63l-1.33,-1.05l1.69,-0.07zM582.6,491.8l0.59,1.59l1.69,0.07l-1.33,1.05l0.46,1.63l-1.41,-0.94l-1.41,0.94l0.46,-1.63l-1.33,-1.05l1.69,-0.07zM503.3,498.8l0.59,1.59l1.69,0.07l-1.33,1.05l0.46,1.63l-1.41,-0.94l-1.41,0.94l0.46,-1.63l-1.33,-1.05l1.69,-0.07zM501.7,496.1l0.59,1.59l1.69,0.07l-1.33,1.05l0.46,1.63l-1.41,-0.94l-1.41,0.94l0.46,-1.63l-1.33,-1.05l1.69,-0.07zM503.8,523.2l0.59,1.59l1.69,0.07l-1.33,1.05l0.46,1.63l-1.41,-0.94l-1.41,0.94l0.46,-1.63l-1.33,-1.05l1.69,-0.07zM601.1,521.1l0.59,1.59l1.69,0.07l-1.33,1.05l0.46,1.63l-1.41,-0.94l-1.41,0.94l0.46,-1.63l-1.33,-1.05l1.69,-0.07zM496.5,483.3l0.59,1.59l1.69,0.07l-1.33,1.05l0.46,1.63l-1.41,-0.94l-1.41,0.94l0.46,-1.63l-1.33,-1.05l1.69,-0.07zM603.3,516.7l0.59,1.59l1.69,0.07l-1.33,1.05l0.46,1.63l-1.41,-0.94l-1.41,0.94l0.46,-1.63l-1.33,-1.05l1.69,-0.07zM589.1,492.2l0.59,1.59l1.69,0.07l-1.33,1.05l0.46,1.63l-1.41,-0.94l-1.41,0.94l0.46,-1.63l-1.33,-1.05l1.69,-0.07zM493.3,513.5l0.59,1.59l1.69,0.07l-1.33,1.05l0.46,1.63l-1.41,-0.94l-1.41,0.94l0.46,-1.63l-1.33,-1.05l1.69,-0.07zM498.4,522.9l0.59,1.59l1.69,0.07l-1.33,1.05l0.46,1.63l-1.41,-0.94l-1.41,0.94l0.46,-1.63l-1.33,-1.05l1.69,-0.07zM604.5,510.9l0.59,1.59l1.69,0.07l-1.33,1.05l0.46,1.63l-1.41,-0.94l-1.41,0.94l0.46,-1.63l-1.33,-1.05l1.69,-0.07zM503.8,523.6l0.59,1.59l1.69,0.07l-1.33,1.05l0.46,1.63l-1.41,-0.94l-1.41,0.94l0.46,-1.63l-1.33,-1.05l1.69,-0.07zM593.8,486.6l0.59,1.59l1.69,0.07l-1.33,1.05l0.46,1.63l-1.41,-0.94l-1.41,0.94l0.46,-1.63l-1.33,-1.05l1.69,-0.07zM587.0,520.6l0.59,1.59l1.69,0.07l-1.33,1.05l0.46,1.63l-1.41,-0.94l-1.41,0.94l0.46,-1.63l-1.33,-1.05l1.69,-0.07zM593.8,512.4l0.59,1.59l1.69,0.07l-1.33,1.05l0.46,1.63l-1.41,-0.94l-1.41,0.94l0.46,-1.63l-1.33,-1.05l1.69,-0.07zM492.5,519.9l0.59,1.59l1.69,0.07l-1.33,1.05l0.46,1.63l-1.41,-0.94l-1.41,0.94l0.46,-1.63l-1.33,-1.05l1.69,-0.07zM500.9,517.0l0.59,1.59l1.69,0.07l-1.33,1.05l0.46,1.63l-1.41,-0.94l-1.41,0.94l0.46,-1.63l-1.33,-1.05l1.69,-0.07zM501.7,520.5l0.59,1.59l1.69,0.07l-1.33,1.05l0.46,1.63l-1.41,-0.94l-1.41,0.94l0.46,-1.63l-1.33,-1.05l1.69,-0.07zM608.4,506.3l0.59,1.59l1.69,0.07l-1.33,1.05l0.46,1.63l-1.41,-0.94l-1.41,0.94l0.46,-1.63l-1.33,-1.05l1.69,-0.07zM496.7,505.0l0.59,1.59l1.69,0.07l-1.33,1.05l0.46,1.63l-1.41,-0.94l-1.41,0.94l0.46,-1.63l-1.33,-1.05l1.69,-0.07zM494.6,523.8l0.59,1.59l1.69,0.07l-1.33,1.05l0.46,1.63l-1.41,-0.94l-1.41,0.94l0.46,-1.63l-1.33,-1.05l1.69,-0.07zM599.4,524.0l0.59,1.59l1.69,0.07l-1.33,1.05l0.46,1.63l-1.41,-0.94l-1.41,0.94l0.46,-1.63l-1.33,-1.05l1.69,-0.07zM585.5,511.0l0.59,1.59l1.69,0.07l-1.33,1.05l0.46,1.63l-1.41,-0.94l-1.41,0.94l0.46,-1.63l-1.33,-1.05l1.69,-0.07zM583.9,510.9l0.59,1.59l1.69,0.07l-1.33,1.05l0.46,1.63l-1.41,-0.94l-1.41,0.94l0.46,-1.63l-1.33,-1.05l1.69,-0.07zM502.0,518.5l0.59,1.59l1.69,0.07l-1.33,1.05l0.46,1.63l-1.41,-0.94l-1.41,0.94l0.46,-1.63l-1.33,-1.05l1.69,-0.07zM490.7,518.2l0.59,1.59l1.69,0.07l-1.33,1.05l0.46,1.63l-1.41,-0.94l-1.41,0.94l0.46,-1.63l-1.33,-1.05l1.69,-0.07zM471.2,514.9l0.59,1.59l1.69,0.07l-1.33,1.05l0.46,1.63l-1.41,-0.94l-1.41,0.94l0.46,-1.63l-1.33,-1.05l1.69,-0.07zM596.0,454.1l0.59,1.59l1.69,0.07l-1.33,1.05l0.46,1.63l-1.41,-0.94l-1.41,0.94l0.46,-1.63l-1.33,-1.05l1.69,-0.07zM488.3,510.0l0.59,1.59l1.69,0.07l-1.33,1.05l0.46,1.63l-1.41,-0.94l-1.41,0.94l0.46,-1.63l-1.33,-1.05l1.69,-0.07zM497.4,521.9l0.59,1.59l1.69,0.07l-1.33,1.05l0.46,1.63l-1.41,-0.94l-1.41,0.94l0.46,-1.63l-1.33,-1.05l1.69,-0.07zM608.3,522.4l0.59,1.59l1.69,0.07l-1.33,1.05l0.46,1.63l-1.41,-0.94l-1.41,0.94l0.46,-1.63l-1.33,-1.05l1.69,-0.07zM618.7,510.5l0.59,1.59l1.69,0.07l-1.33,1.05l0.46,1.63l-1.41,-0.94l-1.41,0.94l0.46,-1.63l-1.33,-1.05l1.69,-0.07zM591.6,467.3l0.59,1.59l1.69,0.07l-1.33,1.05l0.46,1.63l-1.41,-0.94l-1.41,0.94l0.46,-1.63l-1.33,-1.05l1.69,-0.07zM590.6,497.4l0.59,1.59l1.69,0.07l-1.33,1.05l0.46,1.63l-1.41,-0.94l-1.41,0.94l0.46,-1.63l-1.33,-1.05l1.69,-0.07zM500.3,515.8l0.59,1.59l1.69,0.07l-1.33,1.05l0.46,1.63l-1.41,-0.94l-1.41,0.94l0.46,-1.63l-1.33,-1.05l1.69,-0.07zM502.4,522.2l0.59,1.59l1.69,0.07l-1.33,1.05l0.46,1.63l-1.41,-0.94l-1.41,0.94l0.46,-1.63l-1.33,-1.05l1.69,-0.07zM494.9,511.1l0.59,1.59l1.69,0.07l-1.33,1.05l0.46,1.63l-1.41,-0.94l-1.41,0.94l0.46,-1.63l-1.33,-1.05l1.69,-0.07zM483.3,500.8l0.59,1.59l1.69,0.07l-1.33,1.05l0.46,1.63l-1.41,-0.94l-1.41,0.94l0.46,-1.63l-1.33,-1.05l1.69,-0.07zM488.3,515.1l0.59,1.59l1.69,0.07l-1.33,1.05l0.46,1.63l-1.41,-0.94l-1.41,0.94l0.46,-1.63l-1.33,-1.05l1.69,-0.07zM503.6,462.3l0.59,1.59l1.69,0.07l-1.33,1.05l0.46,1.63l-1.41,-0.94l-1.41,0.94l0.46,-1.63l-1.33,-1.05l1.69,-0.07zM602.3,441.3l0.59,1.59l1.69,0.07l-1.33,1.05l0.46,1.63l-1.41,-0.94l-1.41,0.94l0.46,-1.63l-1.33,-1.05l1.69,-0.07zM625.5,519.9l0.59,1.59l1.69,0.07l-1.33,1.05l0.46,1.63l-1.41,-0.94l-1.41,0.94l0.46,-1.63l-1.33,-1.05l1.69,-0.07zM491.4,521.0l0.59,1.59l1.69,0.07l-1.33,1.05l0.46,1.63l-1.41,-0.94l-1.41,0.94l0.46,-1.63l-1.33,-1.05l1.69,-0.07zM492.2,517.8l0.59,1.59l1.69,0.07l-1.33,1.05l0.46,1.63l-1.41,-0.94l-1.41,0.94l0.46,-1.63l-1.33,-1.05l1.69,-0.07zM501.8,521.8l0.59,1.59l1.69,0.07l-1.33,1.05l0.46,1.63l-1.41,-0.94l-1.41,0.94l0.46,-1.63l-1.33,-1.05l1.69,-0.07zM488.3,509.4l0.59,1.59l1.69,0.07l-1.33,1.05l0.46,1.63l-1.41,-0.94l-1.41,0.94l0.46,-1.63l-1.33,-1.05l1.69,-0.07zM589.9,516.2l0.59,1.59l1.69,0.07l-1.33,1.05l0.46,1.63l-1.41,-0.94l-1.41,0.94l0.46,-1.63l-1.33,-1.05l1.69,-0.07zM503.7,518.9l0.59,1.59l1.69,0.07l-1.33,1.05l0.46,1.63l-1.41,-0.94l-1.41,0.94l0.46,-1.63l-1.33,-1.05l1.69,-0.07zM487.4,520.7l0.59,1.59l1.69,0.07l-1.33,1.05l0.46,1.63l-1.41,-0.94l-1.41,0.94l0.46,-1.63l-1.33,-1.05l1.69,-0.07zM502.3,524.3l0.59,1.59l1.69,0.07l-1.33,1.05l0.46,1.63l-1.41,-0.94l-1.41,0.94l0.46,-1.63l-1.33,-1.05l1.69,-0.07zM494.2,489.9l0.59,1.59l1.69,0.07l-1.33,1.05l0.46,1.63l-1.41,-0.94l-1.41,0.94l0.46,-1.63l-1.33,-1.05l1.69,-0.07zM584.9,520.5l0.59,1.59l1.69,0.07l-1.33,1.05l0.46,1.63l-1.41,-0.94l-1.41,0.94l0.46,-1.63l-1.33,-1.05l1.69,-0.07zM483.4,487.7l0.59,1.59l1.69,0.07l-1.33,1.05l0.46,1.63l-1.41,-0.94l-1.41,0.94l0.46,-1.63l-1.33,-1.05l1.69,-0.07zM491.5,519.2l0.59,1.59l1.69,0.07l-1.33,1.05l0.46,1.63l-1.41,-0.94l-1.41,0.94l0.46,-1.63l-1.33,-1.05l1.69,-0.07zM600.1,507.1l0.59,1.59l1.69,0.07l-1.33,1.05l0.46,1.63l-1.41,-0.94l-1.41,0.94l0.46,-1.63l-1.33,-1.05l1.69,-0.07zM492.2,494.0l0.59,1.59l1.69,0.07l-1.33,1.05l0.46,1.63l-1.41,-0.94l-1.41,0.94l0.46,-1.63l-1.33,-1.05l1.69,-0.07zM492.4,464.0l0.59,1.59l1.69,0.07l-1.33,1.05l0.46,1.63l-1.41,-0.94l-1.41,0.94l0.46,-1.63l-1.33,-1.05l1.69,-0.07zM504.5,518.0l0.59,1.59l1.69,0.07l-1.33,1.05l0.46,1.63l-1.41,-0.94l-1.41,0.94l0.46,-1.63l-1.33,-1.05l1.69,-0.07zM502.3,512.3l0.59,1.59l1.69,0.07l-1.33,1.05l0.46,1.63l-1.41,-0.94l-1.41,0.94l0.46,-1.63l-1.33,-1.05l1.69,-0.07zM582.4,517.0l0.59,1.59l1.69,0.07l-1.33,1.05l0.46,1.63l-1.41,-0.94l-1.41,0.94l0.46,-1.63l-1.33,-1.05l1.69,-0.07zM502.8,481.8l0.59,1.59l1.69,0.07l-1.33,1.05l0.46,1.63l-1.41,-0.94l-1.41,0.94l0.46,-1.63l-1.33,-1.05l1.69,-0.07zM497.5,521.5l0.59,1.59l1.69,0.07l-1.33,1.05l0.46,1.63l-1.41,-0.94l-1.41,0.94l0.46,-1.63l-1.33,-1.05l1.69,-0.07zM493.2,522.9l0.59,1.59l1.69,0.07l-1.33,1.05l0.46,1.63l-1.41,-0.94l-1.41,0.94l0.46,-1.63l-1.33,-1.05l1.69,-0.07zM494.2,519.7l0.59,1.59l1.69,0.07l-1.33,1.05l0.46,1.63l-1.41,-0.94l-1.41,0.94l0.46,-1.63l-1.33,-1.05l1.69,-0.07zM482.2,513.9l0.59,1.59l1.69,0.07l-1.33,1.05l0.46,1.63l-1.41,-0.94l-1.41,0.94l0.46,-1.63l-1.33,-1.05l1.69,-0.07zM496.0,508.3l0.59,1.59l1.69,0.07l-1.33,1.05l0.46,1.63l-1.41,-0.94l-1.41,0.94l0.46,-1.63l-1.33,-1.05l1.69,-0.07zM503.7,512.7l0.59,1.59l1.69,0.07l-1.33,1.05l0.46,1.63l-1.41,-0.94l-1.41,0.94l0.46,-1.63l-1.33,-1.05l1.69,-0.07zM491.3,524.4l0.59,1.59l1.69,0.07l-1.33,1.05l0.46,1.63l-1.41,-0.94l-1.41,0.94l0.46,-1.63l-1.33,-1.05l1.69,-0.07zM483.9,519.9l0.59,1.59l1.69,0.07l-1.33,1.05l0.46,1.63l-1.41,-0.94l-1.41,0.94l0.46,-1.63l-1.33,-1.05l1.69,-0.07zM488.6,520.2l0.59,1.59l1.69,0.07l-1.33,1.05l0.46,1.63l-1.41,-0.94l-1.41,0.94l0.46,-1.63l-1.33,-1.05l1.69,-0.07zM489.0,517.5l0.59,1.59l1.69,0.07l-1.33,1.05l0.46,1.63l-1.41,-0.94l-1.41,0.94l0.46,-1.63l-1.33,-1.05l1.69,-0.07zM495.2,513.4l0.59,1.59l1.69,0.07l-1.33,1.05l0.46,1.63l-1.41,-0.94l-1.41,0.94l0.46,-1.63l-1.33,-1.05l1.69,-0.07zM504.2,512.7l0.59,1.59l1.69,0.07l-1.33,1.05l0.46,1.63l-1.41,-0.94l-1.41,0.94l0.46,-1.63l-1.33,-1.05l1.69,-0.07zM604.9,518.2l0.59,1.59l1.69,0.07l-1.33,1.05l0.46,1.63l-1.41,-0.94l-1.41,0.94l0.46,-1.63l-1.33,-1.05l1.69,-0.07zM499.9,510.9l0.59,1.59l1.69,0.07l-1.33,1.05l0.46,1.63l-1.41,-0.94l-1.41,0.94l0.46,-1.63l-1.33,-1.05l1.69,-0.07zM497.2,504.6l0.59,1.59l1.69,0.07l-1.33,1.05l0.46,1.63l-1.41,-0.94l-1.41,0.94l0.46,-1.63l-1.33,-1.05l1.69,-0.07zM495.5,493.6l0.59,1.59l1.69,0.07l-1.33,1.05l0.46,1.63l-1.41,-0.94l-1.41,0.94l0.46,-1.63l-1.33,-1.05l1.69,-0.07zM491.2,469.8l0.59,1.59l1.69,0.07l-1.33,1.05l0.46,1.63l-1.41,-0.94l-1.41,0.94l0.46,-1.63l-1.33,-1.05l1.69,-0.07zM483.4,479.2l0.59,1.59l1.69,0.07l-1.33,1.05l0.46,1.63l-1.41,-0.94l-1.41,0.94l0.46,-1.63l-1.33,-1.05l1.69,-0.07zM585.9,506.6l0.59,1.59l1.69,0.07l-1.33,1.05l0.46,1.63l-1.41,-0.94l-1.41,0.94l0.46,-1.63l-1.33,-1.05l1.69,-0.07zM492.0,457.8l0.59,1.59l1.69,0.07l-1.33,1.05l0.46,1.63l-1.41,-0.94l-1.41,0.94l0.46,-1.63l-1.33,-1.05l1.69,-0.07zM611.7,486.2l0.59,1.59l1.69,0.07l-1.33,1.05l0.46,1.63l-1.41,-0.94l-1.41,0.94l0.46,-1.63l-1.33,-1.05l1.69,-0.07zM641.9,524.1l0.59,1.59l1.69,0.07l-1.33,1.05l0.46,1.63l-1.41,-0.94l-1.41,0.94l0.46,-1.63l-1.33,-1.05l1.69,-0.07zM590.3,451.4l0.59,1.59l1.69,0.07l-1.33,1.05l0.46,1.63l-1.41,-0.94l-1.41,0.94l0.46,-1.63l-1.33,-1.05l1.69,-0.07zM497.4,484.9l0.59,1.59l1.69,0.07l-1.33,1.05l0.46,1.63l-1.41,-0.94l-1.41,0.94l0.46,-1.63l-1.33,-1.05l1.69,-0.07zM498.5,475.7l0.59,1.59l1.69,0.07l-1.33,1.05l0.46,1.63l-1.41,-0.94l-1.41,0.94l0.46,-1.63l-1.33,-1.05l1.69,-0.07zM498.6,518.9l0.59,1.59l1.69,0.07l-1.33,1.05l0.46,1.63l-1.41,-0.94l-1.41,0.94l0.46,-1.63l-1.33,-1.05l1.69,-0.07zM502.9,492.4l0.59,1.59l1.69,0.07l-1.33,1.05l0.46,1.63l-1.41,-0.94l-1.41,0.94l0.46,-1.63l-1.33,-1.05l1.69,-0.07zM500.2,509.6l0.59,1.59l1.69,0.07l-1.33,1.05l0.46,1.63l-1.41,-0.94l-1.41,0.94l0.46,-1.63l-1.33,-1.05l1.69,-0.07zM502.6,488.1l0.59,1.59l1.69,0.07l-1.33,1.05l0.46,1.63l-1.41,-0.94l-1.41,0.94l0.46,-1.63l-1.33,-1.05l1.69,-0.07zM608.3,523.3l0.59,1.59l1.69,0.07l-1.33,1.05l0.46,1.63l-1.41,-0.94l-1.41,0.94l0.46,-1.63l-1.33,-1.05l1.69,-0.07zM499.8,523.8l0.59,1.59l1.69,0.07l-1.33,1.05l0.46,1.63l-1.41,-0.94l-1.41,0.94l0.46,-1.63l-1.33,-1.05l1.69,-0.07zM597.7,482.3l0.59,1.59l1.69,0.07l-1.33,1.05l0.46,1.63l-1.41,-0.94l-1.41,0.94l0.46,-1.63l-1.33,-1.05l1.69,-0.07zM592.0,487.5l0.59,1.59l1.69,0.07l-1.33,1.05l0.46,1.63l-1.41,-0.94l-1.41,0.94l0.46,-1.63l-1.33,-1.05l1.69,-0.07zM659.9,510.9l0.59,1.59l1.69,0.07l-1.33,1.05l0.46,1.63l-1.41,-0.94l-1.41,0.94l0.46,-1.63l-1.33,-1.05l1.69,-0.07zM583.8,481.8l0.59,1.59l1.69,0.07l-1.33,1.05l0.46,1.63l-1.41,-0.94l-1.41,0.94l0.46,-1.63l-1.33,-1.05l1.69,-0.07zM485.1,496.9l0.59,1.59l1.69,0.07l-1.33,1.05l0.46,1.63l-1.41,-0.94l-1.41,0.94l0.46,-1.63l-1.33,-1.05l1.69,-0.07zM500.2,511.0l0.59,1.59l1.69,0.07l-1.33,1.05l0.46,1.63l-1.41,-0.94l-1.41,0.94l0.46,-1.63l-1.33,-1.05l1.69,-0.07zM604.7,486.7l0.59,1.59l1.69,0.07l-1.33,1.05l0.46,1.63l-1.41,-0.94l-1.41,0.94l0.46,-1.63l-1.33,-1.05l1.69,-0.07zM501.1,503.3l0.59,1.59l1.69,0.07l-1.33,1.05l0.46,1.63l-1.41,-0.94l-1.41,0.94l0.46,-1.63l-1.33,-1.05l1.69,-0.07zM619.4,515.7l0.59,1.59l1.69,0.07l-1.33,1.05l0.46,1.63l-1.41,-0.94l-1.41,0.94l0.46,-1.63l-1.33,-1.05l1.69,-0.07zM484.7,499.2l0.59,1.59l1.69,0.07l-1.33,1.05l0.46,1.63l-1.41,-0.94l-1.41,0.94l0.46,-1.63l-1.33,-1.05l1.69,-0.07zM597.5,524.2l0.59,1.59l1.69,0.07l-1.33,1.05l0.46,1.63l-1.41,-0.94l-1.41,0.94l0.46,-1.63l-1.33,-1.05l1.69,-0.07zM504.3,464.1l0.59,1.59l1.69,0.07l-1.33,1.05l0.46,1.63l-1.41,-0.94l-1.41,0.94l0.46,-1.63l-1.33,-1.05l1.69,-0.07zM504.1,490.7l0.59,1.59l1.69,0.07l-1.33,1.05l0.46,1.63l-1.41,-0.94l-1.41,0.94l0.46,-1.63l-1.33,-1.05l1.69,-0.07zM608.7,523.7l0.59,1.59l1.69,0.07l-1.33,1.05l0.46,1.63l-1.41,-0.94l-1.41,0.94l0.46,-1.63l-1.33,-1.05l1.69,-0.07zM490.6,466.9l0.59,1.59l1.69,0.07l-1.33,1.05l0.46,1.63l-1.41,-0.94l-1.41,0.94l0.46,-1.63l-1.33,-1.05l1.69,-0.07zM584.3,498.6l0.59,1.59l1.69,0.07l-1.33,1.05l0.46,1.63l-1.41,-0.94l-1.41,0.94l0.46,-1.63l-1.33,-1.05l1.69,-0.07zM488.9,510.2l0.59,1.59l1.69,0.07l-1.33,1.05l0.46,1.63l-1.41,-0.94l-1.41,0.94l0.46,-1.63l-1.33,-1.05l1.69,-0.07zM503.3,489.7l0.59,1.59l1.69,0.07l-1.33,1.05l0.46,1.63l-1.41,-0.94l-1.41,0.94l0.46,-1.63l-1.33,-1.05l1.69,-0.07zM611.2,515.6l0.59,1.59l1.69,0.07l-1.33,1.05l0.46,1.63l-1.41,-0.94l-1.41,0.94l0.46,-1.63l-1.33,-1.05l1.69,-0.07zM586.1,469.4l0.59,1.59l1.69,0.07l-1.33,1.05l0.46,1.63l-1.41,-0.94l-1.41,0.94l0.46,-1.63l-1.33,-1.05l1.69,-0.07zM486.3,499.3l0.59,1.59l1.69,0.07l-1.33,1.05l0.46,1.63l-1.41,-0.94l-1.41,0.94l0.46,-1.63l-1.33,-1.05l1.69,-0.07zM594.1,518.6l0.59,1.59l1.69,0.07l-1.33,1.05l0.46,1.63l-1.41,-0.94l-1.41,0.94l0.46,-1.63l-1.33,-1.05l1.69,-0.07zM503.9,522.4l0.59,1.59l1.69,0.07l-1.33,1.05l0.46,1.63l-1.41,-0.94l-1.41,0.94l0.46,-1.63l-1.33,-1.05l1.69,-0.07zM495.7,462.4l0.59,1.59l1.69,0.07l-1.33,1.05l0.46,1.63l-1.41,-0.94l-1.41,0.94l0.46,-1.63l-1.33,-1.05l1.69,-0.07zM587.1,514.1l0.59,1.59l1.69,0.07l-1.33,1.05l0.46,1.63l-1.41,-0.94l-1.41,0.94l0.46,-1.63l-1.33,-1.05l1.69,-0.07zM502.5,489.9l0.59,1.59l1.69,0.07l-1.33,1.05l0.46,1.63l-1.41,-0.94l-1.41,0.94l0.46,-1.63l-1.33,-1.05l1.69,-0.07zM590.6,501.7l0.59,1.59l1.69,0.07l-1.33,1.05l0.46,1.63l-1.41,-0.94l-1.41,0.94l0.46,-1.63l-1.33,-1.05l1.69,-0.07zM502.1,498.4l0.59,1.59l1.69,0.07l-1.33,1.05l0.46,1.63l-1.41,-0.94l-1.41,0.94l0.46,-1.63l-1.33,-1.05l1.69,-0.07zM489.1,513.4l0.59,1.59l1.69,0.07l-1.33,1.05l0.46,1.63l-1.41,-0.94l-1.41,0.94l0.46,-1.63l-1.33,-1.05l1.69,-0.07zM500.0,492.0l0.59,1.59l1.69,0.07l-1.33,1.05l0.46,1.63l-1.41,-0.94l-1.41,0.94l0.46,-1.63l-1.33,-1.05l1.69,-0.07zM499.7,513.0l0.59,1.59l1.69,0.07l-1.33,1.05l0.46,1.63l-1.41,-0.94l-1.41,0.94l0.46,-1.63l-1.33,-1.05l1.69,-0.07zM491.3,501.3l0.59,1.59l1.69,0.07l-1.33,1.05l0.46,1.63l-1.41,-0.94l-1.41,0.94l0.46,-1.63l-1.33,-1.05l1.69,-0.07zM483.3,497.5l0.59,1.59l1.69,0.07l-1.33,1.05l0.46,1.63l-1.41,-0.94l-1.41,0.94l0.46,-1.63l-1.33,-1.05l1.69,-0.07zM501.6,521.6l0.59,1.59l1.69,0.07l-1.33,1.05l0.46,1.63l-1.41,-0.94l-1.41,0.94l0.46,-1.63l-1.33,-1.05l1.69,-0.07zM493.2,449.8l0.59,1.59l1.69,0.07l-1.33,1.05l0.46,1.63l-1.41,-0.94l-1.41,0.94l0.46,-1.63l-1.33,-1.05l1.69,-0.07zM497.5,505.8l0.59,1.59l1.69,0.07l-1.33,1.05l0.46,1.63l-1.41,-0.94l-1.41,0.94l0.46,-1.63l-1.33,-1.05l1.69,-0.07zM495.2,520.9l0.59,1.59l1.69,0.07l-1.33,1.05l0.46,1.63l-1.41,-0.94l-1.41,0.94l0.46,-1.63l-1.33,-1.05l1.69,-0.07zM496.1,514.5l0.59,1.59l1.69,0.07l-1.33,1.05l0.46,1.63l-1.41,-0.94l-1.41,0.94l0.46,-1.63l-1.33,-1.05l1.69,-0.07zM589.7,484.7l0.59,1.59l1.69,0.07l-1.33,1.05l0.46,1.63l-1.41,-0.94l-1.41,0.94l0.46,-1.63l-1.33,-1.05l1.69,-0.07zM504.5,515.6l0.59,1.59l1.69,0.07l-1.33,1.05l0.46,1.63l-1.41,-0.94l-1.41,0.94l0.46,-1.63l-1.33,-1.05l1.69,-0.07zM503.4,504.9l0.59,1.59l1.69,0.07l-1.33,1.05l0.46,1.63l-1.41,-0.94l-1.41,0.94l0.46,-1.63l-1.33,-1.05l1.69,-0.07zM495.0,451.6l0.59,1.59l1.69,0.07l-1.33,1.05l0.46,1.63l-1.41,-0.94l-1.41,0.94l0.46,-1.63l-1.33,-1.05l1.69,-0.07zM498.7,504.5l0.59,1.59l1.69,0.07l-1.33,1.05l0.46,1.63l-1.41,-0.94l-1.41,0.94l0.46,-1.63l-1.33,-1.05l1.69,-0.07zM497.4,476.6l0.59,1.59l1.69,0.07l-1.33,1.05l0.46,1.63l-1.41,-0.94l-1.41,0.94l0.46,-1.63l-1.33,-1.05l1.69,-0.07zM496.9,523.0l0.59,1.59l1.69,0.07l-1.33,1.05l0.46,1.63l-1.41,-0.94l-1.41,0.94l0.46,-1.63l-1.33,-1.05l1.69,-0.07zM504.6,452.7l0.59,1.59l1.69,0.07l-1.33,1.05l0.46,1.63l-1.41,-0.94l-1.41,0.94l0.46,-1.63l-1.33,-1.05l1.69,-0.07zM502.2,522.8l0.59,1.59l1.69,0.07l-1.33,1.05l0.46,1.63l-1.41,-0.94l-1.41,0.94l0.46,-1.63l-1.33,-1.05l1.69,-0.07zM690.2,523.0l0.59,1.59l1.69,0.07l-1.33,1.05l0.46,1.63l-1.41,-0.94l-1.41,0.94l0.46,-1.63l-1.33,-1.05l1.69,-0.07zM497.3,522.8l0.59,1.59l1.69,0.07l-1.33,1.05l0.46,1.63l-1.41,-0.94l-1.41,0.94l0.46,-1.63l-1.33,-1.05l1.69,-0.07zM481.2,481.5l0.59,1.59l1.69,0.07l-1.33,1.05l0.46,1.63l-1.41,-0.94l-1.41,0.94l0.46,-1.63l-1.33,-1.05l1.69,-0.07zM501.7,457.0l0.59,1.59l1.69,0.07l-1.33,1.05l0.46,1.63l-1.41,-0.94l-1.41,0.94l0.46,-1.63l-1.33,-1.05l1.69,-0.07zM495.7,467.1l0.59,1.59l1.69,0.07l-1.33,1.05l0.46,1.63l-1.41,-0.94l-1.41,0.94l0.46,-1.63l-1.33,-1.05l1.69,-0.07zM585.0,505.2l0.59,1.59l1.69,0.07l-1.33,1.05l0.46,1.63l-1.41,-0.94l-1.41,0.94l0.46,-1.63l-1.33,-1.05l1.69,-0.07zM715.1,512.4l0.59,1.59l1.69,0.07l-1.33,1.05l0.46,1.63l-1.41,-0.94l-1.41,0.94l0.46,-1.63l-1.33,-1.05l1.69,-0.07zM496.3,495.6l0.59,1.59l1.69,0.07l-1.33,1.05l0.46,1.63l-1.41,-0.94l-1.41,0.94l0.46,-1.63l-1.33,-1.05l1.69,-0.07zM489.1,522.8l0.59,1.59l1.69,0.07l-1.33,1.05l0.46,1.63l-1.41,-0.94l-1.41,0.94l0.46,-1.63l-1.33,-1.05l1.69,-0.07zM582.9,520.7l0.59,1.59l1.69,0.07l-1.33,1.05l0.46,1.63l-1.41,-0.94l-1.41,0.94l0.46,-1.63l-1.33,-1.05l1.69,-0.07zM479.9,512.8l0.59,1.59l1.69,0.07l-1.33,1.05l0.46,1.63l-1.41,-0.94l-1.41,0.94l0.46,-1.63l-1.33,-1.05l1.69,-0.07zM604.6,499.9l0.59,1.59l1.69,0.07l-1.33,1.05l0.46,1.63l-1.41,-0.94l-1.41,0.94l0.46,-1.63l-1.33,-1.05l1.69,-0.07zM491.2,523.4l0.59,1.59l1.69,0.07l-1.33,1.05l0.46,1.63l-1.41,-0.94l-1.41,0.94l0.46,-1.63l-1.33,-1.05l1.69,-0.07zM504.6,516.5l0.59,1.59l1.69,0.07l-1.33,1.05l0.46,1.63l-1.41,-0.94l-1.41,0.94l0.46,-1.63l-1.33,-1.05l1.69,-0.07zM496.0,510.8l0.59,1.59l1.69,0.07l-1.33,1.05l0.46,1.63l-1.41,-0.94l-1.41,0.94l0.46,-1.63l-1.33,-1.05l1.69,-0.07zM494.4,520.1l0.59,1.59l1.69,0.07l-1.33,1.05l0.46,1.63l-1.41,-0.94l-1.41,0.94l0.46,-1.63l-1.33,-1.05l1.69,-0.07zM593.8,524.5l0.59,1.59l1.69,0.07l-1.33,1.05l0.46,1.63l-1.41,-0.94l-1.41,0.94l0.46,-1.63l-1.33,-1.05l1.69,-0.07zM598.0,489.3l0.59,1.59l1.69,0.07l-1.33,1.05l0.46,1.63l-1.41,-0.94l-1.41,0.94l0.46,-1.63l-1.33,-1.05l1.69,-0.07zM500.9,511.9l0.59,1.59l1.69,0.07l-1.33,1.05l0.46,1.63l-1.41,-0.94l-1.41,0.94l0.46,-1.63l-1.33,-1.05l1.69,-0.07zM497.4,514.9l0.59,1.59l1.69,0.07l-1.33,1.05l0.46,1.63l-1.41,-0.94l-1.41,0.94l0.46,-1.63l-1.33,-1.05l1.69,-0.07zM495.5,518.7l0.59,1.59l1.69,0.07l-1.33,1.05l0.46,1.63l-1.41,-0.94l-1.41,0.94l0.46,-1.63l-1.33,-1.05l1.69,-0.07zM504.4,487.1l0.59,1.59l1.69,0.07l-1.33,1.05l0.46,1.63l-1.41,-0.94l-1.41,0.94l0.46,-1.63l-1.33,-1.05l1.69,-0.07zM486.3,485.9l0.59,1.59l1.69,0.07l-1.33,1.05l0.46,1.63l-1.41,-0.94l-1.41,0.94l0.46,-1.63l-1.33,-1.05l1.69,-0.07zM493.4,497.4l0.59,1.59l1.69,0.07l-1.33,1.05l0.46,1.63l-1.41,-0.94l-1.41,0.94l0.46,-1.63l-1.33,-1.05l1.69,-0.07zM596.4,477.5l0.59,1.59l1.69,0.07l-1.33,1.05l0.46,1.63l-1.41,-0.94l-1.41,0.94l0.46,-1.63l-1.33,-1.05l1.69,-0.07zM496.8,477.6l0.59,1.59l1.69,0.07l-1.33,1.05l0.46,1.63l-1.41,-0.94l-1.41,0.94l0.46,-1.63l-1.33,-1.05l1.69,-0.07zM500.1,520.1l0.59,1.59l1.69,0.07l-1.33,1.05l0.46,1.63l-1.41,-0.94l-1.41,0.94l0.46,-1.63l-1.33,-1.05l1.69,-0.07zM489.3,524.1l0.59,1.59l1.69,0.07l-1.33,1.05l0.46,1.63l-1.41,-0.94l-1.41,0.94l0.46,-1.63l-1.33,-1.05l1.69,-0.07zM492.8,455.8l0.59,1.59l1.69,0.07l-1.33,1.05l0.46,1.63l-1.41,-0.94l-1.41,0.94l0.46,-1.63l-1.33,-1.05l1.69,-0.07zM593.5,457.9l0.59,1.59l1.69,0.07l-1.33,1.05l0.46,1.63l-1.41,-0.94l-1.41,0.94l0.46,-1.63l-1.33,-1.05l1.69,-0.07zM487.0,498.3l0.59,1.59l1.69,0.07l-1.33,1.05l0.46,1.63l-1.41,-0.94l-1.41,0.94l0.46,-1.63l-1.33,-1.05l1.69,-0.07zM503.4,507.1l0.59,1.59l1.69,0.07l-1.33,1.05l0.46,1.63l-1.41,-0.94l-1.41,0.94l0.46,-1.63l-1.33,-1.05l1.69,-0.07zM488.8,515.8l0.59,1.59l1.69,0.07l-1.33,1.05l0.46,1.63l-1.41,-0.94l-1.41,0.94l0.46,-1.63l-1.33,-1.05l1.69,-0.07zM493.8,503.8l0.59,1.59l1.69,0.07l-1.33,1.05l0.46,1.63l-1.41,-0.94l-1.41,0.94l0.46,-1.63l-1.33,-1.05l1.69,-0.07zM498.0,484.3l0.59,1.59l1.69,0.07l-1.33,1.05l0.46,1.63l-1.41,-0.94l-1.41,0.94l0.46,-1.63l-1.33,-1.05l1.69,-0.07zM500.1,481.1l0.59,1.59l1.69,0.07l-1.33,1.05l0.46,1.63l-1.41,-0.94l-1.41,0.94l0.46,-1.63l-1.33,-1.05l1.69,-0.07zM593.0,518.7l0.59,1.59l1.69,0.07l-1.33,1.05l0.46,1.63l-1.41,-0.94l-1.41,0.94l0.46,-1.63l-1.33,-1.05l1.69,-0.07zM481.0,522.6l0.59,1.59l1.69,0.07l-1.33,1.05l0.46,1.63l-1.41,-0.94l-1.41,0.94l0.46,-1.63l-1.33,-1.05l1.69,-0.07zM500.1,523.8l0.59,1.59l1.69,0.07l-1.33,1.05l0.46,1.63l-1.41,-0.94l-1.41,0.94l0.46,-1.63l-1.33,-1.05l1.69,-0.07zM492.0,501.0l0.59,1.59l1.69,0.07l-1.33,1.05l0.46,1.63l-1.41,-0.94l-1.41,0.94l0.46,-1.63l-1.33,-1.05l1.69,-0.07zM586.6,467.8l0.59,1.59l1.69,0.07l-1.33,1.05l0.46,1.63l-1.41,-0.94l-1.41,0.94l0.46,-1.63l-1.33,-1.05l1.69,-0.07zM497.1,520.0l0.59,1.59l1.69,0.07l-1.33,1.05l0.46,1.63l-1.41,-0.94l-1.41,0.94l0.46,-1.63l-1.33,-1.05l1.69,-0.07zM499.1,514.2l0.59,1.59l1.69,0.07l-1.33,1.05l0.46,1.63l-1.41,-0.94l-1.41,0.94l0.46,-1.63l-1.33,-1.05l1.69,-0.07zM488.3,524.3l0.59,1.59l1.69,0.07l-1.33,1.05l0.46,1.63l-1.41,-0.94l-1.41,0.94l0.46,-1.63l-1.33,-1.05l1.69,-0.07zM492.0,522.3l0.59,1.59l1.69,0.07l-1.33,1.05l0.46,1.63l-1.41,-0.94l-1.41,0.94l0.46,-1.63l-1.33,-1.05l1.69,-0.07zM485.9,511.2l0.59,1.59l1.69,0.07l-1.33,1.05l0.46,1.63l-1.41,-0.94l-1.41,0.94l0.46,-1.63l-1.33,-1.05l1.69,-0.07zM588.7,508.5l0.59,1.59l1.69,0.07l-1.33,1.05l0.46,1.63l-1.41,-0.94l-1.41,0.94l0.46,-1.63l-1.33,-1.05l1.69,-0.07zM504.3,480.8l0.59,1.59l1.69,0.07l-1.33,1.05l0.46,1.63l-1.41,-0.94l-1.41,0.94l0.46,-1.63l-1.33,-1.05l1.69,-0.07zM501.7,520.5l0.59,1.59l1.69,0.07l-1.33,1.05l0.46,1.63l-1.41,-0.94l-1.41,0.94l0.46,-1.63l-1.33,-1.05l1.69,-0.07zM501.6,518.2l0.59,1.59l1.69,0.07l-1.33,1.05l0.46,1.63l-1.41,-0.94l-1.41,0.94l0.46,-1.63l-1.33,-1.05l1.69,-0.07zM501.6,521.7l0.59,1.59l1.69,0.07l-1.33,1.05l0.46,1.63l-1.41,-0.94l-1.41,0.94l0.46,-1.63l-1.33,-1.05l1.69,-0.07zM596.4,516.9l0.59,1.59l1.69,0.07l-1.33,1.05l0.46,1.63l-1.41,-0.94l-1.41,0.94l0.46,-1.63l-1.33,-1.05l1.69,-0.07zM605.2,461.2l0.59,1.59l1.69,0.07l-1.33,1.05l0.46,1.63l-1.41,-0.94l-1.41,0.94l0.46,-1.63l-1.33,-1.05l1.69,-0.07zM493.4,524.6l0.59,1.59l1.69,0.07l-1.33,1.05l0.46,1.63l-1.41,-0.94l-1.41,0.94l0.46,-1.63l-1.33,-1.05l1.69,-0.07zM589.5,522.3l0.59,1.59l1.69,0.07l-1.33,1.05l0.46,1.63l-1.41,-0.94l-1.41,0.94l0.46,-1.63l-1.33,-1.05l1.69,-0.07zM633.9,520.2l0.59,1.59l1.69,0.07l-1.33,1.05l0.46,1.63l-1.41,-0.94l-1.41,0.94l0.46,-1.63l-1.33,-1.05l1.69,-0.07zM591.5,515.6l0.59,1.59l1.69,0.07l-1.33,1.05l0.46,1.63l-1.41,-0.94l-1.41,0.94l0.46,-1.63l-1.33,-1.05l1.69,-0.07zM609.3,504.8l0.59,1.59l1.69,0.07l-1.33,1.05l0.46,1.63l-1.41,-0.94l-1.41,0.94l0.46,-1.63l-1.33,-1.05l1.69,-0.07zM592.6,509.8l0.59,1.59l1.69,0.07l-1.33,1.05l0.46,1.63l-1.41,-0.94l-1.41,0.94l0.46,-1.63l-1.33,-1.05l1.69,-0.07zM649.3,523.3l0.59,1.59l1.69,0.07l-1.33,1.05l0.46,1.63l-1.41,-0.94l-1.41,0.94l0.46,-1.63l-1.33,-1.05l1.69,-0.07zM624.8,508.3l0.59,1.59l1.69,0.07l-1.33,1.05l0.46,1.63l-1.41,-0.94l-1.41,0.94l0.46,-1.63l-1.33,-1.05l1.69,-0.07zM607.3,497.9l0.59,1.59l1.69,0.07l-1.33,1.05l0.46,1.63l-1.41,-0.94l-1.41,0.94l0.46,-1.63l-1.33,-1.05l1.69,-0.07zM640.9,514.1l0.59,1.59l1.69,0.07l-1.33,1.05l0.46,1.63l-1.41,-0.94l-1.41,0.94l0.46,-1.63l-1.33,-1.05l1.69,-0.07zM583.1,480.7l0.59,1.59l1.69,0.07l-1.33,1.05l0.46,1.63l-1.41,-0.94l-1.41,0.94l0.46,-1.63l-1.33,-1.05l1.69,-0.07zM644.3,513.4l0.59,1.59l1.69,0.07l-1.33,1.05l0.46,1.63l-1.41,-0.94l-1.41,0.94l0.46,-1.63l-1.33,-1.05l1.69,-0.07zM617.0,511.7l0.59,1.59l1.69,0.07l-1.33,1.05l0.46,1.63l-1.41,-0.94l-1.41,0.94l0.46,-1.63l-1.33,-1.05l1.69,-0.07zM613.7,506.5l0.59,1.59l1.69,0.07l-1.33,1.05l0.46,1.63l-1.41,-0.94l-1.41,0.94l0.46,-1.63l-1.33,-1.05l1.69,-0.07zM606.5,494.7l0.59,1.59l1.69,0.07l-1.33,1.05l0.46,1.63l-1.41,-0.94l-1.41,0.94l0.46,-1.63l-1.33,-1.05l1.69,-0.07zM747.1,517.4l0.59,1.59l1.69,0.07l-1.33,1.05l0.46,1.63l-1.41,-0.94l-1.41,0.94l0.46,-1.63l-1.33,-1.05l1.69,-0.07zM647.3,521.6l0.59,1.59l1.69,0.07l-1.33,1.05l0.46,1.63l-1.41,-0.94l-1.41,0.94l0.46,-1.63l-1.33,-1.05l1.69,-0.07zM600.8,506.5l0.59,1.59l1.69,0.07l-1.33,1.05l0.46,1.63l-1.41,-0.94l-1.41,0.94l0.46,-1.63l-1.33,-1.05l1.69,-0.07zM610.8,517.6l0.59,1.59l1.69,0.07l-1.33,1.05l0.46,1.63l-1.41,-0.94l-1.41,0.94l0.46,-1.63l-1.33,-1.05l1.69,-0.07zM630.6,512.4l0.59,1.59l1.69,0.07l-1.33,1.05l0.46,1.63l-1.41,-0.94l-1.41,0.94l0.46,-1.63l-1.33,-1.05l1.69,-0.07zM582.6,510.2l0.59,1.59l1.69,0.07l-1.33,1.05l0.46,1.63l-1.41,-0.94l-1.41,0.94l0.46,-1.63l-1.33,-1.05l1.69,-0.07zM607.5,512.1l0.59,1.59l1.69,0.07l-1.33,1.05l0.46,1.63l-1.41,-0.94l-1.41,0.94l0.46,-1.63l-1.33,-1.05l1.69,-0.07zM617.4,510.0l0.59,1.59l1.69,0.07l-1.33,1.05l0.46,1.63l-1.41,-0.94l-1.41,0.94l0.46,-1.63l-1.33,-1.05l1.69,-0.07zM601.2,483.6l0.59,1.59l1.69,0.07l-1.33,1.05l0.46,1.63l-1.41,-0.94l-1.41,0.94l0.46,-1.63l-1.33,-1.05l1.69,-0.07zM698.0,518.2l0.59,1.59l1.69,0.07l-1.33,1.05l0.46,1.63l-1.41,-0.94l-1.41,0.94l0.46,-1.63l-1.33,-1.05l1.69,-0.07zM618.7,523.6l0.59,1.59l1.69,0.07l-1.33,1.05l0.46,1.63l-1.41,-0.94l-1.41,0.94l0.46,-1.63l-1.33,-1.05l1.69,-0.07zM619.9,521.1l0.59,1.59l1.69,0.07l-1.33,1.05l0.46,1.63l-1.41,-0.94l-1.41,0.94l0.46,-1.63l-1.33,-1.05l1.69,-0.07zM601.4,517.8l0.59,1.59l1.69,0.07l-1.33,1.05l0.46,1.63l-1.41,-0.94l-1.41,0.94l0.46,-1.63l-1.33,-1.05l1.69,-0.07zM602.7,495.5l0.59,1.59l1.69,0.07l-1.33,1.05l0.46,1.63l-1.41,-0.94l-1.41,0.94l0.46,-1.63l-1.33,-1.05l1.69,-0.07zM595.0,510.7l0.59,1.59l1.69,0.07l-1.33,1.05l0.46,1.63l-1.41,-0.94l-1.41,0.94l0.46,-1.63l-1.33,-1.05l1.69,-0.07zM601.1,446.4l0.59,1.59l1.69,0.07l-1.33,1.05l0.46,1.63l-1.41,-0.94l-1.41,0.94l0.46,-1.63l-1.33,-1.05l1.69,-0.07zM628.5,516.2l0.59,1.59l1.69,0.07l-1.33,1.05l0.46,1.63l-1.41,-0.94l-1.41,0.94l0.46,-1.63l-1.33,-1.05l1.69,-0.07zM604.2,485.6l0.59,1.59l1.69,0.07l-1.33,1.05l0.46,1.63l-1.41,-0.94l-1.41,0.94l0.46,-1.63l-1.33,-1.05l1.69,-0.07zM604.1,483.4l0.59,1.59l1.69,0.07l-1.33,1.05l0.46,1.63l-1.41,-0.94l-1.41,0.94l0.46,-1.63l-1.33,-1.05l1.69,-0.07zM599.9,517.5l0.59,1.59l1.69,0.07l-1.33,1.05l0.46,1.63l-1.41,-0.94l-1.41,0.94l0.46,-1.63l-1.33,-1.05l1.69,-0.07zM602.5,512.6l0.59,1.59l1.69,0.07l-1.33,1.05l0.46,1.63l-1.41,-0.94l-1.41,0.94l0.46,-1.63l-1.33,-1.05l1.69,-0.07zM600.7,519.3l0.59,1.59l1.69,0.07l-1.33,1.05l0.46,1.63l-1.41,-0.94l-1.41,0.94l0.46,-1.63l-1.33,-1.05l1.69,-0.07zM582.9,507.4l0.59,1.59l1.69,0.07l-1.33,1.05l0.46,1.63l-1.41,-0.94l-1.41,0.94l0.46,-1.63l-1.33,-1.05l1.69,-0.07zM610.1,507.9l0.59,1.59l1.69,0.07l-1.33,1.05l0.46,1.63l-1.41,-0.94l-1.41,0.94l0.46,-1.63l-1.33,-1.05l1.69,-0.07zM596.1,506.8l0.59,1.59l1.69,0.07l-1.33,1.05l0.46,1.63l-1.41,-0.94l-1.41,0.94l0.46,-1.63l-1.33,-1.05l1.69,-0.07zM600.7,474.3l0.59,1.59l1.69,0.07l-1.33,1.05l0.46,1.63l-1.41,-0.94l-1.41,0.94l0.46,-1.63l-1.33,-1.05l1.69,-0.07zM602.4,512.4l0.59,1.59l1.69,0.07l-1.33,1.05l0.46,1.63l-1.41,-0.94l-1.41,0.94l0.46,-1.63l-1.33,-1.05l1.69,-0.07zM585.4,523.3l0.59,1.59l1.69,0.07l-1.33,1.05l0.46,1.63l-1.41,-0.94l-1.41,0.94l0.46,-1.63l-1.33,-1.05l1.69,-0.07zM583.9,508.8l0.59,1.59l1.69,0.07l-1.33,1.05l0.46,1.63l-1.41,-0.94l-1.41,0.94l0.46,-1.63l-1.33,-1.05l1.69,-0.07zM587.0,468.0l0.59,1.59l1.69,0.07l-1.33,1.05l0.46,1.63l-1.41,-0.94l-1.41,0.94l0.46,-1.63l-1.33,-1.05l1.69,-0.07zM583.8,519.0l0.59,1.59l1.69,0.07l-1.33,1.05l0.46,1.63l-1.41,-0.94l-1.41,0.94l0.46,-1.63l-1.33,-1.05l1.69,-0.07zM606.2,513.9l0.59,1.59l1.69,0.07l-1.33,1.05l0.46,1.63l-1.41,-0.94l-1.41,0.94l0.46,-1.63l-1.33,-1.05l1.69,-0.07zM635.1,518.5l0.59,1.59l1.69,0.07l-1.33,1.05l0.46,1.63l-1.41,-0.94l-1.41,0.94l0.46,-1.63l-1.33,-1.05l1.69,-0.07zM642.3,521.8l0.59,1.59l1.69,0.07l-1.33,1.05l0.46,1.63l-1.41,-0.94l-1.41,0.94l0.46,-1.63l-1.33,-1.05l1.69,-0.07zM591.7,497.3l0.59,1.59l1.69,0.07l-1.33,1.05l0.46,1.63l-1.41,-0.94l-1.41,0.94l0.46,-1.63l-1.33,-1.05l1.69,-0.07zM585.6,522.2l0.59,1.59l1.69,0.07l-1.33,1.05l0.46,1.63l-1.41,-0.94l-1.41,0.94l0.46,-1.63l-1.33,-1.05l1.69,-0.07zM590.4,507.6l0.59,1.59l1.69,0.07l-1.33,1.05l0.46,1.63l-1.41,-0.94l-1.41,0.94l0.46,-1.63l-1.33,-1.05l1.69,-0.07zM592.1,509.4l0.59,1.59l1.69,0.07l-1.33,1.05l0.46,1.63l-1.41,-0.94l-1.41,0.94l0.46,-1.63l-1.33,-1.05l1.69,-0.07zM606.7,511.2l0.59,1.59l1.69,0.07l-1.33,1.05l0.46,1.63l-1.41,-0.94l-1.41,0.94l0.46,-1.63l-1.33,-1.05l1.69,-0.07zM632.0,518.8l0.59,1.59l1.69,0.07l-1.33,1.05l0.46,1.63l-1.41,-0.94l-1.41,0.94l0.46,-1.63l-1.33,-1.05l1.69,-0.07zM616.3,520.9l0.59,1.59l1.69,0.07l-1.33,1.05l0.46,1.63l-1.41,-0.94l-1.41,0.94l0.46,-1.63l-1.33,-1.05l1.69,-0.07zM587.8,509.8l0.59,1.59l1.69,0.07l-1.33,1.05l0.46,1.63l-1.41,-0.94l-1.41,0.94l0.46,-1.63l-1.33,-1.05l1.69,-0.07zM586.8,486.9l0.59,1.59l1.69,0.07l-1.33,1.05l0.46,1.63l-1.41,-0.94l-1.41,0.94l0.46,-1.63l-1.33,-1.05l1.69,-0.07zM593.5,457.7l0.59,1.59l1.69,0.07l-1.33,1.05l0.46,1.63l-1.41,-0.94l-1.41,0.94l0.46,-1.63l-1.33,-1.05l1.69,-0.07zM608.0,488.4l0.59,1.59l1.69,0.07l-1.33,1.05l0.46,1.63l-1.41,-0.94l-1.41,0.94l0.46,-1.63l-1.33,-1.05l1.69,-0.07zM586.4,506.5l0.59,1.59l1.69,0.07l-1.33,1.05l0.46,1.63l-1.41,-0.94l-1.41,0.94l0.46,-1.63l-1.33,-1.05l1.69,-0.07zM586.6,482.3l0.59,1.59l1.69,0.07l-1.33,1.05l0.46,1.63l-1.41,-0.94l-1.41,0.94l0.46,-1.63l-1.33,-1.05l1.69,-0.07zM585.4,514.8l0.59,1.59l1.69,0.07l-1.33,1.05l0.46,1.63l-1.41,-0.94l-1.41,0.94l0.46,-1.63l-1.33,-1.05l1.69,-0.07zM593.8,509.0l0.59,1.59l1.69,0.07l-1.33,1.05l0.46,1.63l-1.41,-0.94l-1.41,0.94l0.46,-1.63l-1.33,-1.05l1.69,-0.07zM591.3,470.1l0.59,1.59l1.69,0.07l-1.33,1.05l0.46,1.63l-1.41,-0.94l-1.41,0.94l0.46,-1.63l-1.33,-1.05l1.69,-0.07zM584.3,506.6l0.59,1.59l1.69,0.07l-1.33,1.05l0.46,1.63l-1.41,-0.94l-1.41,0.94l0.46,-1.63l-1.33,-1.05l1.69,-0.07zM600.8,492.2l0.59,1.59l1.69,0.07l-1.33,1.05l0.46,1.63l-1.41,-0.94l-1.41,0.94l0.46,-1.63l-1.33,-1.05l1.69,-0.07zM673.0,519.7l0.59,1.59l1.69,0.07l-1.33,1.05l0.46,1.63l-1.41,-0.94l-1.41,0.94l0.46,-1.63l-1.33,-1.05l1.69,-0.07zM604.5,524.6l0.59,1.59l1.69,0.07l-1.33,1.05l0.46,1.63l-1.41,-0.94l-1.41,0.94l0.46,-1.63l-1.33,-1.05l1.69,-0.07zM589.4,513.5l0.59,1.59l1.69,0.07l-1.33,1.05l0.46,1.63l-1.41,-0.94l-1.41,0.94l0.46,-1.63l-1.33,-1.05l1.69,-0.07zM590.2,487.5l0.59,1.59l1.69,0.07l-1.33,1.05l0.46,1.63l-1.41,-0.94l-1.41,0.94l0.46,-1.63l-1.33,-1.05l1.69,-0.07zM679.7,516.4l0.59,1.59l1.69,0.07l-1.33,1.05l0.46,1.63l-1.41,-0.94l-1.41,0.94l0.46,-1.63l-1.33,-1.05l1.69,-0.07zM591.6,489.2l0.59,1.59l1.69,0.07l-1.33,1.05l0.46,1.63l-1.41,-0.94l-1.41,0.94l0.46,-1.63l-1.33,-1.05l1.69,-0.07zM586.6,472.2l0.59,1.59l1.69,0.07l-1.33,1.05l0.46,1.63l-1.41,-0.94l-1.41,0.94l0.46,-1.63l-1.33,-1.05l1.69,-0.07zM608.2,524.1l0.59,1.59l1.69,0.07l-1.33,1.05l0.46,1.63l-1.41,-0.94l-1.41,0.94l0.46,-1.63l-1.33,-1.05l1.69,-0.07zM610.0,475.4l0.59,1.59l1.69,0.07l-1.33,1.05l0.46,1.63l-1.41,-0.94l-1.41,0.94l0.46,-1.63l-1.33,-1.05l1.69,-0.07zM628.0,517.0l0.59,1.59l1.69,0.07l-1.33,1.05l0.46,1.63l-1.41,-0.94l-1.41,0.94l0.46,-1.63l-1.33,-1.05l1.69,-0.07zM633.9,514.6l0.59,1.59l1.69,0.07l-1.33,1.05l0.46,1.63l-1.41,-0.94l-1.41,0.94l0.46,-1.63l-1.33,-1.05l1.69,-0.07zM614.4,496.7l0.59,1.59l1.69,0.07l-1.33,1.05l0.46,1.63l-1.41,-0.94l-1.41,0.94l0.46,-1.63l-1.33,-1.05l1.69,-0.07zM602.9,508.4l0.59,1.59l1.69,0.07l-1.33,1.05l0.46,1.63l-1.41,-0.94l-1.41,0.94l0.46,-1.63l-1.33,-1.05l1.69,-0.07zM585.6,452.4l0.59,1.59l1.69,0.07l-1.33,1.05l0.46,1.63l-1.41,-0.94l-1.41,0.94l0.46,-1.63l-1.33,-1.05l1.69,-0.07zM595.5,508.7l0.59,1.59l1.69,0.07l-1.33,1.05l0.46,1.63l-1.41,-0.94l-1.41,0.94l0.46,-1.63l-1.33,-1.05l1.69,-0.07zM599.1,520.9l0.59,1.59l1.69,0.07l-1.33,1.05l0.46,1.63l-1.41,-0.94l-1.41,0.94l0.46,-1.63l-1.33,-1.05l1.69,-0.07zM657.7,515.8l0.59,1.59l1.69,0.07l-1.33,1.05l0.46,1.63l-1.41,-0.94l-1.41,0.94l0.46,-1.63l-1.33,-1.05l1.69,-0.07zM595.4,512.4l0.59,1.59l1.69,0.07l-1.33,1.05l0.46,1.63l-1.41,-0.94l-1.41,0.94l0.46,-1.63l-1.33,-1.05l1.69,-0.07zM590.3,481.7l0.59,1.59l1.69,0.07l-1.33,1.05l0.46,1.63l-1.41,-0.94l-1.41,0.94l0.46,-1.63l-1.33,-1.05l1.69,-0.07zM627.2,518.4l0.59,1.59l1.69,0.07l-1.33,1.05l0.46,1.63l-1.41,-0.94l-1.41,0.94l0.46,-1.63l-1.33,-1.05l1.69,-0.07zM613.6,493.8l0.59,1.59l1.69,0.07l-1.33,1.05l0.46,1.63l-1.41,-0.94l-1.41,0.94l0.46,-1.63l-1.33,-1.05l1.69,-0.07zM591.9,511.3l0.59,1.59l1.69,0.07l-1.33,1.05l0.46,1.63l-1.41,-0.94l-1.41,0.94l0.46,-1.63l-1.33,-1.05l1.69,-0.07zM672.1,513.3l0.59,1.59l1.69,0.07l-1.33,1.05l0.46,1.63l-1.41,-0.94l-1.41,0.94l0.46,-1.63l-1.33,-1.05l1.69,-0.07zM642.0,511.0l0.59,1.59l1.69,0.07l-1.33,1.05l0.46,1.63l-1.41,-0.94l-1.41,0.94l0.46,-1.63l-1.33,-1.05l1.69,-0.07zM620.7,507.4l0.59,1.59l1.69,0.07l-1.33,1.05l0.46,1.63l-1.41,-0.94l-1.41,0.94l0.46,-1.63l-1.33,-1.05l1.69,-0.07zM700.4,512.4l0.59,1.59l1.69,0.07l-1.33,1.05l0.46,1.63l-1.41,-0.94l-1.41,0.94l0.46,-1.63l-1.33,-1.05l1.69,-0.07zM583.2,513.8l0.59,1.59l1.69,0.07l-1.33,1.05l0.46,1.63l-1.41,-0.94l-1.41,0.94l0.46,-1.63l-1.33,-1.05l1.69,-0.07zM632.6,522.1l0.59,1.59l1.69,0.07l-1.33,1.05l0.46,1.63l-1.41,-0.94l-1.41,0.94l0.46,-1.63l-1.33,-1.05l1.69,-0.07zM655.0,399.0l0.59,1.59l1.69,0.07l-1.33,1.05l0.46,1.63l-1.41,-0.94l-1.41,0.94l0.46,-1.63l-1.33,-1.05l1.69,-0.07zM697.0,399.0l0.59,1.59l1.69,0.07l-1.33,1.05l0.46,1.63l-1.41,-0.94l-1.41,0.94l0.46,-1.63l-1.33,-1.05l1.69,-0.07zM626.1,421.2l0.59,1.59l1.69,0.07l-1.33,1.05l0.46,1.63l-1.41,-0.94l-1.41,0.94l0.46,-1.63l-1.33,-1.05l1.69,-0.07zM681.1,421.2l0.59,1.59l1.69,0.07l-1.33,1.05l0.46,1.63l-1.41,-0.94l-1.41,0.94l0.46,-1.63l-1.33,-1.05l1.69,-0.07zM616.4,429.2l0.59,1.59l1.69,0.07l-1.33,1.05l0.46,1.63l-1.41,-0.94l-1.41,0.94l0.46,-1.63l-1.33,-1.05l1.69,-0.07zM616.4,431.5l0.59,1.59l1.69,0.07l-1.33,1.05l0.46,1.63l-1.41,-0.94l-1.41,0.94l0.46,-1.63l-1.33,-1.05l1.69,-0.07zM633.4,437.6l0.59,1.59l1.69,0.07l-1.33,1.05l0.46,1.63l-1.41,-0.94l-1.41,0.94l0.46,-1.63l-1.33,-1.05l1.69,-0.07zM650.0,443.3l0.59,1.59l1.69,0.07l-1.33,1.05l0.46,1.63l-1.41,-0.94l-1.41,0.94l0.46,-1.63l-1.33,-1.05l1.69,-0.07zM691.4,451.2l0.59,1.59l1.69,0.07l-1.33,1.05l0.46,1.63l-1.41,-0.94l-1.41,0.94l0.46,-1.63l-1.33,-1.05l1.69,-0.07zM708.9,457.4l0.59,1.59l1.69,0.07l-1.33,1.05l0.46,1.63l-1.41,-0.94l-1.41,0.94l0.46,-1.63l-1.33,-1.05l1.69,-0.07zM761.4,459.9l0.59,1.59l1.69,0.07l-1.33,1.05l0.46,1.63l-1.41,-0.94l-1.41,0.94l0.46,-1.63l-1.33,-1.05l1.69,-0.07zM681.1,465.6l0.59,1.59l1.69,0.07l-1.33,1.05l0.46,1.63l-1.41,-0.94l-1.41,0.94l0.46,-1.63l-1.33,-1.05l1.69,-0.07zM638.0,466.7l0.59,1.59l1.69,0.07l-1.33,1.05l0.46,1.63l-1.41,-0.94l-1.41,0.94l0.46,-1.63l-1.33,-1.05l1.69,-0.07zM652.7,479.6l0.59,1.59l1.69,0.07l-1.33,1.05l0.46,1.63l-1.41,-0.94l-1.41,0.94l0.46,-1.63l-1.33,-1.05l1.69,-0.07zM677.3,479.6l0.59,1.59l1.69,0.07l-1.33,1.05l0.46,1.63l-1.41,-0.94l-1.41,0.94l0.46,-1.63l-1.33,-1.05l1.69,-0.07zM685.7,480.1l0.59,1.59l1.69,0.07l-1.33,1.05l0.46,1.63l-1.41,-0.94l-1.41,0.94l0.46,-1.63l-1.33,-1.05l1.69,-0.07zM670.9,481.2l0.59,1.59l1.69,0.07l-1.33,1.05l0.46,1.63l-1.41,-0.94l-1.41,0.94l0.46,-1.63l-1.33,-1.05l1.69,-0.07zM763.4,484.2l0.59,1.59l1.69,0.07l-1.33,1.05l0.46,1.63l-1.41,-0.94l-1.41,0.94l0.46,-1.63l-1.33,-1.05l1.69,-0.07zM745.2,488.7l0.59,1.59l1.69,0.07l-1.33,1.05l0.46,1.63l-1.41,-0.94l-1.41,0.94l0.46,-1.63l-1.33,-1.05l1.69,-0.07zM681.1,488.3l0.59,1.59l1.69,0.07l-1.33,1.05l0.46,1.63l-1.41,-0.94l-1.41,0.94l0.46,-1.63l-1.33,-1.05l1.69,-0.07zM664.5,489.9l0.59,1.59l1.69,0.07l-1.33,1.05l0.46,1.63l-1.41,-0.94l-1.41,0.94l0.46,-1.63l-1.33,-1.05l1.69,-0.07zM695.9,491.5l0.59,1.59l1.69,0.07l-1.33,1.05l0.46,1.63l-1.41,-0.94l-1.41,0.94l0.46,-1.63l-1.33,-1.05l1.69,-0.07zM726.6,493.7l0.59,1.59l1.69,0.07l-1.33,1.05l0.46,1.63l-1.41,-0.94l-1.41,0.94l0.46,-1.63l-1.33,-1.05l1.69,-0.07zM703.4,496.7l0.59,1.59l1.69,0.07l-1.33,1.05l0.46,1.63l-1.41,-0.94l-1.41,0.94l0.46,-1.63l-1.33,-1.05l1.69,-0.07zM734.1,497.1l0.59,1.59l1.69,0.07l-1.33,1.05l0.46,1.63l-1.41,-0.94l-1.41,0.94l0.46,-1.63l-1.33,-1.05l1.69,-0.07zM740.9,497.1l0.59,1.59l1.69,0.07l-1.33,1.05l0.46,1.63l-1.41,-0.94l-1.41,0.94l0.46,-1.63l-1.33,-1.05l1.69,-0.07zM726.6,499.6l0.59,1.59l1.69,0.07l-1.33,1.05l0.46,1.63l-1.41,-0.94l-1.41,0.94l0.46,-1.63l-1.33,-1.05l1.69,-0.07zM670.5,502.4l0.59,1.59l1.69,0.07l-1.33,1.05l0.46,1.63l-1.41,-0.94l-1.41,0.94l0.46,-1.63l-1.33,-1.05l1.69,-0.07zM686.4,504.0l0.59,1.59l1.69,0.07l-1.33,1.05l0.46,1.63l-1.41,-0.94l-1.41,0.94l0.46,-1.63l-1.33,-1.05l1.69,-0.07zM715.7,506.9l0.59,1.59l1.69,0.07l-1.33,1.05l0.46,1.63l-1.41,-0.94l-1.41,0.94l0.46,-1.63l-1.33,-1.05l1.69,-0.07zM756.8,511.5l0.59,1.59l1.69,0.07l-1.33,1.05l0.46,1.63l-1.41,-0.94l-1.41,0.94l0.46,-1.63l-1.33,-1.05l1.69,-0.07zM714.1,513.7l0.59,1.59l1.69,0.07l-1.33,1.05l0.46,1.63l-1.41,-0.94l-1.41,0.94l0.46,-1.63l-1.33,-1.05l1.69,-0.07zM756.1,510.4l0.59,1.59l1.69,0.07l-1.33,1.05l0.46,1.63l-1.41,-0.94l-1.41,0.94l0.46,-1.63l-1.33,-1.05l1.69,-0.07zM739.3,521.6l0.59,1.59l1.69,0.07l-1.33,1.05l0.46,1.63l-1.41,-0.94l-1.41,0.94l0.46,-1.63l-1.33,-1.05l1.69,-0.07zM746.2,524.8l0.59,1.59l1.69,0.07l-1.33,1.05l0.46,1.63l-1.41,-0.94l-1.41,0.94l0.46,-1.63l-1.33,-1.05l1.69,-0.07zM687.5,522.9l0.59,1.59l1.69,0.07l-1.33,1.05l0.46,1.63l-1.41,-0.94l-1.41,0.94l0.46,-1.63l-1.33,-1.05l1.69,-0.07zM700.1,524.8l0.59,1.59l1.69,0.07l-1.33,1.05l0.46,1.63l-1.41,-0.94l-1.41,0.94l0.46,-1.63l-1.33,-1.05l1.69,-0.07zM764.1,525.1l0.59,1.59l1.69,0.07l-1.33,1.05l0.46,1.63l-1.41,-0.94l-1.41,0.94l0.46,-1.63l-1.33,-1.05l1.69,-0.07zM670.7,524.3l0.59,1.59l1.69,0.07l-1.33,1.05l0.46,1.63l-1.41,-0.94l-1.41,0.94l0.46,-1.63l-1.33,-1.05l1.69,-0.07zM665.4,522.1l0.59,1.59l1.69,0.07l-1.33,1.05l0.46,1.63l-1.41,-0.94l-1.41,0.94l0.46,-1.63l-1.33,-1.05l1.69,-0.07zM480.2,399.0l0.59,1.59l1.69,0.07l-1.33,1.05l0.46,1.63l-1.41,-0.94l-1.41,0.94l0.46,-1.63l-1.33,-1.05l1.69,-0.07zM488.9,398.1l0.59,1.59l1.69,0.07l-1.33,1.05l0.46,1.63l-1.41,-0.94l-1.41,0.94l0.46,-1.63l-1.33,-1.05l1.69,-0.07zM496.6,409.6l0.59,1.59l1.69,0.07l-1.33,1.05l0.46,1.63l-1.41,-0.94l-1.41,0.94l0.46,-1.63l-1.33,-1.05l1.69,-0.07zM480.2,417.1l0.59,1.59l1.69,0.07l-1.33,1.05l0.46,1.63l-1.41,-0.94l-1.41,0.94l0.46,-1.63l-1.33,-1.05l1.69,-0.07zM498.9,425.1l0.59,1.59l1.69,0.07l-1.33,1.05l0.46,1.63l-1.41,-0.94l-1.41,0.94l0.46,-1.63l-1.33,-1.05l1.69,-0.07zM494.5,429.0l0.59,1.59l1.69,0.07l-1.33,1.05l0.46,1.63l-1.41,-0.94l-1.41,0.94l0.46,-1.63l-1.33,-1.05l1.69,-0.07zM503.4,427.8l0.59,1.59l1.69,0.07l-1.33,1.05l0.46,1.63l-1.41,-0.94l-1.41,0.94l0.46,-1.63l-1.33,-1.05l1.69,-0.07zM504.1,441.0l0.59,1.59l1.69,0.07l-1.33,1.05l0.46,1.63l-1.41,-0.94l-1.41,0.94l0.46,-1.63l-1.33,-1.05l1.69,-0.07zM492.3,449.4l0.59,1.59l1.69,0.07l-1.33,1.05l0.46,1.63l-1.41,-0.94l-1.41,0.94l0.46,-1.63l-1.33,-1.05l1.69,-0.07zM505.9,448.5l0.59,1.59l1.69,0.07l-1.33,1.05l0.46,1.63l-1.41,-0.94l-1.41,0.94l0.46,-1.63l-1.33,-1.05l1.69,-0.07zM475.2,465.6l0.59,1.59l1.69,0.07l-1.33,1.05l0.46,1.63l-1.41,-0.94l-1.41,0.94l0.46,-1.63l-1.33,-1.05l1.69,-0.07zM466.1,494.4l0.59,1.59l1.69,0.07l-1.33,1.05l0.46,1.63l-1.41,-0.94l-1.41,0.94l0.46,-1.63l-1.33,-1.05l1.69,-0.07zM470.5,499.6l0.59,1.59l1.69,0.07l-1.33,1.05l0.46,1.63l-1.41,-0.94l-1.41,0.94l0.46,-1.63l-1.33,-1.05l1.69,-0.07zM583.6,441.7l0.59,1.59l1.69,0.07l-1.33,1.05l0.46,1.63l-1.41,-0.94l-1.41,0.94l0.46,-1.63l-1.33,-1.05l1.69,-0.07zM587.0,442.6l0.59,1.59l1.69,0.07l-1.33,1.05l0.46,1.63l-1.41,-0.94l-1.41,0.94l0.46,-1.63l-1.33,-1.05l1.69,-0.07zM588.6,447.1l0.59,1.59l1.69,0.07l-1.33,1.05l0.46,1.63l-1.41,-0.94l-1.41,0.94l0.46,-1.63l-1.33,-1.05l1.69,-0.07zM596.1,461.0l0.59,1.59l1.69,0.07l-1.33,1.05l0.46,1.63l-1.41,-0.94l-1.41,0.94l0.46,-1.63l-1.33,-1.05l1.69,-0.07zM584.3,467.8l0.59,1.59l1.69,0.07l-1.33,1.05l0.46,1.63l-1.41,-0.94l-1.41,0.94l0.46,-1.63l-1.33,-1.05l1.69,-0.07zM592.7,474.0l0.59,1.59l1.69,0.07l-1.33,1.05l0.46,1.63l-1.41,-0.94l-1.41,0.94l0.46,-1.63l-1.33,-1.05l1.69,-0.07zM601.0,453.6l0.59,1.59l1.69,0.07l-1.33,1.05l0.46,1.63l-1.41,-0.94l-1.41,0.94l0.46,-1.63l-1.33,-1.05l1.69,-0.07zM607.0,445.6l0.59,1.59l1.69,0.07l-1.33,1.05l0.46,1.63l-1.41,-0.94l-1.41,0.94l0.46,-1.63l-1.33,-1.05l1.69,-0.07zM612.0,467.6l0.59,1.59l1.69,0.07l-1.33,1.05l0.46,1.63l-1.41,-0.94l-1.41,0.94l0.46,-1.63l-1.33,-1.05l1.69,-0.07zM622.0,459.6l0.59,1.59l1.69,0.07l-1.33,1.05l0.46,1.63l-1.41,-0.94l-1.41,0.94l0.46,-1.63l-1.33,-1.05l1.69,-0.07zM630.0,472.6l0.59,1.59l1.69,0.07l-1.33,1.05l0.46,1.63l-1.41,-0.94l-1.41,0.94l0.46,-1.63l-1.33,-1.05l1.69,-0.07zM640.0,483.6l0.59,1.59l1.69,0.07l-1.33,1.05l0.46,1.63l-1.41,-0.94l-1.41,0.94l0.46,-1.63l-1.33,-1.05l1.69,-0.07zM645.0,475.6l0.59,1.59l1.69,0.07l-1.33,1.05l0.46,1.63l-1.41,-0.94l-1.41,0.94l0.46,-1.63l-1.33,-1.05l1.69,-0.07zM628.0,489.6l0.59,1.59l1.69,0.07l-1.33,1.05l0.46,1.63l-1.41,-0.94l-1.41,0.94l0.46,-1.63l-1.33,-1.05l1.69,-0.07zM655.0,493.6l0.59,1.59l1.69,0.07l-1.33,1.05l0.46,1.63l-1.41,-0.94l-1.41,0.94l0.46,-1.63l-1.33,-1.05l1.69,-0.07zM660.0,485.6l0.59,1.59l1.69,0.07l-1.33,1.05l0.46,1.63l-1.41,-0.94l-1.41,0.94l0.46,-1.63l-1.33,-1.05l1.69,-0.07zM648.0,502.6l0.59,1.59l1.69,0.07l-1.33,1.05l0.46,1.63l-1.41,-0.94l-1.41,0.94l0.46,-1.63l-1.33,-1.05l1.69,-0.07zM662.0,507.6l0.59,1.59l1.69,0.07l-1.33,1.05l0.46,1.63l-1.41,-0.94l-1.41,0.94l0.46,-1.63l-1.33,-1.05l1.69,-0.07zM675.0,512.6l0.59,1.59l1.69,0.07l-1.33,1.05l0.46,1.63l-1.41,-0.94l-1.41,0.94l0.46,-1.63l-1.33,-1.05l1.69,-0.07zM690.0,515.6l0.59,1.59l1.69,0.07l-1.33,1.05l0.46,1.63l-1.41,-0.94l-1.41,0.94l0.46,-1.63l-1.33,-1.05l1.69,-0.07zM705.0,519.6l0.59,1.59l1.69,0.07l-1.33,1.05l0.46,1.63l-1.41,-0.94l-1.41,0.94l0.46,-1.63l-1.33,-1.05l1.69,-0.07zM503.9,518.7l0.59,1.59l1.69,0.07l-1.33,1.05l0.46,1.63l-1.41,-0.94l-1.41,0.94l0.46,-1.63l-1.33,-1.05l1.69,-0.07zM502.5,501.3l0.59,1.59l1.69,0.07l-1.33,1.05l0.46,1.63l-1.41,-0.94l-1.41,0.94l0.46,-1.63l-1.33,-1.05l1.69,-0.07zM496.2,514.3l0.59,1.59l1.69,0.07l-1.33,1.05l0.46,1.63l-1.41,-0.94l-1.41,0.94l0.46,-1.63l-1.33,-1.05l1.69,-0.07zM503.9,517.8l0.59,1.59l1.69,0.07l-1.33,1.05l0.46,1.63l-1.41,-0.94l-1.41,0.94l0.46,-1.63l-1.33,-1.05l1.69,-0.07zM497.8,500.4l0.59,1.59l1.69,0.07l-1.33,1.05l0.46,1.63l-1.41,-0.94l-1.41,0.94l0.46,-1.63l-1.33,-1.05l1.69,-0.07zM502.9,506.4l0.59,1.59l1.69,0.07l-1.33,1.05l0.46,1.63l-1.41,-0.94l-1.41,0.94l0.46,-1.63l-1.33,-1.05l1.69,-0.07zM503.0,504.1l0.59,1.59l1.69,0.07l-1.33,1.05l0.46,1.63l-1.41,-0.94l-1.41,0.94l0.46,-1.63l-1.33,-1.05l1.69,-0.07zM500.9,476.2l0.59,1.59l1.69,0.07l-1.33,1.05l0.46,1.63l-1.41,-0.94l-1.41,0.94l0.46,-1.63l-1.33,-1.05l1.69,-0.07zM498.5,521.9l0.59,1.59l1.69,0.07l-1.33,1.05l0.46,1.63l-1.41,-0.94l-1.41,0.94l0.46,-1.63l-1.33,-1.05l1.69,-0.07zM499.5,510.3l0.59,1.59l1.69,0.07l-1.33,1.05l0.46,1.63l-1.41,-0.94l-1.41,0.94l0.46,-1.63l-1.33,-1.05l1.69,-0.07zM496.0,513.7l0.59,1.59l1.69,0.07l-1.33,1.05l0.46,1.63l-1.41,-0.94l-1.41,0.94l0.46,-1.63l-1.33,-1.05l1.69,-0.07zM502.7,506.6l0.59,1.59l1.69,0.07l-1.33,1.05l0.46,1.63l-1.41,-0.94l-1.41,0.94l0.46,-1.63l-1.33,-1.05l1.69,-0.07zM496.2,509.6l0.59,1.59l1.69,0.07l-1.33,1.05l0.46,1.63l-1.41,-0.94l-1.41,0.94l0.46,-1.63l-1.33,-1.05l1.69,-0.07zM503.8,506.2l0.59,1.59l1.69,0.07l-1.33,1.05l0.46,1.63l-1.41,-0.94l-1.41,0.94l0.46,-1.63l-1.33,-1.05l1.69,-0.07zM496.4,508.1l0.59,1.59l1.69,0.07l-1.33,1.05l0.46,1.63l-1.41,-0.94l-1.41,0.94l0.46,-1.63l-1.33,-1.05l1.69,-0.07zM502.6,510.5l0.59,1.59l1.69,0.07l-1.33,1.05l0.46,1.63l-1.41,-0.94l-1.41,0.94l0.46,-1.63l-1.33,-1.05l1.69,-0.07zM493.8,509.2l0.59,1.59l1.69,0.07l-1.33,1.05l0.46,1.63l-1.41,-0.94l-1.41,0.94l0.46,-1.63l-1.33,-1.05l1.69,-0.07zM495.8,486.3l0.59,1.59l1.69,0.07l-1.33,1.05l0.46,1.63l-1.41,-0.94l-1.41,0.94l0.46,-1.63l-1.33,-1.05l1.69,-0.07zM503.6,515.3l0.59,1.59l1.69,0.07l-1.33,1.05l0.46,1.63l-1.41,-0.94l-1.41,0.94l0.46,-1.63l-1.33,-1.05l1.69,-0.07zM496.5,522.1l0.59,1.59l1.69,0.07l-1.33,1.05l0.46,1.63l-1.41,-0.94l-1.41,0.94l0.46,-1.63l-1.33,-1.05l1.69,-0.07zM500.8,499.5l0.59,1.59l1.69,0.07l-1.33,1.05l0.46,1.63l-1.41,-0.94l-1.41,0.94l0.46,-1.63l-1.33,-1.05l1.69,-0.07zM503.5,524.2l0.59,1.59l1.69,0.07l-1.33,1.05l0.46,1.63l-1.41,-0.94l-1.41,0.94l0.46,-1.63l-1.33,-1.05l1.69,-0.07zM500.7,513.1l0.59,1.59l1.69,0.07l-1.33,1.05l0.46,1.63l-1.41,-0.94l-1.41,0.94l0.46,-1.63l-1.33,-1.05l1.69,-0.07zM498.4,524.0l0.59,1.59l1.69,0.07l-1.33,1.05l0.46,1.63l-1.41,-0.94l-1.41,0.94l0.46,-1.63l-1.33,-1.05l1.69,-0.07zM503.9,445.7l0.59,1.59l1.69,0.07l-1.33,1.05l0.46,1.63l-1.41,-0.94l-1.41,0.94l0.46,-1.63l-1.33,-1.05l1.69,-0.07zM500.4,495.4l0.59,1.59l1.69,0.07l-1.33,1.05l0.46,1.63l-1.41,-0.94l-1.41,0.94l0.46,-1.63l-1.33,-1.05l1.69,-0.07zM485.0,479.3l0.59,1.59l1.69,0.07l-1.33,1.05l0.46,1.63l-1.41,-0.94l-1.41,0.94l0.46,-1.63l-1.33,-1.05l1.69,-0.07zM498.9,522.7l0.59,1.59l1.69,0.07l-1.33,1.05l0.46,1.63l-1.41,-0.94l-1.41,0.94l0.46,-1.63l-1.33,-1.05l1.69,-0.07zM498.5,515.8l0.59,1.59l1.69,0.07l-1.33,1.05l0.46,1.63l-1.41,-0.94l-1.41,0.94l0.46,-1.63l-1.33,-1.05l1.69,-0.07zM502.4,511.6l0.59,1.59l1.69,0.07l-1.33,1.05l0.46,1.63l-1.41,-0.94l-1.41,0.94l0.46,-1.63l-1.33,-1.05l1.69,-0.07zM496.4,498.8l0.59,1.59l1.69,0.07l-1.33,1.05l0.46,1.63l-1.41,-0.94l-1.41,0.94l0.46,-1.63l-1.33,-1.05l1.69,-0.07zM496.1,495.9l0.59,1.59l1.69,0.07l-1.33,1.05l0.46,1.63l-1.41,-0.94l-1.41,0.94l0.46,-1.63l-1.33,-1.05l1.69,-0.07zM495.3,521.1l0.59,1.59l1.69,0.07l-1.33,1.05l0.46,1.63l-1.41,-0.94l-1.41,0.94l0.46,-1.63l-1.33,-1.05l1.69,-0.07zM503.5,484.1l0.59,1.59l1.69,0.07l-1.33,1.05l0.46,1.63l-1.41,-0.94l-1.41,0.94l0.46,-1.63l-1.33,-1.05l1.69,-0.07zM504.2,497.2l0.59,1.59l1.69,0.07l-1.33,1.05l0.46,1.63l-1.41,-0.94l-1.41,0.94l0.46,-1.63l-1.33,-1.05l1.69,-0.07zM502.2,522.8l0.59,1.59l1.69,0.07l-1.33,1.05l0.46,1.63l-1.41,-0.94l-1.41,0.94l0.46,-1.63l-1.33,-1.05l1.69,-0.07zM503.5,502.6l0.59,1.59l1.69,0.07l-1.33,1.05l0.46,1.63l-1.41,-0.94l-1.41,0.94l0.46,-1.63l-1.33,-1.05l1.69,-0.07zM494.1,523.9l0.59,1.59l1.69,0.07l-1.33,1.05l0.46,1.63l-1.41,-0.94l-1.41,0.94l0.46,-1.63l-1.33,-1.05l1.69,-0.07zM504.6,518.6l0.59,1.59l1.69,0.07l-1.33,1.05l0.46,1.63l-1.41,-0.94l-1.41,0.94l0.46,-1.63l-1.33,-1.05l1.69,-0.07zM486.5,487.9l0.59,1.59l1.69,0.07l-1.33,1.05l0.46,1.63l-1.41,-0.94l-1.41,0.94l0.46,-1.63l-1.33,-1.05l1.69,-0.07zM500.6,503.7l0.59,1.59l1.69,0.07l-1.33,1.05l0.46,1.63l-1.41,-0.94l-1.41,0.94l0.46,-1.63l-1.33,-1.05l1.69,-0.07zM497.2,520.0l0.59,1.59l1.69,0.07l-1.33,1.05l0.46,1.63l-1.41,-0.94l-1.41,0.94l0.46,-1.63l-1.33,-1.05l1.69,-0.07zM502.6,519.6l0.59,1.59l1.69,0.07l-1.33,1.05l0.46,1.63l-1.41,-0.94l-1.41,0.94l0.46,-1.63l-1.33,-1.05l1.69,-0.07zM503.6,523.6l0.59,1.59l1.69,0.07l-1.33,1.05l0.46,1.63l-1.41,-0.94l-1.41,0.94l0.46,-1.63l-1.33,-1.05l1.69,-0.07zM504.1,518.7l0.59,1.59l1.69,0.07l-1.33,1.05l0.46,1.63l-1.41,-0.94l-1.41,0.94l0.46,-1.63l-1.33,-1.05l1.69,-0.07zM472.6,521.5l0.59,1.59l1.69,0.07l-1.33,1.05l0.46,1.63l-1.41,-0.94l-1.41,0.94l0.46,-1.63l-1.33,-1.05l1.69,-0.07zM501.1,522.8l0.59,1.59l1.69,0.07l-1.33,1.05l0.46,1.63l-1.41,-0.94l-1.41,0.94l0.46,-1.63l-1.33,-1.05l1.69,-0.07zM501.4,518.0l0.59,1.59l1.69,0.07l-1.33,1.05l0.46,1.63l-1.41,-0.94l-1.41,0.94l0.46,-1.63l-1.33,-1.05l1.69,-0.07zM475.6,503.8l0.59,1.59l1.69,0.07l-1.33,1.05l0.46,1.63l-1.41,-0.94l-1.41,0.94l0.46,-1.63l-1.33,-1.05l1.69,-0.07zM496.3,514.9l0.59,1.59l1.69,0.07l-1.33,1.05l0.46,1.63l-1.41,-0.94l-1.41,0.94l0.46,-1.63l-1.33,-1.05l1.69,-0.07zM500.0,510.6l0.59,1.59l1.69,0.07l-1.33,1.05l0.46,1.63l-1.41,-0.94l-1.41,0.94l0.46,-1.63l-1.33,-1.05l1.69,-0.07zM496.4,523.0l0.59,1.59l1.69,0.07l-1.33,1.05l0.46,1.63l-1.41,-0.94l-1.41,0.94l0.46,-1.63l-1.33,-1.05l1.69,-0.07zM498.8,516.6l0.59,1.59l1.69,0.07l-1.33,1.05l0.46,1.63l-1.41,-0.94l-1.41,0.94l0.46,-1.63l-1.33,-1.05l1.69,-0.07zM498.8,499.8l0.59,1.59l1.69,0.07l-1.33,1.05l0.46,1.63l-1.41,-0.94l-1.41,0.94l0.46,-1.63l-1.33,-1.05l1.69,-0.07zM491.4,507.9l0.59,1.59l1.69,0.07l-1.33,1.05l0.46,1.63l-1.41,-0.94l-1.41,0.94l0.46,-1.63l-1.33,-1.05l1.69,-0.07zM504.5,504.1l0.59,1.59l1.69,0.07l-1.33,1.05l0.46,1.63l-1.41,-0.94l-1.41,0.94l0.46,-1.63l-1.33,-1.05l1.69,-0.07zM499.1,494.0l0.59,1.59l1.69,0.07l-1.33,1.05l0.46,1.63l-1.41,-0.94l-1.41,0.94l0.46,-1.63l-1.33,-1.05l1.69,-0.07zM498.7,514.2l0.59,1.59l1.69,0.07l-1.33,1.05l0.46,1.63l-1.41,-0.94l-1.41,0.94l0.46,-1.63l-1.33,-1.05l1.69,-0.07zM501.8,461.5l0.59,1.59l1.69,0.07l-1.33,1.05l0.46,1.63l-1.41,-0.94l-1.41,0.94l0.46,-1.63l-1.33,-1.05l1.69,-0.07zM502.5,497.4l0.59,1.59l1.69,0.07l-1.33,1.05l0.46,1.63l-1.41,-0.94l-1.41,0.94l0.46,-1.63l-1.33,-1.05l1.69,-0.07zM502.7,515.7l0.59,1.59l1.69,0.07l-1.33,1.05l0.46,1.63l-1.41,-0.94l-1.41,0.94l0.46,-1.63l-1.33,-1.05l1.69,-0.07zM502.0,516.6l0.59,1.59l1.69,0.07l-1.33,1.05l0.46,1.63l-1.41,-0.94l-1.41,0.94l0.46,-1.63l-1.33,-1.05l1.69,-0.07zM503.8,499.2l0.59,1.59l1.69,0.07l-1.33,1.05l0.46,1.63l-1.41,-0.94l-1.41,0.94l0.46,-1.63l-1.33,-1.05l1.69,-0.07zM497.7,522.9l0.59,1.59l1.69,0.07l-1.33,1.05l0.46,1.63l-1.41,-0.94l-1.41,0.94l0.46,-1.63l-1.33,-1.05l1.69,-0.07zM496.3,470.7l0.59,1.59l1.69,0.07l-1.33,1.05l0.46,1.63l-1.41,-0.94l-1.41,0.94l0.46,-1.63l-1.33,-1.05l1.69,-0.07zM502.3,517.0l0.59,1.59l1.69,0.07l-1.33,1.05l0.46,1.63l-1.41,-0.94l-1.41,0.94l0.46,-1.63l-1.33,-1.05l1.69,-0.07zM504.6,521.7l0.59,1.59l1.69,0.07l-1.33,1.05l0.46,1.63l-1.41,-0.94l-1.41,0.94l0.46,-1.63l-1.33,-1.05l1.69,-0.07zM503.4,519.8l0.59,1.59l1.69,0.07l-1.33,1.05l0.46,1.63l-1.41,-0.94l-1.41,0.94l0.46,-1.63l-1.33,-1.05l1.69,-0.07zM492.0,516.7l0.59,1.59l1.69,0.07l-1.33,1.05l0.46,1.63l-1.41,-0.94l-1.41,0.94l0.46,-1.63l-1.33,-1.05l1.69,-0.07zM501.1,524.1l0.59,1.59l1.69,0.07l-1.33,1.05l0.46,1.63l-1.41,-0.94l-1.41,0.94l0.46,-1.63l-1.33,-1.05l1.69,-0.07zM487.7,519.6l0.59,1.59l1.69,0.07l-1.33,1.05l0.46,1.63l-1.41,-0.94l-1.41,0.94l0.46,-1.63l-1.33,-1.05l1.69,-0.07zM496.1,524.0l0.59,1.59l1.69,0.07l-1.33,1.05l0.46,1.63l-1.41,-0.94l-1.41,0.94l0.46,-1.63l-1.33,-1.05l1.69,-0.07zM500.3,524.6l0.59,1.59l1.69,0.07l-1.33,1.05l0.46,1.63l-1.41,-0.94l-1.41,0.94l0.46,-1.63l-1.33,-1.05l1.69,-0.07zM502.4,518.6l0.59,1.59l1.69,0.07l-1.33,1.05l0.46,1.63l-1.41,-0.94l-1.41,0.94l0.46,-1.63l-1.33,-1.05l1.69,-0.07zM502.8,517.1l0.59,1.59l1.69,0.07l-1.33,1.05l0.46,1.63l-1.41,-0.94l-1.41,0.94l0.46,-1.63l-1.33,-1.05l1.69,-0.07zM502.7,521.8l0.59,1.59l1.69,0.07l-1.33,1.05l0.46,1.63l-1.41,-0.94l-1.41,0.94l0.46,-1.63l-1.33,-1.05l1.69,-0.07zM494.4,524.0l0.59,1.59l1.69,0.07l-1.33,1.05l0.46,1.63l-1.41,-0.94l-1.41,0.94l0.46,-1.63l-1.33,-1.05l1.69,-0.07zM500.5,493.2l0.59,1.59l1.69,0.07l-1.33,1.05l0.46,1.63l-1.41,-0.94l-1.41,0.94l0.46,-1.63l-1.33,-1.05l1.69,-0.07zM504.0,516.6l0.59,1.59l1.69,0.07l-1.33,1.05l0.46,1.63l-1.41,-0.94l-1.41,0.94l0.46,-1.63l-1.33,-1.05l1.69,-0.07zM501.3,505.3l0.59,1.59l1.69,0.07l-1.33,1.05l0.46,1.63l-1.41,-0.94l-1.41,0.94l0.46,-1.63l-1.33,-1.05l1.69,-0.07zM502.4,514.3l0.59,1.59l1.69,0.07l-1.33,1.05l0.46,1.63l-1.41,-0.94l-1.41,0.94l0.46,-1.63l-1.33,-1.05l1.69,-0.07zM493.3,497.5l0.59,1.59l1.69,0.07l-1.33,1.05l0.46,1.63l-1.41,-0.94l-1.41,0.94l0.46,-1.63l-1.33,-1.05l1.69,-0.07zM499.7,451.9l0.59,1.59l1.69,0.07l-1.33,1.05l0.46,1.63l-1.41,-0.94l-1.41,0.94l0.46,-1.63l-1.33,-1.05l1.69,-0.07zM490.4,519.0l0.59,1.59l1.69,0.07l-1.33,1.05l0.46,1.63l-1.41,-0.94l-1.41,0.94l0.46,-1.63l-1.33,-1.05l1.69,-0.07zM497.7,509.1l0.59,1.59l1.69,0.07l-1.33,1.05l0.46,1.63l-1.41,-0.94l-1.41,0.94l0.46,-1.63l-1.33,-1.05l1.69,-0.07zM504.5,510.8l0.59,1.59l1.69,0.07l-1.33,1.05l0.46,1.63l-1.41,-0.94l-1.41,0.94l0.46,-1.63l-1.33,-1.05l1.69,-0.07zM502.8,520.0l0.59,1.59l1.69,0.07l-1.33,1.05l0.46,1.63l-1.41,-0.94l-1.41,0.94l0.46,-1.63l-1.33,-1.05l1.69,-0.07zM501.5,517.4l0.59,1.59l1.69,0.07l-1.33,1.05l0.46,1.63l-1.41,-0.94l-1.41,0.94l0.46,-1.63l-1.33,-1.05l1.69,-0.07zM501.1,516.1l0.59,1.59l1.69,0.07l-1.33,1.05l0.46,1.63l-1.41,-0.94l-1.41,0.94l0.46,-1.63l-1.33,-1.05l1.69,-0.07zM504.6,501.0l0.59,1.59l1.69,0.07l-1.33,1.05l0.46,1.63l-1.41,-0.94l-1.41,0.94l0.46,-1.63l-1.33,-1.05l1.69,-0.07zM499.3,518.5l0.59,1.59l1.69,0.07l-1.33,1.05l0.46,1.63l-1.41,-0.94l-1.41,0.94l0.46,-1.63l-1.33,-1.05l1.69,-0.07zM501.6,520.8l0.59,1.59l1.69,0.07l-1.33,1.05l0.46,1.63l-1.41,-0.94l-1.41,0.94l0.46,-1.63l-1.33,-1.05l1.69,-0.07zM503.5,521.2l0.59,1.59l1.69,0.07l-1.33,1.05l0.46,1.63l-1.41,-0.94l-1.41,0.94l0.46,-1.63l-1.33,-1.05l1.69,-0.07zM501.1,516.8l0.59,1.59l1.69,0.07l-1.33,1.05l0.46,1.63l-1.41,-0.94l-1.41,0.94l0.46,-1.63l-1.33,-1.05l1.69,-0.07zM499.1,523.5l0.59,1.59l1.69,0.07l-1.33,1.05l0.46,1.63l-1.41,-0.94l-1.41,0.94l0.46,-1.63l-1.33,-1.05l1.69,-0.07zM502.3,446.7l0.59,1.59l1.69,0.07l-1.33,1.05l0.46,1.63l-1.41,-0.94l-1.41,0.94l0.46,-1.63l-1.33,-1.05l1.69,-0.07zM494.4,515.3l0.59,1.59l1.69,0.07l-1.33,1.05l0.46,1.63l-1.41,-0.94l-1.41,0.94l0.46,-1.63l-1.33,-1.05l1.69,-0.07zM504.4,522.3l0.59,1.59l1.69,0.07l-1.33,1.05l0.46,1.63l-1.41,-0.94l-1.41,0.94l0.46,-1.63l-1.33,-1.05l1.69,-0.07zM498.4,510.2l0.59,1.59l1.69,0.07l-1.33,1.05l0.46,1.63l-1.41,-0.94l-1.41,0.94l0.46,-1.63l-1.33,-1.05l1.69,-0.07zM500.3,523.1l0.59,1.59l1.69,0.07l-1.33,1.05l0.46,1.63l-1.41,-0.94l-1.41,0.94l0.46,-1.63l-1.33,-1.05l1.69,-0.07zM502.4,495.7l0.59,1.59l1.69,0.07l-1.33,1.05l0.46,1.63l-1.41,-0.94l-1.41,0.94l0.46,-1.63l-1.33,-1.05l1.69,-0.07zM501.1,522.5l0.59,1.59l1.69,0.07l-1.33,1.05l0.46,1.63l-1.41,-0.94l-1.41,0.94l0.46,-1.63l-1.33,-1.05l1.69,-0.07zM493.8,492.9l0.59,1.59l1.69,0.07l-1.33,1.05l0.46,1.63l-1.41,-0.94l-1.41,0.94l0.46,-1.63l-1.33,-1.05l1.69,-0.07zM500.2,513.7l0.59,1.59l1.69,0.07l-1.33,1.05l0.46,1.63l-1.41,-0.94l-1.41,0.94l0.46,-1.63l-1.33,-1.05l1.69,-0.07zM497.4,501.1l0.59,1.59l1.69,0.07l-1.33,1.05l0.46,1.63l-1.41,-0.94l-1.41,0.94l0.46,-1.63l-1.33,-1.05l1.69,-0.07zM487.8,503.5l0.59,1.59l1.69,0.07l-1.33,1.05l0.46,1.63l-1.41,-0.94l-1.41,0.94l0.46,-1.63l-1.33,-1.05l1.69,-0.07zM492.3,517.3l0.59,1.59l1.69,0.07l-1.33,1.05l0.46,1.63l-1.41,-0.94l-1.41,0.94l0.46,-1.63l-1.33,-1.05l1.69,-0.07zM498.4,510.3l0.59,1.59l1.69,0.07l-1.33,1.05l0.46,1.63l-1.41,-0.94l-1.41,0.94l0.46,-1.63l-1.33,-1.05l1.69,-0.07zM498.4,521.6l0.59,1.59l1.69,0.07l-1.33,1.05l0.46,1.63l-1.41,-0.94l-1.41,0.94l0.46,-1.63l-1.33,-1.05l1.69,-0.07zM503.0,521.6l0.59,1.59l1.69,0.07l-1.33,1.05l0.46,1.63l-1.41,-0.94l-1.41,0.94l0.46,-1.63l-1.33,-1.05l1.69,-0.07zM490.9,511.1l0.59,1.59l1.69,0.07l-1.33,1.05l0.46,1.63l-1.41,-0.94l-1.41,0.94l0.46,-1.63l-1.33,-1.05l1.69,-0.07zM497.3,502.1l0.59,1.59l1.69,0.07l-1.33,1.05l0.46,1.63l-1.41,-0.94l-1.41,0.94l0.46,-1.63l-1.33,-1.05l1.69,-0.07zM504.4,516.2l0.59,1.59l1.69,0.07l-1.33,1.05l0.46,1.63l-1.41,-0.94l-1.41,0.94l0.46,-1.63l-1.33,-1.05l1.69,-0.07zM500.2,512.8l0.59,1.59l1.69,0.07l-1.33,1.05l0.46,1.63l-1.41,-0.94l-1.41,0.94l0.46,-1.63l-1.33,-1.05l1.69,-0.07zM499.4,512.1l0.59,1.59l1.69,0.07l-1.33,1.05l0.46,1.63l-1.41,-0.94l-1.41,0.94l0.46,-1.63l-1.33,-1.05l1.69,-0.07zM496.6,519.2l0.59,1.59l1.69,0.07l-1.33,1.05l0.46,1.63l-1.41,-0.94l-1.41,0.94l0.46,-1.63l-1.33,-1.05l1.69,-0.07zM487.2,496.0l0.59,1.59l1.69,0.07l-1.33,1.05l0.46,1.63l-1.41,-0.94l-1.41,0.94l0.46,-1.63l-1.33,-1.05l1.69,-0.07zM500.8,523.4l0.59,1.59l1.69,0.07l-1.33,1.05l0.46,1.63l-1.41,-0.94l-1.41,0.94l0.46,-1.63l-1.33,-1.05l1.69,-0.07zM503.5,523.8l0.59,1.59l1.69,0.07l-1.33,1.05l0.46,1.63l-1.41,-0.94l-1.41,0.94l0.46,-1.63l-1.33,-1.05l1.69,-0.07zM503.7,522.0l0.59,1.59l1.69,0.07l-1.33,1.05l0.46,1.63l-1.41,-0.94l-1.41,0.94l0.46,-1.63l-1.33,-1.05l1.69,-0.07zM500.2,503.5l0.59,1.59l1.69,0.07l-1.33,1.05l0.46,1.63l-1.41,-0.94l-1.41,0.94l0.46,-1.63l-1.33,-1.05l1.69,-0.07zM498.6,522.8l0.59,1.59l1.69,0.07l-1.33,1.05l0.46,1.63l-1.41,-0.94l-1.41,0.94l0.46,-1.63l-1.33,-1.05l1.69,-0.07zM501.5,519.0l0.59,1.59l1.69,0.07l-1.33,1.05l0.46,1.63l-1.41,-0.94l-1.41,0.94l0.46,-1.63l-1.33,-1.05l1.69,-0.07zM487.7,524.1l0.59,1.59l1.69,0.07l-1.33,1.05l0.46,1.63l-1.41,-0.94l-1.41,0.94l0.46,-1.63l-1.33,-1.05l1.69,-0.07zM498.9,518.9l0.59,1.59l1.69,0.07l-1.33,1.05l0.46,1.63l-1.41,-0.94l-1.41,0.94l0.46,-1.63l-1.33,-1.05l1.69,-0.07zM501.5,506.3l0.59,1.59l1.69,0.07l-1.33,1.05l0.46,1.63l-1.41,-0.94l-1.41,0.94l0.46,-1.63l-1.33,-1.05l1.69,-0.07zM495.2,516.0l0.59,1.59l1.69,0.07l-1.33,1.05l0.46,1.63l-1.41,-0.94l-1.41,0.94l0.46,-1.63l-1.33,-1.05l1.69,-0.07zM498.6,518.8l0.59,1.59l1.69,0.07l-1.33,1.05l0.46,1.63l-1.41,-0.94l-1.41,0.94l0.46,-1.63l-1.33,-1.05l1.69,-0.07zM500.3,506.7l0.59,1.59l1.69,0.07l-1.33,1.05l0.46,1.63l-1.41,-0.94l-1.41,0.94l0.46,-1.63l-1.33,-1.05l1.69,-0.07zM501.8,513.1l0.59,1.59l1.69,0.07l-1.33,1.05l0.46,1.63l-1.41,-0.94l-1.41,0.94l0.46,-1.63l-1.33,-1.05l1.69,-0.07zM498.1,520.0l0.59,1.59l1.69,0.07l-1.33,1.05l0.46,1.63l-1.41,-0.94l-1.41,0.94l0.46,-1.63l-1.33,-1.05l1.69,-0.07zM501.5,480.0l0.59,1.59l1.69,0.07l-1.33,1.05l0.46,1.63l-1.41,-0.94l-1.41,0.94l0.46,-1.63l-1.33,-1.05l1.69,-0.07zM500.5,502.7l0.59,1.59l1.69,0.07l-1.33,1.05l0.46,1.63l-1.41,-0.94l-1.41,0.94l0.46,-1.63l-1.33,-1.05l1.69,-0.07zM497.1,522.9l0.59,1.59l1.69,0.07l-1.33,1.05l0.46,1.63l-1.41,-0.94l-1.41,0.94l0.46,-1.63l-1.33,-1.05l1.69,-0.07zM478.7,495.8l0.59,1.59l1.69,0.07l-1.33,1.05l0.46,1.63l-1.41,-0.94l-1.41,0.94l0.46,-1.63l-1.33,-1.05l1.69,-0.07zM503.3,517.1l0.59,1.59l1.69,0.07l-1.33,1.05l0.46,1.63l-1.41,-0.94l-1.41,0.94l0.46,-1.63l-1.33,-1.05l1.69,-0.07zM503.4,518.4l0.59,1.59l1.69,0.07l-1.33,1.05l0.46,1.63l-1.41,-0.94l-1.41,0.94l0.46,-1.63l-1.33,-1.05l1.69,-0.07zM501.8,465.4l0.59,1.59l1.69,0.07l-1.33,1.05l0.46,1.63l-1.41,-0.94l-1.41,0.94l0.46,-1.63l-1.33,-1.05l1.69,-0.07zM503.8,523.9l0.59,1.59l1.69,0.07l-1.33,1.05l0.46,1.63l-1.41,-0.94l-1.41,0.94l0.46,-1.63l-1.33,-1.05l1.69,-0.07zM482.0,520.1l0.59,1.59l1.69,0.07l-1.33,1.05l0.46,1.63l-1.41,-0.94l-1.41,0.94l0.46,-1.63l-1.33,-1.05l1.69,-0.07zM500.2,523.9l0.59,1.59l1.69,0.07l-1.33,1.05l0.46,1.63l-1.41,-0.94l-1.41,0.94l0.46,-1.63l-1.33,-1.05l1.69,-0.07zM504.7,519.3l0.59,1.59l1.69,0.07l-1.33,1.05l0.46,1.63l-1.41,-0.94l-1.41,0.94l0.46,-1.63l-1.33,-1.05l1.69,-0.07zM496.2,518.5l0.59,1.59l1.69,0.07l-1.33,1.05l0.46,1.63l-1.41,-0.94l-1.41,0.94l0.46,-1.63l-1.33,-1.05l1.69,-0.07zM497.6,522.1l0.59,1.59l1.69,0.07l-1.33,1.05l0.46,1.63l-1.41,-0.94l-1.41,0.94l0.46,-1.63l-1.33,-1.05l1.69,-0.07zM482.3,523.1l0.59,1.59l1.69,0.07l-1.33,1.05l0.46,1.63l-1.41,-0.94l-1.41,0.94l0.46,-1.63l-1.33,-1.05l1.69,-0.07zM499.6,522.0l0.59,1.59l1.69,0.07l-1.33,1.05l0.46,1.63l-1.41,-0.94l-1.41,0.94l0.46,-1.63l-1.33,-1.05l1.69,-0.07zM501.0,522.0l0.59,1.59l1.69,0.07l-1.33,1.05l0.46,1.63l-1.41,-0.94l-1.41,0.94l0.46,-1.63l-1.33,-1.05l1.69,-0.07zM478.0,520.0l0.59,1.59l1.69,0.07l-1.33,1.05l0.46,1.63l-1.41,-0.94l-1.41,0.94l0.46,-1.63l-1.33,-1.05l1.69,-0.07zM504.7,491.4l0.59,1.59l1.69,0.07l-1.33,1.05l0.46,1.63l-1.41,-0.94l-1.41,0.94l0.46,-1.63l-1.33,-1.05l1.69,-0.07zM494.8,521.8l0.59,1.59l1.69,0.07l-1.33,1.05l0.46,1.63l-1.41,-0.94l-1.41,0.94l0.46,-1.63l-1.33,-1.05l1.69,-0.07zM503.4,521.4l0.59,1.59l1.69,0.07l-1.33,1.05l0.46,1.63l-1.41,-0.94l-1.41,0.94l0.46,-1.63l-1.33,-1.05l1.69,-0.07zM503.5,509.2l0.59,1.59l1.69,0.07l-1.33,1.05l0.46,1.63l-1.41,-0.94l-1.41,0.94l0.46,-1.63l-1.33,-1.05l1.69,-0.07zM500.4,519.3l0.59,1.59l1.69,0.07l-1.33,1.05l0.46,1.63l-1.41,-0.94l-1.41,0.94l0.46,-1.63l-1.33,-1.05l1.69,-0.07zM504.2,521.2l0.59,1.59l1.69,0.07l-1.33,1.05l0.46,1.63l-1.41,-0.94l-1.41,0.94l0.46,-1.63l-1.33,-1.05l1.69,-0.07zM497.8,518.2l0.59,1.59l1.69,0.07l-1.33,1.05l0.46,1.63l-1.41,-0.94l-1.41,0.94l0.46,-1.63l-1.33,-1.05l1.69,-0.07zM503.3,513.1l0.59,1.59l1.69,0.07l-1.33,1.05l0.46,1.63l-1.41,-0.94l-1.41,0.94l0.46,-1.63l-1.33,-1.05l1.69,-0.07zM493.3,516.1l0.59,1.59l1.69,0.07l-1.33,1.05l0.46,1.63l-1.41,-0.94l-1.41,0.94l0.46,-1.63l-1.33,-1.05l1.69,-0.07zM498.9,518.7l0.59,1.59l1.69,0.07l-1.33,1.05l0.46,1.63l-1.41,-0.94l-1.41,0.94l0.46,-1.63l-1.33,-1.05l1.69,-0.07zM504.5,520.8l0.59,1.59l1.69,0.07l-1.33,1.05l0.46,1.63l-1.41,-0.94l-1.41,0.94l0.46,-1.63l-1.33,-1.05l1.69,-0.07zM503.5,520.3l0.59,1.59l1.69,0.07l-1.33,1.05l0.46,1.63l-1.41,-0.94l-1.41,0.94l0.46,-1.63l-1.33,-1.05l1.69,-0.07zM501.8,507.7l0.59,1.59l1.69,0.07l-1.33,1.05l0.46,1.63l-1.41,-0.94l-1.41,0.94l0.46,-1.63l-1.33,-1.05l1.69,-0.07zM503.7,522.0l0.59,1.59l1.69,0.07l-1.33,1.05l0.46,1.63l-1.41,-0.94l-1.41,0.94l0.46,-1.63l-1.33,-1.05l1.69,-0.07zM504.7,521.1l0.59,1.59l1.69,0.07l-1.33,1.05l0.46,1.63l-1.41,-0.94l-1.41,0.94l0.46,-1.63l-1.33,-1.05l1.69,-0.07zM474.9,509.1l0.59,1.59l1.69,0.07l-1.33,1.05l0.46,1.63l-1.41,-0.94l-1.41,0.94l0.46,-1.63l-1.33,-1.05l1.69,-0.07zM494.2,517.4l0.59,1.59l1.69,0.07l-1.33,1.05l0.46,1.63l-1.41,-0.94l-1.41,0.94l0.46,-1.63l-1.33,-1.05l1.69,-0.07zM501.3,508.8l0.59,1.59l1.69,0.07l-1.33,1.05l0.46,1.63l-1.41,-0.94l-1.41,0.94l0.46,-1.63l-1.33,-1.05l1.69,-0.07zM497.7,487.5l0.59,1.59l1.69,0.07l-1.33,1.05l0.46,1.63l-1.41,-0.94l-1.41,0.94l0.46,-1.63l-1.33,-1.05l1.69,-0.07zM492.0,518.7l0.59,1.59l1.69,0.07l-1.33,1.05l0.46,1.63l-1.41,-0.94l-1.41,0.94l0.46,-1.63l-1.33,-1.05l1.69,-0.07zM485.0,524.0l0.59,1.59l1.69,0.07l-1.33,1.05l0.46,1.63l-1.41,-0.94l-1.41,0.94l0.46,-1.63l-1.33,-1.05l1.69,-0.07zM504.5,504.8l0.59,1.59l1.69,0.07l-1.33,1.05l0.46,1.63l-1.41,-0.94l-1.41,0.94l0.46,-1.63l-1.33,-1.05l1.69,-0.07zM501.0,472.6l0.59,1.59l1.69,0.07l-1.33,1.05l0.46,1.63l-1.41,-0.94l-1.41,0.94l0.46,-1.63l-1.33,-1.05l1.69,-0.07zM495.8,483.7l0.59,1.59l1.69,0.07l-1.33,1.05l0.46,1.63l-1.41,-0.94l-1.41,0.94l0.46,-1.63l-1.33,-1.05l1.69,-0.07zM488.4,522.9l0.59,1.59l1.69,0.07l-1.33,1.05l0.46,1.63l-1.41,-0.94l-1.41,0.94l0.46,-1.63l-1.33,-1.05l1.69,-0.07zM502.5,523.1l0.59,1.59l1.69,0.07l-1.33,1.05l0.46,1.63l-1.41,-0.94l-1.41,0.94l0.46,-1.63l-1.33,-1.05l1.69,-0.07zM502.5,513.6l0.59,1.59l1.69,0.07l-1.33,1.05l0.46,1.63l-1.41,-0.94l-1.41,0.94l0.46,-1.63l-1.33,-1.05l1.69,-0.07zM487.4,522.2l0.59,1.59l1.69,0.07l-1.33,1.05l0.46,1.63l-1.41,-0.94l-1.41,0.94l0.46,-1.63l-1.33,-1.05l1.69,-0.07zM503.2,497.2l0.59,1.59l1.69,0.07l-1.33,1.05l0.46,1.63l-1.41,-0.94l-1.41,0.94l0.46,-1.63l-1.33,-1.05l1.69,-0.07zM503.1,515.6l0.59,1.59l1.69,0.07l-1.33,1.05l0.46,1.63l-1.41,-0.94l-1.41,0.94l0.46,-1.63l-1.33,-1.05l1.69,-0.07zM495.3,519.6l0.59,1.59l1.69,0.07l-1.33,1.05l0.46,1.63l-1.41,-0.94l-1.41,0.94l0.46,-1.63l-1.33,-1.05l1.69,-0.07zM502.8,523.4l0.59,1.59l1.69,0.07l-1.33,1.05l0.46,1.63l-1.41,-0.94l-1.41,0.94l0.46,-1.63l-1.33,-1.05l1.69,-0.07zM496.3,511.3l0.59,1.59l1.69,0.07l-1.33,1.05l0.46,1.63l-1.41,-0.94l-1.41,0.94l0.46,-1.63l-1.33,-1.05l1.69,-0.07zM503.0,499.8l0.59,1.59l1.69,0.07l-1.33,1.05l0.46,1.63l-1.41,-0.94l-1.41,0.94l0.46,-1.63l-1.33,-1.05l1.69,-0.07zM495.1,513.9l0.59,1.59l1.69,0.07l-1.33,1.05l0.46,1.63l-1.41,-0.94l-1.41,0.94l0.46,-1.63l-1.33,-1.05l1.69,-0.07zM503.3,520.0l0.59,1.59l1.69,0.07l-1.33,1.05l0.46,1.63l-1.41,-0.94l-1.41,0.94l0.46,-1.63l-1.33,-1.05l1.69,-0.07zM498.1,523.6l0.59,1.59l1.69,0.07l-1.33,1.05l0.46,1.63l-1.41,-0.94l-1.41,0.94l0.46,-1.63l-1.33,-1.05l1.69,-0.07zM496.7,517.9l0.59,1.59l1.69,0.07l-1.33,1.05l0.46,1.63l-1.41,-0.94l-1.41,0.94l0.46,-1.63l-1.33,-1.05l1.69,-0.07zM487.8,471.9l0.59,1.59l1.69,0.07l-1.33,1.05l0.46,1.63l-1.41,-0.94l-1.41,0.94l0.46,-1.63l-1.33,-1.05l1.69,-0.07zM501.4,518.3l0.59,1.59l1.69,0.07l-1.33,1.05l0.46,1.63l-1.41,-0.94l-1.41,0.94l0.46,-1.63l-1.33,-1.05l1.69,-0.07zM492.9,520.9l0.59,1.59l1.69,0.07l-1.33,1.05l0.46,1.63l-1.41,-0.94l-1.41,0.94l0.46,-1.63l-1.33,-1.05l1.69,-0.07zM504.7,476.5l0.59,1.59l1.69,0.07l-1.33,1.05l0.46,1.63l-1.41,-0.94l-1.41,0.94l0.46,-1.63l-1.33,-1.05l1.69,-0.07zM493.1,507.4l0.59,1.59l1.69,0.07l-1.33,1.05l0.46,1.63l-1.41,-0.94l-1.41,0.94l0.46,-1.63l-1.33,-1.05l1.69,-0.07zM502.7,515.7l0.59,1.59l1.69,0.07l-1.33,1.05l0.46,1.63l-1.41,-0.94l-1.41,0.94l0.46,-1.63l-1.33,-1.05l1.69,-0.07zM504.1,522.5l0.59,1.59l1.69,0.07l-1.33,1.05l0.46,1.63l-1.41,-0.94l-1.41,0.94l0.46,-1.63l-1.33,-1.05l1.69,-0.07zM503.9,504.4l0.59,1.59l1.69,0.07l-1.33,1.05l0.46,1.63l-1.41,-0.94l-1.41,0.94l0.46,-1.63l-1.33,-1.05l1.69,-0.07zM494.4,512.1l0.59,1.59l1.69,0.07l-1.33,1.05l0.46,1.63l-1.41,-0.94l-1.41,0.94l0.46,-1.63l-1.33,-1.05l1.69,-0.07zM500.4,475.4l0.59,1.59l1.69,0.07l-1.33,1.05l0.46,1.63l-1.41,-0.94l-1.41,0.94l0.46,-1.63l-1.33,-1.05l1.69,-0.07zM496.5,520.6l0.59,1.59l1.69,0.07l-1.33,1.05l0.46,1.63l-1.41,-0.94l-1.41,0.94l0.46,-1.63l-1.33,-1.05l1.69,-0.07zM496.9,519.1l0.59,1.59l1.69,0.07l-1.33,1.05l0.46,1.63l-1.41,-0.94l-1.41,0.94l0.46,-1.63l-1.33,-1.05l1.69,-0.07zM500.6,503.1l0.59,1.59l1.69,0.07l-1.33,1.05l0.46,1.63l-1.41,-0.94l-1.41,0.94l0.46,-1.63l-1.33,-1.05l1.69,-0.07zM498.1,519.4l0.59,1.59l1.69,0.07l-1.33,1.05l0.46,1.63l-1.41,-0.94l-1.41,0.94l0.46,-1.63l-1.33,-1.05l1.69,-0.07zM496.3,516.0l0.59,1.59l1.69,0.07l-1.33,1.05l0.46,1.63l-1.41,-0.94l-1.41,0.94l0.46,-1.63l-1.33,-1.05l1.69,-0.07zM501.3,514.3l0.59,1.59l1.69,0.07l-1.33,1.05l0.46,1.63l-1.41,-0.94l-1.41,0.94l0.46,-1.63l-1.33,-1.05l1.69,-0.07zM502.0,516.5l0.59,1.59l1.69,0.07l-1.33,1.05l0.46,1.63l-1.41,-0.94l-1.41,0.94l0.46,-1.63l-1.33,-1.05l1.69,-0.07zM500.4,512.8l0.59,1.59l1.69,0.07l-1.33,1.05l0.46,1.63l-1.41,-0.94l-1.41,0.94l0.46,-1.63l-1.33,-1.05l1.69,-0.07zM504.2,501.6l0.59,1.59l1.69,0.07l-1.33,1.05l0.46,1.63l-1.41,-0.94l-1.41,0.94l0.46,-1.63l-1.33,-1.05l1.69,-0.07zM489.2,523.8l0.59,1.59l1.69,0.07l-1.33,1.05l0.46,1.63l-1.41,-0.94l-1.41,0.94l0.46,-1.63l-1.33,-1.05l1.69,-0.07zM502.7,518.9l0.59,1.59l1.69,0.07l-1.33,1.05l0.46,1.63l-1.41,-0.94l-1.41,0.94l0.46,-1.63l-1.33,-1.05l1.69,-0.07zM501.6,518.7l0.59,1.59l1.69,0.07l-1.33,1.05l0.46,1.63l-1.41,-0.94l-1.41,0.94l0.46,-1.63l-1.33,-1.05l1.69,-0.07zM502.5,521.2l0.59,1.59l1.69,0.07l-1.33,1.05l0.46,1.63l-1.41,-0.94l-1.41,0.94l0.46,-1.63l-1.33,-1.05l1.69,-0.07zM493.9,521.1l0.59,1.59l1.69,0.07l-1.33,1.05l0.46,1.63l-1.41,-0.94l-1.41,0.94l0.46,-1.63l-1.33,-1.05l1.69,-0.07zM504.7,477.5l0.59,1.59l1.69,0.07l-1.33,1.05l0.46,1.63l-1.41,-0.94l-1.41,0.94l0.46,-1.63l-1.33,-1.05l1.69,-0.07zM500.7,519.2l0.59,1.59l1.69,0.07l-1.33,1.05l0.46,1.63l-1.41,-0.94l-1.41,0.94l0.46,-1.63l-1.33,-1.05l1.69,-0.07zM498.3,522.7l0.59,1.59l1.69,0.07l-1.33,1.05l0.46,1.63l-1.41,-0.94l-1.41,0.94l0.46,-1.63l-1.33,-1.05l1.69,-0.07zM501.1,516.6l0.59,1.59l1.69,0.07l-1.33,1.05l0.46,1.63l-1.41,-0.94l-1.41,0.94l0.46,-1.63l-1.33,-1.05l1.69,-0.07zM501.2,520.7l0.59,1.59l1.69,0.07l-1.33,1.05l0.46,1.63l-1.41,-0.94l-1.41,0.94l0.46,-1.63l-1.33,-1.05l1.69,-0.07zM500.5,517.1l0.59,1.59l1.69,0.07l-1.33,1.05l0.46,1.63l-1.41,-0.94l-1.41,0.94l0.46,-1.63l-1.33,-1.05l1.69,-0.07zM501.4,518.9l0.59,1.59l1.69,0.07l-1.33,1.05l0.46,1.63l-1.41,-0.94l-1.41,0.94l0.46,-1.63l-1.33,-1.05l1.69,-0.07zM501.8,502.6l0.59,1.59l1.69,0.07l-1.33,1.05l0.46,1.63l-1.41,-0.94l-1.41,0.94l0.46,-1.63l-1.33,-1.05l1.69,-0.07zM498.4,519.6l0.59,1.59l1.69,0.07l-1.33,1.05l0.46,1.63l-1.41,-0.94l-1.41,0.94l0.46,-1.63l-1.33,-1.05l1.69,-0.07zM491.8,483.7l0.59,1.59l1.69,0.07l-1.33,1.05l0.46,1.63l-1.41,-0.94l-1.41,0.94l0.46,-1.63l-1.33,-1.05l1.69,-0.07zM501.5,514.2l0.59,1.59l1.69,0.07l-1.33,1.05l0.46,1.63l-1.41,-0.94l-1.41,0.94l0.46,-1.63l-1.33,-1.05l1.69,-0.07zM504.1,508.5l0.59,1.59l1.69,0.07l-1.33,1.05l0.46,1.63l-1.41,-0.94l-1.41,0.94l0.46,-1.63l-1.33,-1.05l1.69,-0.07zM502.3,511.1l0.59,1.59l1.69,0.07l-1.33,1.05l0.46,1.63l-1.41,-0.94l-1.41,0.94l0.46,-1.63l-1.33,-1.05l1.69,-0.07zM504.4,487.8l0.59,1.59l1.69,0.07l-1.33,1.05l0.46,1.63l-1.41,-0.94l-1.41,0.94l0.46,-1.63l-1.33,-1.05l1.69,-0.07zM493.9,517.9l0.59,1.59l1.69,0.07l-1.33,1.05l0.46,1.63l-1.41,-0.94l-1.41,0.94l0.46,-1.63l-1.33,-1.05l1.69,-0.07zM482.2,520.2l0.59,1.59l1.69,0.07l-1.33,1.05l0.46,1.63l-1.41,-0.94l-1.41,0.94l0.46,-1.63l-1.33,-1.05l1.69,-0.07zM498.2,523.9l0.59,1.59l1.69,0.07l-1.33,1.05l0.46,1.63l-1.41,-0.94l-1.41,0.94l0.46,-1.63l-1.33,-1.05l1.69,-0.07zM501.6,516.8l0.59,1.59l1.69,0.07l-1.33,1.05l0.46,1.63l-1.41,-0.94l-1.41,0.94l0.46,-1.63l-1.33,-1.05l1.69,-0.07zM481.7,522.3l0.59,1.59l1.69,0.07l-1.33,1.05l0.46,1.63l-1.41,-0.94l-1.41,0.94l0.46,-1.63l-1.33,-1.05l1.69,-0.07zM502.2,523.4l0.59,1.59l1.69,0.07l-1.33,1.05l0.46,1.63l-1.41,-0.94l-1.41,0.94l0.46,-1.63l-1.33,-1.05l1.69,-0.07zM485.6,515.8l0.59,1.59l1.69,0.07l-1.33,1.05l0.46,1.63l-1.41,-0.94l-1.41,0.94l0.46,-1.63l-1.33,-1.05l1.69,-0.07zM500.1,515.4l0.59,1.59l1.69,0.07l-1.33,1.05l0.46,1.63l-1.41,-0.94l-1.41,0.94l0.46,-1.63l-1.33,-1.05l1.69,-0.07zM493.6,515.4l0.59,1.59l1.69,0.07l-1.33,1.05l0.46,1.63l-1.41,-0.94l-1.41,0.94l0.46,-1.63l-1.33,-1.05l1.69,-0.07zM500.4,515.6l0.59,1.59l1.69,0.07l-1.33,1.05l0.46,1.63l-1.41,-0.94l-1.41,0.94l0.46,-1.63l-1.33,-1.05l1.69,-0.07zM497.9,507.8l0.59,1.59l1.69,0.07l-1.33,1.05l0.46,1.63l-1.41,-0.94l-1.41,0.94l0.46,-1.63l-1.33,-1.05l1.69,-0.07zM498.3,497.7l0.59,1.59l1.69,0.07l-1.33,1.05l0.46,1.63l-1.41,-0.94l-1.41,0.94l0.46,-1.63l-1.33,-1.05l1.69,-0.07zM502.3,524.4l0.59,1.59l1.69,0.07l-1.33,1.05l0.46,1.63l-1.41,-0.94l-1.41,0.94l0.46,-1.63l-1.33,-1.05l1.69,-0.07zM503.4,494.6l0.59,1.59l1.69,0.07l-1.33,1.05l0.46,1.63l-1.41,-0.94l-1.41,0.94l0.46,-1.63l-1.33,-1.05l1.69,-0.07zM504.7,504.4l0.59,1.59l1.69,0.07l-1.33,1.05l0.46,1.63l-1.41,-0.94l-1.41,0.94l0.46,-1.63l-1.33,-1.05l1.69,-0.07zM501.7,524.0l0.59,1.59l1.69,0.07l-1.33,1.05l0.46,1.63l-1.41,-0.94l-1.41,0.94l0.46,-1.63l-1.33,-1.05l1.69,-0.07zM495.7,520.5l0.59,1.59l1.69,0.07l-1.33,1.05l0.46,1.63l-1.41,-0.94l-1.41,0.94l0.46,-1.63l-1.33,-1.05l1.69,-0.07zM489.5,515.4l0.59,1.59l1.69,0.07l-1.33,1.05l0.46,1.63l-1.41,-0.94l-1.41,0.94l0.46,-1.63l-1.33,-1.05l1.69,-0.07zM499.9,522.2l0.59,1.59l1.69,0.07l-1.33,1.05l0.46,1.63l-1.41,-0.94l-1.41,0.94l0.46,-1.63l-1.33,-1.05l1.69,-0.07zM498.7,509.6l0.59,1.59l1.69,0.07l-1.33,1.05l0.46,1.63l-1.41,-0.94l-1.41,0.94l0.46,-1.63l-1.33,-1.05l1.69,-0.07zM497.0,519.1l0.59,1.59l1.69,0.07l-1.33,1.05l0.46,1.63l-1.41,-0.94l-1.41,0.94l0.46,-1.63l-1.33,-1.05l1.69,-0.07zM500.7,502.3l0.59,1.59l1.69,0.07l-1.33,1.05l0.46,1.63l-1.41,-0.94l-1.41,0.94l0.46,-1.63l-1.33,-1.05l1.69,-0.07zM495.6,502.5l0.59,1.59l1.69,0.07l-1.33,1.05l0.46,1.63l-1.41,-0.94l-1.41,0.94l0.46,-1.63l-1.33,-1.05l1.69,-0.07zM502.7,521.1l0.59,1.59l1.69,0.07l-1.33,1.05l0.46,1.63l-1.41,-0.94l-1.41,0.94l0.46,-1.63l-1.33,-1.05l1.69,-0.07zM504.6,507.0l0.59,1.59l1.69,0.07l-1.33,1.05l0.46,1.63l-1.41,-0.94l-1.41,0.94l0.46,-1.63l-1.33,-1.05l1.69,-0.07zM500.1,504.0l0.59,1.59l1.69,0.07l-1.33,1.05l0.46,1.63l-1.41,-0.94l-1.41,0.94l0.46,-1.63l-1.33,-1.05l1.69,-0.07zM482.5,491.6l0.59,1.59l1.69,0.07l-1.33,1.05l0.46,1.63l-1.41,-0.94l-1.41,0.94l0.46,-1.63l-1.33,-1.05l1.69,-0.07zM504.2,509.4l0.59,1.59l1.69,0.07l-1.33,1.05l0.46,1.63l-1.41,-0.94l-1.41,0.94l0.46,-1.63l-1.33,-1.05l1.69,-0.07zM504.5,517.1l0.59,1.59l1.69,0.07l-1.33,1.05l0.46,1.63l-1.41,-0.94l-1.41,0.94l0.46,-1.63l-1.33,-1.05l1.69,-0.07zM497.2,493.3l0.59,1.59l1.69,0.07l-1.33,1.05l0.46,1.63l-1.41,-0.94l-1.41,0.94l0.46,-1.63l-1.33,-1.05l1.69,-0.07zM500.8,516.6l0.59,1.59l1.69,0.07l-1.33,1.05l0.46,1.63l-1.41,-0.94l-1.41,0.94l0.46,-1.63l-1.33,-1.05l1.69,-0.07zM503.8,520.6l0.59,1.59l1.69,0.07l-1.33,1.05l0.46,1.63l-1.41,-0.94l-1.41,0.94l0.46,-1.63l-1.33,-1.05l1.69,-0.07zM494.1,518.8l0.59,1.59l1.69,0.07l-1.33,1.05l0.46,1.63l-1.41,-0.94l-1.41,0.94l0.46,-1.63l-1.33,-1.05l1.69,-0.07zM501.7,489.7l0.59,1.59l1.69,0.07l-1.33,1.05l0.46,1.63l-1.41,-0.94l-1.41,0.94l0.46,-1.63l-1.33,-1.05l1.69,-0.07zM499.2,514.8l0.59,1.59l1.69,0.07l-1.33,1.05l0.46,1.63l-1.41,-0.94l-1.41,0.94l0.46,-1.63l-1.33,-1.05l1.69,-0.07zM495.7,521.6l0.59,1.59l1.69,0.07l-1.33,1.05l0.46,1.63l-1.41,-0.94l-1.41,0.94l0.46,-1.63l-1.33,-1.05l1.69,-0.07zM503.6,504.7l0.59,1.59l1.69,0.07l-1.33,1.05l0.46,1.63l-1.41,-0.94l-1.41,0.94l0.46,-1.63l-1.33,-1.05l1.69,-0.07zM501.4,516.6l0.59,1.59l1.69,0.07l-1.33,1.05l0.46,1.63l-1.41,-0.94l-1.41,0.94l0.46,-1.63l-1.33,-1.05l1.69,-0.07zM494.1,508.8l0.59,1.59l1.69,0.07l-1.33,1.05l0.46,1.63l-1.41,-0.94l-1.41,0.94l0.46,-1.63l-1.33,-1.05l1.69,-0.07zM501.2,506.6l0.59,1.59l1.69,0.07l-1.33,1.05l0.46,1.63l-1.41,-0.94l-1.41,0.94l0.46,-1.63l-1.33,-1.05l1.69,-0.07zM502.2,523.1l0.59,1.59l1.69,0.07l-1.33,1.05l0.46,1.63l-1.41,-0.94l-1.41,0.94l0.46,-1.63l-1.33,-1.05l1.69,-0.07zM491.2,514.3l0.59,1.59l1.69,0.07l-1.33,1.05l0.46,1.63l-1.41,-0.94l-1.41,0.94l0.46,-1.63l-1.33,-1.05l1.69,-0.07zM493.4,521.9l0.59,1.59l1.69,0.07l-1.33,1.05l0.46,1.63l-1.41,-0.94l-1.41,0.94l0.46,-1.63l-1.33,-1.05l1.69,-0.07zM501.1,523.0l0.59,1.59l1.69,0.07l-1.33,1.05l0.46,1.63l-1.41,-0.94l-1.41,0.94l0.46,-1.63l-1.33,-1.05l1.69,-0.07zM496.6,517.5l0.59,1.59l1.69,0.07l-1.33,1.05l0.46,1.63l-1.41,-0.94l-1.41,0.94l0.46,-1.63l-1.33,-1.05l1.69,-0.07zM503.9,515.2l0.59,1.59l1.69,0.07l-1.33,1.05l0.46,1.63l-1.41,-0.94l-1.41,0.94l0.46,-1.63l-1.33,-1.05l1.69,-0.07zM487.3,519.2l0.59,1.59l1.69,0.07l-1.33,1.05l0.46,1.63l-1.41,-0.94l-1.41,0.94l0.46,-1.63l-1.33,-1.05l1.69,-0.07zM503.6,524.5l0.59,1.59l1.69,0.07l-1.33,1.05l0.46,1.63l-1.41,-0.94l-1.41,0.94l0.46,-1.63l-1.33,-1.05l1.69,-0.07zM503.4,524.1l0.59,1.59l1.69,0.07l-1.33,1.05l0.46,1.63l-1.41,-0.94l-1.41,0.94l0.46,-1.63l-1.33,-1.05l1.69,-0.07zM503.2,505.4l0.59,1.59l1.69,0.07l-1.33,1.05l0.46,1.63l-1.41,-0.94l-1.41,0.94l0.46,-1.63l-1.33,-1.05l1.69,-0.07zM478.8,490.2l0.59,1.59l1.69,0.07l-1.33,1.05l0.46,1.63l-1.41,-0.94l-1.41,0.94l0.46,-1.63l-1.33,-1.05l1.69,-0.07zM501.1,520.1l0.59,1.59l1.69,0.07l-1.33,1.05l0.46,1.63l-1.41,-0.94l-1.41,0.94l0.46,-1.63l-1.33,-1.05l1.69,-0.07zM497.5,513.5l0.59,1.59l1.69,0.07l-1.33,1.05l0.46,1.63l-1.41,-0.94l-1.41,0.94l0.46,-1.63l-1.33,-1.05l1.69,-0.07zM492.8,523.1l0.59,1.59l1.69,0.07l-1.33,1.05l0.46,1.63l-1.41,-0.94l-1.41,0.94l0.46,-1.63l-1.33,-1.05l1.69,-0.07zM502.5,504.8l0.59,1.59l1.69,0.07l-1.33,1.05l0.46,1.63l-1.41,-0.94l-1.41,0.94l0.46,-1.63l-1.33,-1.05l1.69,-0.07zM504.3,508.5l0.59,1.59l1.69,0.07l-1.33,1.05l0.46,1.63l-1.41,-0.94l-1.41,0.94l0.46,-1.63l-1.33,-1.05l1.69,-0.07zM503.2,511.6l0.59,1.59l1.69,0.07l-1.33,1.05l0.46,1.63l-1.41,-0.94l-1.41,0.94l0.46,-1.63l-1.33,-1.05l1.69,-0.07zM502.9,512.8l0.59,1.59l1.69,0.07l-1.33,1.05l0.46,1.63l-1.41,-0.94l-1.41,0.94l0.46,-1.63l-1.33,-1.05l1.69,-0.07zM504.4,520.6l0.59,1.59l1.69,0.07l-1.33,1.05l0.46,1.63l-1.41,-0.94l-1.41,0.94l0.46,-1.63l-1.33,-1.05l1.69,-0.07zM495.4,502.6l0.59,1.59l1.69,0.07l-1.33,1.05l0.46,1.63l-1.41,-0.94l-1.41,0.94l0.46,-1.63l-1.33,-1.05l1.69,-0.07zM498.0,523.2l0.59,1.59l1.69,0.07l-1.33,1.05l0.46,1.63l-1.41,-0.94l-1.41,0.94l0.46,-1.63l-1.33,-1.05l1.69,-0.07zM501.3,518.0l0.59,1.59l1.69,0.07l-1.33,1.05l0.46,1.63l-1.41,-0.94l-1.41,0.94l0.46,-1.63l-1.33,-1.05l1.69,-0.07zM478.4,509.7l0.59,1.59l1.69,0.07l-1.33,1.05l0.46,1.63l-1.41,-0.94l-1.41,0.94l0.46,-1.63l-1.33,-1.05l1.69,-0.07zM503.7,522.9l0.59,1.59l1.69,0.07l-1.33,1.05l0.46,1.63l-1.41,-0.94l-1.41,0.94l0.46,-1.63l-1.33,-1.05l1.69,-0.07zM503.5,523.6l0.59,1.59l1.69,0.07l-1.33,1.05l0.46,1.63l-1.41,-0.94l-1.41,0.94l0.46,-1.63l-1.33,-1.05l1.69,-0.07zM504.3,512.1l0.59,1.59l1.69,0.07l-1.33,1.05l0.46,1.63l-1.41,-0.94l-1.41,0.94l0.46,-1.63l-1.33,-1.05l1.69,-0.07zM487.4,522.8l0.59,1.59l1.69,0.07l-1.33,1.05l0.46,1.63l-1.41,-0.94l-1.41,0.94l0.46,-1.63l-1.33,-1.05l1.69,-0.07zM501.1,522.5l0.59,1.59l1.69,0.07l-1.33,1.05l0.46,1.63l-1.41,-0.94l-1.41,0.94l0.46,-1.63l-1.33,-1.05l1.69,-0.07zM501.1,513.9l0.59,1.59l1.69,0.07l-1.33,1.05l0.46,1.63l-1.41,-0.94l-1.41,0.94l0.46,-1.63l-1.33,-1.05l1.69,-0.07zM502.4,506.1l0.59,1.59l1.69,0.07l-1.33,1.05l0.46,1.63l-1.41,-0.94l-1.41,0.94l0.46,-1.63l-1.33,-1.05l1.69,-0.07zM498.5,513.8l0.59,1.59l1.69,0.07l-1.33,1.05l0.46,1.63l-1.41,-0.94l-1.41,0.94l0.46,-1.63l-1.33,-1.05l1.69,-0.07zM501.0,518.2l0.59,1.59l1.69,0.07l-1.33,1.05l0.46,1.63l-1.41,-0.94l-1.41,0.94l0.46,-1.63l-1.33,-1.05l1.69,-0.07zM499.6,519.3l0.59,1.59l1.69,0.07l-1.33,1.05l0.46,1.63l-1.41,-0.94l-1.41,0.94l0.46,-1.63l-1.33,-1.05l1.69,-0.07zM500.7,519.5l0.59,1.59l1.69,0.07l-1.33,1.05l0.46,1.63l-1.41,-0.94l-1.41,0.94l0.46,-1.63l-1.33,-1.05l1.69,-0.07zM477.9,518.7l0.59,1.59l1.69,0.07l-1.33,1.05l0.46,1.63l-1.41,-0.94l-1.41,0.94l0.46,-1.63l-1.33,-1.05l1.69,-0.07zM504.3,508.1l0.59,1.59l1.69,0.07l-1.33,1.05l0.46,1.63l-1.41,-0.94l-1.41,0.94l0.46,-1.63l-1.33,-1.05l1.69,-0.07zM502.8,510.6l0.59,1.59l1.69,0.07l-1.33,1.05l0.46,1.63l-1.41,-0.94l-1.41,0.94l0.46,-1.63l-1.33,-1.05l1.69,-0.07zM496.3,508.0l0.59,1.59l1.69,0.07l-1.33,1.05l0.46,1.63l-1.41,-0.94l-1.41,0.94l0.46,-1.63l-1.33,-1.05l1.69,-0.07zM503.6,524.0l0.59,1.59l1.69,0.07l-1.33,1.05l0.46,1.63l-1.41,-0.94l-1.41,0.94l0.46,-1.63l-1.33,-1.05l1.69,-0.07zM499.1,509.5l0.59,1.59l1.69,0.07l-1.33,1.05l0.46,1.63l-1.41,-0.94l-1.41,0.94l0.46,-1.63l-1.33,-1.05l1.69,-0.07zM504.1,519.5l0.59,1.59l1.69,0.07l-1.33,1.05l0.46,1.63l-1.41,-0.94l-1.41,0.94l0.46,-1.63l-1.33,-1.05l1.69,-0.07zM500.0,508.0l0.59,1.59l1.69,0.07l-1.33,1.05l0.46,1.63l-1.41,-0.94l-1.41,0.94l0.46,-1.63l-1.33,-1.05l1.69,-0.07zM501.4,481.2l0.59,1.59l1.69,0.07l-1.33,1.05l0.46,1.63l-1.41,-0.94l-1.41,0.94l0.46,-1.63l-1.33,-1.05l1.69,-0.07zM498.0,509.4l0.59,1.59l1.69,0.07l-1.33,1.05l0.46,1.63l-1.41,-0.94l-1.41,0.94l0.46,-1.63l-1.33,-1.05l1.69,-0.07zM502.6,496.1l0.59,1.59l1.69,0.07l-1.33,1.05l0.46,1.63l-1.41,-0.94l-1.41,0.94l0.46,-1.63l-1.33,-1.05l1.69,-0.07zM502.6,516.2l0.59,1.59l1.69,0.07l-1.33,1.05l0.46,1.63l-1.41,-0.94l-1.41,0.94l0.46,-1.63l-1.33,-1.05l1.69,-0.07zM495.7,495.6l0.59,1.59l1.69,0.07l-1.33,1.05l0.46,1.63l-1.41,-0.94l-1.41,0.94l0.46,-1.63l-1.33,-1.05l1.69,-0.07zM502.7,509.7l0.59,1.59l1.69,0.07l-1.33,1.05l0.46,1.63l-1.41,-0.94l-1.41,0.94l0.46,-1.63l-1.33,-1.05l1.69,-0.07zM494.9,514.6l0.59,1.59l1.69,0.07l-1.33,1.05l0.46,1.63l-1.41,-0.94l-1.41,0.94l0.46,-1.63l-1.33,-1.05l1.69,-0.07zM486.0,513.9l0.59,1.59l1.69,0.07l-1.33,1.05l0.46,1.63l-1.41,-0.94l-1.41,0.94l0.46,-1.63l-1.33,-1.05l1.69,-0.07zM504.7,519.9l0.59,1.59l1.69,0.07l-1.33,1.05l0.46,1.63l-1.41,-0.94l-1.41,0.94l0.46,-1.63l-1.33,-1.05l1.69,-0.07zM501.6,505.8l0.59,1.59l1.69,0.07l-1.33,1.05l0.46,1.63l-1.41,-0.94l-1.41,0.94l0.46,-1.63l-1.33,-1.05l1.69,-0.07zM499.5,521.6l0.59,1.59l1.69,0.07l-1.33,1.05l0.46,1.63l-1.41,-0.94l-1.41,0.94l0.46,-1.63l-1.33,-1.05l1.69,-0.07zM488.0,519.3l0.59,1.59l1.69,0.07l-1.33,1.05l0.46,1.63l-1.41,-0.94l-1.41,0.94l0.46,-1.63l-1.33,-1.05l1.69,-0.07zM501.3,518.9l0.59,1.59l1.69,0.07l-1.33,1.05l0.46,1.63l-1.41,-0.94l-1.41,0.94l0.46,-1.63l-1.33,-1.05l1.69,-0.07zM494.5,515.4l0.59,1.59l1.69,0.07l-1.33,1.05l0.46,1.63l-1.41,-0.94l-1.41,0.94l0.46,-1.63l-1.33,-1.05l1.69,-0.07zM501.4,508.1l0.59,1.59l1.69,0.07l-1.33,1.05l0.46,1.63l-1.41,-0.94l-1.41,0.94l0.46,-1.63l-1.33,-1.05l1.69,-0.07zM498.9,500.5l0.59,1.59l1.69,0.07l-1.33,1.05l0.46,1.63l-1.41,-0.94l-1.41,0.94l0.46,-1.63l-1.33,-1.05l1.69,-0.07zM490.0,515.5l0.59,1.59l1.69,0.07l-1.33,1.05l0.46,1.63l-1.41,-0.94l-1.41,0.94l0.46,-1.63l-1.33,-1.05l1.69,-0.07zM499.4,500.9l0.59,1.59l1.69,0.07l-1.33,1.05l0.46,1.63l-1.41,-0.94l-1.41,0.94l0.46,-1.63l-1.33,-1.05l1.69,-0.07zM499.2,516.2l0.59,1.59l1.69,0.07l-1.33,1.05l0.46,1.63l-1.41,-0.94l-1.41,0.94l0.46,-1.63l-1.33,-1.05l1.69,-0.07zM500.0,495.3l0.59,1.59l1.69,0.07l-1.33,1.05l0.46,1.63l-1.41,-0.94l-1.41,0.94l0.46,-1.63l-1.33,-1.05l1.69,-0.07zM499.1,519.3l0.59,1.59l1.69,0.07l-1.33,1.05l0.46,1.63l-1.41,-0.94l-1.41,0.94l0.46,-1.63l-1.33,-1.05l1.69,-0.07zM482.7,500.8l0.59,1.59l1.69,0.07l-1.33,1.05l0.46,1.63l-1.41,-0.94l-1.41,0.94l0.46,-1.63l-1.33,-1.05l1.69,-0.07zM589.4,511.8l0.59,1.59l1.69,0.07l-1.33,1.05l0.46,1.63l-1.41,-0.94l-1.41,0.94l0.46,-1.63l-1.33,-1.05l1.69,-0.07zM584.5,521.4l0.59,1.59l1.69,0.07l-1.33,1.05l0.46,1.63l-1.41,-0.94l-1.41,0.94l0.46,-1.63l-1.33,-1.05l1.69,-0.07zM587.9,518.3l0.59,1.59l1.69,0.07l-1.33,1.05l0.46,1.63l-1.41,-0.94l-1.41,0.94l0.46,-1.63l-1.33,-1.05l1.69,-0.07zM583.9,509.0l0.59,1.59l1.69,0.07l-1.33,1.05l0.46,1.63l-1.41,-0.94l-1.41,0.94l0.46,-1.63l-1.33,-1.05l1.69,-0.07zM582.5,523.6l0.59,1.59l1.69,0.07l-1.33,1.05l0.46,1.63l-1.41,-0.94l-1.41,0.94l0.46,-1.63l-1.33,-1.05l1.69,-0.07zM600.2,515.1l0.59,1.59l1.69,0.07l-1.33,1.05l0.46,1.63l-1.41,-0.94l-1.41,0.94l0.46,-1.63l-1.33,-1.05l1.69,-0.07zM584.0,511.7l0.59,1.59l1.69,0.07l-1.33,1.05l0.46,1.63l-1.41,-0.94l-1.41,0.94l0.46,-1.63l-1.33,-1.05l1.69,-0.07zM612.4,523.6l0.59,1.59l1.69,0.07l-1.33,1.05l0.46,1.63l-1.41,-0.94l-1.41,0.94l0.46,-1.63l-1.33,-1.05l1.69,-0.07zM584.2,518.1l0.59,1.59l1.69,0.07l-1.33,1.05l0.46,1.63l-1.41,-0.94l-1.41,0.94l0.46,-1.63l-1.33,-1.05l1.69,-0.07zM588.8,456.3l0.59,1.59l1.69,0.07l-1.33,1.05l0.46,1.63l-1.41,-0.94l-1.41,0.94l0.46,-1.63l-1.33,-1.05l1.69,-0.07zM595.0,515.6l0.59,1.59l1.69,0.07l-1.33,1.05l0.46,1.63l-1.41,-0.94l-1.41,0.94l0.46,-1.63l-1.33,-1.05l1.69,-0.07zM582.3,517.3l0.59,1.59l1.69,0.07l-1.33,1.05l0.46,1.63l-1.41,-0.94l-1.41,0.94l0.46,-1.63l-1.33,-1.05l1.69,-0.07zM583.4,509.1l0.59,1.59l1.69,0.07l-1.33,1.05l0.46,1.63l-1.41,-0.94l-1.41,0.94l0.46,-1.63l-1.33,-1.05l1.69,-0.07zM598.5,524.6l0.59,1.59l1.69,0.07l-1.33,1.05l0.46,1.63l-1.41,-0.94l-1.41,0.94l0.46,-1.63l-1.33,-1.05l1.69,-0.07zM598.5,499.3l0.59,1.59l1.69,0.07l-1.33,1.05l0.46,1.63l-1.41,-0.94l-1.41,0.94l0.46,-1.63l-1.33,-1.05l1.69,-0.07zM590.8,510.6l0.59,1.59l1.69,0.07l-1.33,1.05l0.46,1.63l-1.41,-0.94l-1.41,0.94l0.46,-1.63l-1.33,-1.05l1.69,-0.07zM605.7,501.0l0.59,1.59l1.69,0.07l-1.33,1.05l0.46,1.63l-1.41,-0.94l-1.41,0.94l0.46,-1.63l-1.33,-1.05l1.69,-0.07zM592.5,524.6l0.59,1.59l1.69,0.07l-1.33,1.05l0.46,1.63l-1.41,-0.94l-1.41,0.94l0.46,-1.63l-1.33,-1.05l1.69,-0.07zM582.9,516.0l0.59,1.59l1.69,0.07l-1.33,1.05l0.46,1.63l-1.41,-0.94l-1.41,0.94l0.46,-1.63l-1.33,-1.05l1.69,-0.07zM585.6,512.7l0.59,1.59l1.69,0.07l-1.33,1.05l0.46,1.63l-1.41,-0.94l-1.41,0.94l0.46,-1.63l-1.33,-1.05l1.69,-0.07zM582.6,504.1l0.59,1.59l1.69,0.07l-1.33,1.05l0.46,1.63l-1.41,-0.94l-1.41,0.94l0.46,-1.63l-1.33,-1.05l1.69,-0.07zM596.8,504.6l0.59,1.59l1.69,0.07l-1.33,1.05l0.46,1.63l-1.41,-0.94l-1.41,0.94l0.46,-1.63l-1.33,-1.05l1.69,-0.07zM588.2,514.7l0.59,1.59l1.69,0.07l-1.33,1.05l0.46,1.63l-1.41,-0.94l-1.41,0.94l0.46,-1.63l-1.33,-1.05l1.69,-0.07zM592.3,518.7l0.59,1.59l1.69,0.07l-1.33,1.05l0.46,1.63l-1.41,-0.94l-1.41,0.94l0.46,-1.63l-1.33,-1.05l1.69,-0.07zM591.6,508.4l0.59,1.59l1.69,0.07l-1.33,1.05l0.46,1.63l-1.41,-0.94l-1.41,0.94l0.46,-1.63l-1.33,-1.05l1.69,-0.07zM590.5,519.1l0.59,1.59l1.69,0.07l-1.33,1.05l0.46,1.63l-1.41,-0.94l-1.41,0.94l0.46,-1.63l-1.33,-1.05l1.69,-0.07zM582.5,512.4l0.59,1.59l1.69,0.07l-1.33,1.05l0.46,1.63l-1.41,-0.94l-1.41,0.94l0.46,-1.63l-1.33,-1.05l1.69,-0.07zM603.0,522.6l0.59,1.59l1.69,0.07l-1.33,1.05l0.46,1.63l-1.41,-0.94l-1.41,0.94l0.46,-1.63l-1.33,-1.05l1.69,-0.07zM594.6,505.7l0.59,1.59l1.69,0.07l-1.33,1.05l0.46,1.63l-1.41,-0.94l-1.41,0.94l0.46,-1.63l-1.33,-1.05l1.69,-0.07zM587.4,519.0l0.59,1.59l1.69,0.07l-1.33,1.05l0.46,1.63l-1.41,-0.94l-1.41,0.94l0.46,-1.63l-1.33,-1.05l1.69,-0.07zM595.1,515.6l0.59,1.59l1.69,0.07l-1.33,1.05l0.46,1.63l-1.41,-0.94l-1.41,0.94l0.46,-1.63l-1.33,-1.05l1.69,-0.07zM595.2,521.7l0.59,1.59l1.69,0.07l-1.33,1.05l0.46,1.63l-1.41,-0.94l-1.41,0.94l0.46,-1.63l-1.33,-1.05l1.69,-0.07zM596.6,514.7l0.59,1.59l1.69,0.07l-1.33,1.05l0.46,1.63l-1.41,-0.94l-1.41,0.94l0.46,-1.63l-1.33,-1.05l1.69,-0.07zM601.1,511.6l0.59,1.59l1.69,0.07l-1.33,1.05l0.46,1.63l-1.41,-0.94l-1.41,0.94l0.46,-1.63l-1.33,-1.05l1.69,-0.07zM587.1,519.1l0.59,1.59l1.69,0.07l-1.33,1.05l0.46,1.63l-1.41,-0.94l-1.41,0.94l0.46,-1.63l-1.33,-1.05l1.69,-0.07zM594.8,504.2l0.59,1.59l1.69,0.07l-1.33,1.05l0.46,1.63l-1.41,-0.94l-1.41,0.94l0.46,-1.63l-1.33,-1.05l1.69,-0.07zM583.1,514.6l0.59,1.59l1.69,0.07l-1.33,1.05l0.46,1.63l-1.41,-0.94l-1.41,0.94l0.46,-1.63l-1.33,-1.05l1.69,-0.07zM584.1,516.3l0.59,1.59l1.69,0.07l-1.33,1.05l0.46,1.63l-1.41,-0.94l-1.41,0.94l0.46,-1.63l-1.33,-1.05l1.69,-0.07zM607.3,514.4l0.59,1.59l1.69,0.07l-1.33,1.05l0.46,1.63l-1.41,-0.94l-1.41,0.94l0.46,-1.63l-1.33,-1.05l1.69,-0.07zM582.4,509.1l0.59,1.59l1.69,0.07l-1.33,1.05l0.46,1.63l-1.41,-0.94l-1.41,0.94l0.46,-1.63l-1.33,-1.05l1.69,-0.07zM585.4,520.6l0.59,1.59l1.69,0.07l-1.33,1.05l0.46,1.63l-1.41,-0.94l-1.41,0.94l0.46,-1.63l-1.33,-1.05l1.69,-0.07zM589.2,517.8l0.59,1.59l1.69,0.07l-1.33,1.05l0.46,1.63l-1.41,-0.94l-1.41,0.94l0.46,-1.63l-1.33,-1.05l1.69,-0.07zM591.7,524.1l0.59,1.59l1.69,0.07l-1.33,1.05l0.46,1.63l-1.41,-0.94l-1.41,0.94l0.46,-1.63l-1.33,-1.05l1.69,-0.07zM608.0,495.5l0.59,1.59l1.69,0.07l-1.33,1.05l0.46,1.63l-1.41,-0.94l-1.41,0.94l0.46,-1.63l-1.33,-1.05l1.69,-0.07zM616.1,501.4l0.59,1.59l1.69,0.07l-1.33,1.05l0.46,1.63l-1.41,-0.94l-1.41,0.94l0.46,-1.63l-1.33,-1.05l1.69,-0.07zM583.0,518.7l0.59,1.59l1.69,0.07l-1.33,1.05l0.46,1.63l-1.41,-0.94l-1.41,0.94l0.46,-1.63l-1.33,-1.05l1.69,-0.07zM589.2,517.8l0.59,1.59l1.69,0.07l-1.33,1.05l0.46,1.63l-1.41,-0.94l-1.41,0.94l0.46,-1.63l-1.33,-1.05l1.69,-0.07zM594.2,512.7l0.59,1.59l1.69,0.07l-1.33,1.05l0.46,1.63l-1.41,-0.94l-1.41,0.94l0.46,-1.63l-1.33,-1.05l1.69,-0.07zM586.1,524.4l0.59,1.59l1.69,0.07l-1.33,1.05l0.46,1.63l-1.41,-0.94l-1.41,0.94l0.46,-1.63l-1.33,-1.05l1.69,-0.07zM583.1,521.0l0.59,1.59l1.69,0.07l-1.33,1.05l0.46,1.63l-1.41,-0.94l-1.41,0.94l0.46,-1.63l-1.33,-1.05l1.69,-0.07zM583.8,497.4l0.59,1.59l1.69,0.07l-1.33,1.05l0.46,1.63l-1.41,-0.94l-1.41,0.94l0.46,-1.63l-1.33,-1.05l1.69,-0.07zM585.1,520.6l0.59,1.59l1.69,0.07l-1.33,1.05l0.46,1.63l-1.41,-0.94l-1.41,0.94l0.46,-1.63l-1.33,-1.05l1.69,-0.07zM588.7,516.4l0.59,1.59l1.69,0.07l-1.33,1.05l0.46,1.63l-1.41,-0.94l-1.41,0.94l0.46,-1.63l-1.33,-1.05l1.69,-0.07zM591.0,520.9l0.59,1.59l1.69,0.07l-1.33,1.05l0.46,1.63l-1.41,-0.94l-1.41,0.94l0.46,-1.63l-1.33,-1.05l1.69,-0.07zM587.3,499.0l0.59,1.59l1.69,0.07l-1.33,1.05l0.46,1.63l-1.41,-0.94l-1.41,0.94l0.46,-1.63l-1.33,-1.05l1.69,-0.07zM587.4,510.7l0.59,1.59l1.69,0.07l-1.33,1.05l0.46,1.63l-1.41,-0.94l-1.41,0.94l0.46,-1.63l-1.33,-1.05l1.69,-0.07zM592.2,523.2l0.59,1.59l1.69,0.07l-1.33,1.05l0.46,1.63l-1.41,-0.94l-1.41,0.94l0.46,-1.63l-1.33,-1.05l1.69,-0.07zM591.7,520.8l0.59,1.59l1.69,0.07l-1.33,1.05l0.46,1.63l-1.41,-0.94l-1.41,0.94l0.46,-1.63l-1.33,-1.05l1.69,-0.07zM596.7,522.6l0.59,1.59l1.69,0.07l-1.33,1.05l0.46,1.63l-1.41,-0.94l-1.41,0.94l0.46,-1.63l-1.33,-1.05l1.69,-0.07zM615.9,522.6l0.59,1.59l1.69,0.07l-1.33,1.05l0.46,1.63l-1.41,-0.94l-1.41,0.94l0.46,-1.63l-1.33,-1.05l1.69,-0.07zM584.0,495.9l0.59,1.59l1.69,0.07l-1.33,1.05l0.46,1.63l-1.41,-0.94l-1.41,0.94l0.46,-1.63l-1.33,-1.05l1.69,-0.07zM599.7,524.1l0.59,1.59l1.69,0.07l-1.33,1.05l0.46,1.63l-1.41,-0.94l-1.41,0.94l0.46,-1.63l-1.33,-1.05l1.69,-0.07zM588.8,511.6l0.59,1.59l1.69,0.07l-1.33,1.05l0.46,1.63l-1.41,-0.94l-1.41,0.94l0.46,-1.63l-1.33,-1.05l1.69,-0.07zM587.5,511.6l0.59,1.59l1.69,0.07l-1.33,1.05l0.46,1.63l-1.41,-0.94l-1.41,0.94l0.46,-1.63l-1.33,-1.05l1.69,-0.07zM583.4,523.2l0.59,1.59l1.69,0.07l-1.33,1.05l0.46,1.63l-1.41,-0.94l-1.41,0.94l0.46,-1.63l-1.33,-1.05l1.69,-0.07zM586.4,510.7l0.59,1.59l1.69,0.07l-1.33,1.05l0.46,1.63l-1.41,-0.94l-1.41,0.94l0.46,-1.63l-1.33,-1.05l1.69,-0.07zM587.9,507.9l0.59,1.59l1.69,0.07l-1.33,1.05l0.46,1.63l-1.41,-0.94l-1.41,0.94l0.46,-1.63l-1.33,-1.05l1.69,-0.07zM585.7,517.2l0.59,1.59l1.69,0.07l-1.33,1.05l0.46,1.63l-1.41,-0.94l-1.41,0.94l0.46,-1.63l-1.33,-1.05l1.69,-0.07zM593.2,505.1l0.59,1.59l1.69,0.07l-1.33,1.05l0.46,1.63l-1.41,-0.94l-1.41,0.94l0.46,-1.63l-1.33,-1.05l1.69,-0.07zM594.6,521.6l0.59,1.59l1.69,0.07l-1.33,1.05l0.46,1.63l-1.41,-0.94l-1.41,0.94l0.46,-1.63l-1.33,-1.05l1.69,-0.07zM585.5,522.1l0.59,1.59l1.69,0.07l-1.33,1.05l0.46,1.63l-1.41,-0.94l-1.41,0.94l0.46,-1.63l-1.33,-1.05l1.69,-0.07zM592.5,519.1l0.59,1.59l1.69,0.07l-1.33,1.05l0.46,1.63l-1.41,-0.94l-1.41,0.94l0.46,-1.63l-1.33,-1.05l1.69,-0.07zM582.7,521.5l0.59,1.59l1.69,0.07l-1.33,1.05l0.46,1.63l-1.41,-0.94l-1.41,0.94l0.46,-1.63l-1.33,-1.05l1.69,-0.07zM583.2,523.1l0.59,1.59l1.69,0.07l-1.33,1.05l0.46,1.63l-1.41,-0.94l-1.41,0.94l0.46,-1.63l-1.33,-1.05l1.69,-0.07zM588.4,495.0l0.59,1.59l1.69,0.07l-1.33,1.05l0.46,1.63l-1.41,-0.94l-1.41,0.94l0.46,-1.63l-1.33,-1.05l1.69,-0.07zM586.9,513.1l0.59,1.59l1.69,0.07l-1.33,1.05l0.46,1.63l-1.41,-0.94l-1.41,0.94l0.46,-1.63l-1.33,-1.05l1.69,-0.07zM585.9,481.7l0.59,1.59l1.69,0.07l-1.33,1.05l0.46,1.63l-1.41,-0.94l-1.41,0.94l0.46,-1.63l-1.33,-1.05l1.69,-0.07zM591.1,521.2l0.59,1.59l1.69,0.07l-1.33,1.05l0.46,1.63l-1.41,-0.94l-1.41,0.94l0.46,-1.63l-1.33,-1.05l1.69,-0.07zM594.9,521.8l0.59,1.59l1.69,0.07l-1.33,1.05l0.46,1.63l-1.41,-0.94l-1.41,0.94l0.46,-1.63l-1.33,-1.05l1.69,-0.07zM586.0,522.3l0.59,1.59l1.69,0.07l-1.33,1.05l0.46,1.63l-1.41,-0.94l-1.41,0.94l0.46,-1.63l-1.33,-1.05l1.69,-0.07zM592.1,519.1l0.59,1.59l1.69,0.07l-1.33,1.05l0.46,1.63l-1.41,-0.94l-1.41,0.94l0.46,-1.63l-1.33,-1.05l1.69,-0.07zM597.3,523.3l0.59,1.59l1.69,0.07l-1.33,1.05l0.46,1.63l-1.41,-0.94l-1.41,0.94l0.46,-1.63l-1.33,-1.05l1.69,-0.07zM597.3,513.8l0.59,1.59l1.69,0.07l-1.33,1.05l0.46,1.63l-1.41,-0.94l-1.41,0.94l0.46,-1.63l-1.33,-1.05l1.69,-0.07zM589.5,522.8l0.59,1.59l1.69,0.07l-1.33,1.05l0.46,1.63l-1.41,-0.94l-1.41,0.94l0.46,-1.63l-1.33,-1.05l1.69,-0.07zM583.8,493.8l0.59,1.59l1.69,0.07l-1.33,1.05l0.46,1.63l-1.41,-0.94l-1.41,0.94l0.46,-1.63l-1.33,-1.05l1.69,-0.07zM590.0,508.0l0.59,1.59l1.69,0.07l-1.33,1.05l0.46,1.63l-1.41,-0.94l-1.41,0.94l0.46,-1.63l-1.33,-1.05l1.69,-0.07zM582.7,521.7l0.59,1.59l1.69,0.07l-1.33,1.05l0.46,1.63l-1.41,-0.94l-1.41,0.94l0.46,-1.63l-1.33,-1.05l1.69,-0.07zM595.0,478.6l0.59,1.59l1.69,0.07l-1.33,1.05l0.46,1.63l-1.41,-0.94l-1.41,0.94l0.46,-1.63l-1.33,-1.05l1.69,-0.07zM583.2,504.9l0.59,1.59l1.69,0.07l-1.33,1.05l0.46,1.63l-1.41,-0.94l-1.41,0.94l0.46,-1.63l-1.33,-1.05l1.69,-0.07zM586.9,484.9l0.59,1.59l1.69,0.07l-1.33,1.05l0.46,1.63l-1.41,-0.94l-1.41,0.94l0.46,-1.63l-1.33,-1.05l1.69,-0.07zM582.6,507.5l0.59,1.59l1.69,0.07l-1.33,1.05l0.46,1.63l-1.41,-0.94l-1.41,0.94l0.46,-1.63l-1.33,-1.05l1.69,-0.07zM590.9,523.6l0.59,1.59l1.69,0.07l-1.33,1.05l0.46,1.63l-1.41,-0.94l-1.41,0.94l0.46,-1.63l-1.33,-1.05l1.69,-0.07zM598.2,523.3l0.59,1.59l1.69,0.07l-1.33,1.05l0.46,1.63l-1.41,-0.94l-1.41,0.94l0.46,-1.63l-1.33,-1.05l1.69,-0.07zM584.2,518.8l0.59,1.59l1.69,0.07l-1.33,1.05l0.46,1.63l-1.41,-0.94l-1.41,0.94l0.46,-1.63l-1.33,-1.05l1.69,-0.07zM608.3,518.6l0.59,1.59l1.69,0.07l-1.33,1.05l0.46,1.63l-1.41,-0.94l-1.41,0.94l0.46,-1.63l-1.33,-1.05l1.69,-0.07zM598.9,514.0l0.59,1.59l1.69,0.07l-1.33,1.05l0.46,1.63l-1.41,-0.94l-1.41,0.94l0.46,-1.63l-1.33,-1.05l1.69,-0.07zM589.2,522.9l0.59,1.59l1.69,0.07l-1.33,1.05l0.46,1.63l-1.41,-0.94l-1.41,0.94l0.46,-1.63l-1.33,-1.05l1.69,-0.07zM593.3,523.8l0.59,1.59l1.69,0.07l-1.33,1.05l0.46,1.63l-1.41,-0.94l-1.41,0.94l0.46,-1.63l-1.33,-1.05l1.69,-0.07zM587.6,506.4l0.59,1.59l1.69,0.07l-1.33,1.05l0.46,1.63l-1.41,-0.94l-1.41,0.94l0.46,-1.63l-1.33,-1.05l1.69,-0.07zM582.5,523.1l0.59,1.59l1.69,0.07l-1.33,1.05l0.46,1.63l-1.41,-0.94l-1.41,0.94l0.46,-1.63l-1.33,-1.05l1.69,-0.07zM592.9,518.0l0.59,1.59l1.69,0.07l-1.33,1.05l0.46,1.63l-1.41,-0.94l-1.41,0.94l0.46,-1.63l-1.33,-1.05l1.69,-0.07zM589.4,506.5l0.59,1.59l1.69,0.07l-1.33,1.05l0.46,1.63l-1.41,-0.94l-1.41,0.94l0.46,-1.63l-1.33,-1.05l1.69,-0.07zM591.1,521.2l0.59,1.59l1.69,0.07l-1.33,1.05l0.46,1.63l-1.41,-0.94l-1.41,0.94l0.46,-1.63l-1.33,-1.05l1.69,-0.07zM608.0,517.0l0.59,1.59l1.69,0.07l-1.33,1.05l0.46,1.63l-1.41,-0.94l-1.41,0.94l0.46,-1.63l-1.33,-1.05l1.69,-0.07zM611.8,513.2l0.59,1.59l1.69,0.07l-1.33,1.05l0.46,1.63l-1.41,-0.94l-1.41,0.94l0.46,-1.63l-1.33,-1.05l1.69,-0.07zM594.3,516.0l0.59,1.59l1.69,0.07l-1.33,1.05l0.46,1.63l-1.41,-0.94l-1.41,0.94l0.46,-1.63l-1.33,-1.05l1.69,-0.07zM597.2,522.3l0.59,1.59l1.69,0.07l-1.33,1.05l0.46,1.63l-1.41,-0.94l-1.41,0.94l0.46,-1.63l-1.33,-1.05l1.69,-0.07zM585.6,510.5l0.59,1.59l1.69,0.07l-1.33,1.05l0.46,1.63l-1.41,-0.94l-1.41,0.94l0.46,-1.63l-1.33,-1.05l1.69,-0.07zM593.8,514.2l0.59,1.59l1.69,0.07l-1.33,1.05l0.46,1.63l-1.41,-0.94l-1.41,0.94l0.46,-1.63l-1.33,-1.05l1.69,-0.07zM608.3,523.6l0.59,1.59l1.69,0.07l-1.33,1.05l0.46,1.63l-1.41,-0.94l-1.41,0.94l0.46,-1.63l-1.33,-1.05l1.69,-0.07zM583.1,516.1l0.59,1.59l1.69,0.07l-1.33,1.05l0.46,1.63l-1.41,-0.94l-1.41,0.94l0.46,-1.63l-1.33,-1.05l1.69,-0.07zM591.6,517.8l0.59,1.59l1.69,0.07l-1.33,1.05l0.46,1.63l-1.41,-0.94l-1.41,0.94l0.46,-1.63l-1.33,-1.05l1.69,-0.07zM611.3,517.1l0.59,1.59l1.69,0.07l-1.33,1.05l0.46,1.63l-1.41,-0.94l-1.41,0.94l0.46,-1.63l-1.33,-1.05l1.69,-0.07zM588.8,520.2l0.59,1.59l1.69,0.07l-1.33,1.05l0.46,1.63l-1.41,-0.94l-1.41,0.94l0.46,-1.63l-1.33,-1.05l1.69,-0.07zM584.2,524.3l0.59,1.59l1.69,0.07l-1.33,1.05l0.46,1.63l-1.41,-0.94l-1.41,0.94l0.46,-1.63l-1.33,-1.05l1.69,-0.07zM586.0,512.8l0.59,1.59l1.69,0.07l-1.33,1.05l0.46,1.63l-1.41,-0.94l-1.41,0.94l0.46,-1.63l-1.33,-1.05l1.69,-0.07zM584.7,523.3l0.59,1.59l1.69,0.07l-1.33,1.05l0.46,1.63l-1.41,-0.94l-1.41,0.94l0.46,-1.63l-1.33,-1.05l1.69,-0.07zM587.4,509.7l0.59,1.59l1.69,0.07l-1.33,1.05l0.46,1.63l-1.41,-0.94l-1.41,0.94l0.46,-1.63l-1.33,-1.05l1.69,-0.07zM587.3,524.3l0.59,1.59l1.69,0.07l-1.33,1.05l0.46,1.63l-1.41,-0.94l-1.41,0.94l0.46,-1.63l-1.33,-1.05l1.69,-0.07zM608.6,516.7l0.59,1.59l1.69,0.07l-1.33,1.05l0.46,1.63l-1.41,-0.94l-1.41,0.94l0.46,-1.63l-1.33,-1.05l1.69,-0.07zM606.2,519.8l0.59,1.59l1.69,0.07l-1.33,1.05l0.46,1.63l-1.41,-0.94l-1.41,0.94l0.46,-1.63l-1.33,-1.05l1.69,-0.07zM584.1,517.9l0.59,1.59l1.69,0.07l-1.33,1.05l0.46,1.63l-1.41,-0.94l-1.41,0.94l0.46,-1.63l-1.33,-1.05l1.69,-0.07zM599.0,482.1l0.59,1.59l1.69,0.07l-1.33,1.05l0.46,1.63l-1.41,-0.94l-1.41,0.94l0.46,-1.63l-1.33,-1.05l1.69,-0.07zM583.9,516.9l0.59,1.59l1.69,0.07l-1.33,1.05l0.46,1.63l-1.41,-0.94l-1.41,0.94l0.46,-1.63l-1.33,-1.05l1.69,-0.07zM583.6,523.0l0.59,1.59l1.69,0.07l-1.33,1.05l0.46,1.63l-1.41,-0.94l-1.41,0.94l0.46,-1.63l-1.33,-1.05l1.69,-0.07zM585.1,522.8l0.59,1.59l1.69,0.07l-1.33,1.05l0.46,1.63l-1.41,-0.94l-1.41,0.94l0.46,-1.63l-1.33,-1.05l1.69,-0.07zM585.3,521.6l0.59,1.59l1.69,0.07l-1.33,1.05l0.46,1.63l-1.41,-0.94l-1.41,0.94l0.46,-1.63l-1.33,-1.05l1.69,-0.07zM587.2,522.7l0.59,1.59l1.69,0.07l-1.33,1.05l0.46,1.63l-1.41,-0.94l-1.41,0.94l0.46,-1.63l-1.33,-1.05l1.69,-0.07zM592.9,516.8l0.59,1.59l1.69,0.07l-1.33,1.05l0.46,1.63l-1.41,-0.94l-1.41,0.94l0.46,-1.63l-1.33,-1.05l1.69,-0.07zM587.6,524.6l0.59,1.59l1.69,0.07l-1.33,1.05l0.46,1.63l-1.41,-0.94l-1.41,0.94l0.46,-1.63l-1.33,-1.05l1.69,-0.07zM585.5,520.6l0.59,1.59l1.69,0.07l-1.33,1.05l0.46,1.63l-1.41,-0.94l-1.41,0.94l0.46,-1.63l-1.33,-1.05l1.69,-0.07zM583.0,512.7l0.59,1.59l1.69,0.07l-1.33,1.05l0.46,1.63l-1.41,-0.94l-1.41,0.94l0.46,-1.63l-1.33,-1.05l1.69,-0.07zM594.5,524.3l0.59,1.59l1.69,0.07l-1.33,1.05l0.46,1.63l-1.41,-0.94l-1.41,0.94l0.46,-1.63l-1.33,-1.05l1.69,-0.07zM587.1,509.7l0.59,1.59l1.69,0.07l-1.33,1.05l0.46,1.63l-1.41,-0.94l-1.41,0.94l0.46,-1.63l-1.33,-1.05l1.69,-0.07zM583.2,493.3l0.59,1.59l1.69,0.07l-1.33,1.05l0.46,1.63l-1.41,-0.94l-1.41,0.94l0.46,-1.63l-1.33,-1.05l1.69,-0.07zM587.1,517.4l0.59,1.59l1.69,0.07l-1.33,1.05l0.46,1.63l-1.41,-0.94l-1.41,0.94l0.46,-1.63l-1.33,-1.05l1.69,-0.07zM587.6,521.9l0.59,1.59l1.69,0.07l-1.33,1.05l0.46,1.63l-1.41,-0.94l-1.41,0.94l0.46,-1.63l-1.33,-1.05l1.69,-0.07zM592.1,492.0l0.59,1.59l1.69,0.07l-1.33,1.05l0.46,1.63l-1.41,-0.94l-1.41,0.94l0.46,-1.63l-1.33,-1.05l1.69,-0.07zM588.9,504.7l0.59,1.59l1.69,0.07l-1.33,1.05l0.46,1.63l-1.41,-0.94l-1.41,0.94l0.46,-1.63l-1.33,-1.05l1.69,-0.07zM589.8,519.9l0.59,1.59l1.69,0.07l-1.33,1.05l0.46,1.63l-1.41,-0.94l-1.41,0.94l0.46,-1.63l-1.33,-1.05l1.69,-0.07zM585.5,520.1l0.59,1.59l1.69,0.07l-1.33,1.05l0.46,1.63l-1.41,-0.94l-1.41,0.94l0.46,-1.63l-1.33,-1.05l1.69,-0.07zM596.9,510.6l0.59,1.59l1.69,0.07l-1.33,1.05l0.46,1.63l-1.41,-0.94l-1.41,0.94l0.46,-1.63l-1.33,-1.05l1.69,-0.07zM601.1,508.4l0.59,1.59l1.69,0.07l-1.33,1.05l0.46,1.63l-1.41,-0.94l-1.41,0.94l0.46,-1.63l-1.33,-1.05l1.69,-0.07zM601.0,519.9l0.59,1.59l1.69,0.07l-1.33,1.05l0.46,1.63l-1.41,-0.94l-1.41,0.94l0.46,-1.63l-1.33,-1.05l1.69,-0.07zM595.1,506.8l0.59,1.59l1.69,0.07l-1.33,1.05l0.46,1.63l-1.41,-0.94l-1.41,0.94l0.46,-1.63l-1.33,-1.05l1.69,-0.07zM588.7,524.1l0.59,1.59l1.69,0.07l-1.33,1.05l0.46,1.63l-1.41,-0.94l-1.41,0.94l0.46,-1.63l-1.33,-1.05l1.69,-0.07zM586.9,522.0l0.59,1.59l1.69,0.07l-1.33,1.05l0.46,1.63l-1.41,-0.94l-1.41,0.94l0.46,-1.63l-1.33,-1.05l1.69,-0.07zM594.4,522.1l0.59,1.59l1.69,0.07l-1.33,1.05l0.46,1.63l-1.41,-0.94l-1.41,0.94l0.46,-1.63l-1.33,-1.05l1.69,-0.07zM584.6,510.0l0.59,1.59l1.69,0.07l-1.33,1.05l0.46,1.63l-1.41,-0.94l-1.41,0.94l0.46,-1.63l-1.33,-1.05l1.69,-0.07zM593.8,514.6l0.59,1.59l1.69,0.07l-1.33,1.05l0.46,1.63l-1.41,-0.94l-1.41,0.94l0.46,-1.63l-1.33,-1.05l1.69,-0.07zM594.8,512.6l0.59,1.59l1.69,0.07l-1.33,1.05l0.46,1.63l-1.41,-0.94l-1.41,0.94l0.46,-1.63l-1.33,-1.05l1.69,-0.07zM590.4,520.6l0.59,1.59l1.69,0.07l-1.33,1.05l0.46,1.63l-1.41,-0.94l-1.41,0.94l0.46,-1.63l-1.33,-1.05l1.69,-0.07zM585.2,506.8l0.59,1.59l1.69,0.07l-1.33,1.05l0.46,1.63l-1.41,-0.94l-1.41,0.94l0.46,-1.63l-1.33,-1.05l1.69,-0.07zM601.8,520.9l0.59,1.59l1.69,0.07l-1.33,1.05l0.46,1.63l-1.41,-0.94l-1.41,0.94l0.46,-1.63l-1.33,-1.05l1.69,-0.07zM587.4,521.7l0.59,1.59l1.69,0.07l-1.33,1.05l0.46,1.63l-1.41,-0.94l-1.41,0.94l0.46,-1.63l-1.33,-1.05l1.69,-0.07zM588.1,515.3l0.59,1.59l1.69,0.07l-1.33,1.05l0.46,1.63l-1.41,-0.94l-1.41,0.94l0.46,-1.63l-1.33,-1.05l1.69,-0.07zM620.3,514.5l0.59,1.59l1.69,0.07l-1.33,1.05l0.46,1.63l-1.41,-0.94l-1.41,0.94l0.46,-1.63l-1.33,-1.05l1.69,-0.07zM590.3,520.0l0.59,1.59l1.69,0.07l-1.33,1.05l0.46,1.63l-1.41,-0.94l-1.41,0.94l0.46,-1.63l-1.33,-1.05l1.69,-0.07zM588.8,522.2l0.59,1.59l1.69,0.07l-1.33,1.05l0.46,1.63l-1.41,-0.94l-1.41,0.94l0.46,-1.63l-1.33,-1.05l1.69,-0.07zM597.0,523.9l0.59,1.59l1.69,0.07l-1.33,1.05l0.46,1.63l-1.41,-0.94l-1.41,0.94l0.46,-1.63l-1.33,-1.05l1.69,-0.07zM586.1,498.4l0.59,1.59l1.69,0.07l-1.33,1.05l0.46,1.63l-1.41,-0.94l-1.41,0.94l0.46,-1.63l-1.33,-1.05l1.69,-0.07zM601.7,505.3l0.59,1.59l1.69,0.07l-1.33,1.05l0.46,1.63l-1.41,-0.94l-1.41,0.94l0.46,-1.63l-1.33,-1.05l1.69,-0.07zM582.8,509.2l0.59,1.59l1.69,0.07l-1.33,1.05l0.46,1.63l-1.41,-0.94l-1.41,0.94l0.46,-1.63l-1.33,-1.05l1.69,-0.07zM585.5,514.8l0.59,1.59l1.69,0.07l-1.33,1.05l0.46,1.63l-1.41,-0.94l-1.41,0.94l0.46,-1.63l-1.33,-1.05l1.69,-0.07zM616.4,519.2l0.59,1.59l1.69,0.07l-1.33,1.05l0.46,1.63l-1.41,-0.94l-1.41,0.94l0.46,-1.63l-1.33,-1.05l1.69,-0.07zM609.0,511.8l0.59,1.59l1.69,0.07l-1.33,1.05l0.46,1.63l-1.41,-0.94l-1.41,0.94l0.46,-1.63l-1.33,-1.05l1.69,-0.07zM583.4,492.2l0.59,1.59l1.69,0.07l-1.33,1.05l0.46,1.63l-1.41,-0.94l-1.41,0.94l0.46,-1.63l-1.33,-1.05l1.69,-0.07zM601.2,518.9l0.59,1.59l1.69,0.07l-1.33,1.05l0.46,1.63l-1.41,-0.94l-1.41,0.94l0.46,-1.63l-1.33,-1.05l1.69,-0.07zM591.5,519.0l0.59,1.59l1.69,0.07l-1.33,1.05l0.46,1.63l-1.41,-0.94l-1.41,0.94l0.46,-1.63l-1.33,-1.05l1.69,-0.07zM585.8,515.5l0.59,1.59l1.69,0.07l-1.33,1.05l0.46,1.63l-1.41,-0.94l-1.41,0.94l0.46,-1.63l-1.33,-1.05l1.69,-0.07zM589.2,523.0l0.59,1.59l1.69,0.07l-1.33,1.05l0.46,1.63l-1.41,-0.94l-1.41,0.94l0.46,-1.63l-1.33,-1.05l1.69,-0.07zM585.1,523.0l0.59,1.59l1.69,0.07l-1.33,1.05l0.46,1.63l-1.41,-0.94l-1.41,0.94l0.46,-1.63l-1.33,-1.05l1.69,-0.07zM586.6,517.6l0.59,1.59l1.69,0.07l-1.33,1.05l0.46,1.63l-1.41,-0.94l-1.41,0.94l0.46,-1.63l-1.33,-1.05l1.69,-0.07zM598.6,508.1l0.59,1.59l1.69,0.07l-1.33,1.05l0.46,1.63l-1.41,-0.94l-1.41,0.94l0.46,-1.63l-1.33,-1.05l1.69,-0.07zM591.2,520.3l0.59,1.59l1.69,0.07l-1.33,1.05l0.46,1.63l-1.41,-0.94l-1.41,0.94l0.46,-1.63l-1.33,-1.05l1.69,-0.07zM583.2,523.4l0.59,1.59l1.69,0.07l-1.33,1.05l0.46,1.63l-1.41,-0.94l-1.41,0.94l0.46,-1.63l-1.33,-1.05l1.69,-0.07zM592.9,520.0l0.59,1.59l1.69,0.07l-1.33,1.05l0.46,1.63l-1.41,-0.94l-1.41,0.94l0.46,-1.63l-1.33,-1.05l1.69,-0.07zM584.9,511.4l0.59,1.59l1.69,0.07l-1.33,1.05l0.46,1.63l-1.41,-0.94l-1.41,0.94l0.46,-1.63l-1.33,-1.05l1.69,-0.07zM584.1,522.5l0.59,1.59l1.69,0.07l-1.33,1.05l0.46,1.63l-1.41,-0.94l-1.41,0.94l0.46,-1.63l-1.33,-1.05l1.69,-0.07zM585.7,520.2l0.59,1.59l1.69,0.07l-1.33,1.05l0.46,1.63l-1.41,-0.94l-1.41,0.94l0.46,-1.63l-1.33,-1.05l1.69,-0.07zM582.4,514.4l0.59,1.59l1.69,0.07l-1.33,1.05l0.46,1.63l-1.41,-0.94l-1.41,0.94l0.46,-1.63l-1.33,-1.05l1.69,-0.07zM584.7,524.1l0.59,1.59l1.69,0.07l-1.33,1.05l0.46,1.63l-1.41,-0.94l-1.41,0.94l0.46,-1.63l-1.33,-1.05l1.69,-0.07zM586.7,493.4l0.59,1.59l1.69,0.07l-1.33,1.05l0.46,1.63l-1.41,-0.94l-1.41,0.94l0.46,-1.63l-1.33,-1.05l1.69,-0.07zM596.9,510.1l0.59,1.59l1.69,0.07l-1.33,1.05l0.46,1.63l-1.41,-0.94l-1.41,0.94l0.46,-1.63l-1.33,-1.05l1.69,-0.07zM601.1,521.7l0.59,1.59l1.69,0.07l-1.33,1.05l0.46,1.63l-1.41,-0.94l-1.41,0.94l0.46,-1.63l-1.33,-1.05l1.69,-0.07zM608.4,517.1l0.59,1.59l1.69,0.07l-1.33,1.05l0.46,1.63l-1.41,-0.94l-1.41,0.94l0.46,-1.63l-1.33,-1.05l1.69,-0.07zM591.5,514.7l0.59,1.59l1.69,0.07l-1.33,1.05l0.46,1.63l-1.41,-0.94l-1.41,0.94l0.46,-1.63l-1.33,-1.05l1.69,-0.07zM589.6,522.9l0.59,1.59l1.69,0.07l-1.33,1.05l0.46,1.63l-1.41,-0.94l-1.41,0.94l0.46,-1.63l-1.33,-1.05l1.69,-0.07zM591.8,524.4l0.59,1.59l1.69,0.07l-1.33,1.05l0.46,1.63l-1.41,-0.94l-1.41,0.94l0.46,-1.63l-1.33,-1.05l1.69,-0.07zM588.4,524.4l0.59,1.59l1.69,0.07l-1.33,1.05l0.46,1.63l-1.41,-0.94l-1.41,0.94l0.46,-1.63l-1.33,-1.05l1.69,-0.07zM587.7,524.2l0.59,1.59l1.69,0.07l-1.33,1.05l0.46,1.63l-1.41,-0.94l-1.41,0.94l0.46,-1.63l-1.33,-1.05l1.69,-0.07zM596.4,522.5l0.59,1.59l1.69,0.07l-1.33,1.05l0.46,1.63l-1.41,-0.94l-1.41,0.94l0.46,-1.63l-1.33,-1.05l1.69,-0.07zM596.4,523.9l0.59,1.59l1.69,0.07l-1.33,1.05l0.46,1.63l-1.41,-0.94l-1.41,0.94l0.46,-1.63l-1.33,-1.05l1.69,-0.07zM599.8,512.9l0.59,1.59l1.69,0.07l-1.33,1.05l0.46,1.63l-1.41,-0.94l-1.41,0.94l0.46,-1.63l-1.33,-1.05l1.69,-0.07zM586.2,486.6l0.59,1.59l1.69,0.07l-1.33,1.05l0.46,1.63l-1.41,-0.94l-1.41,0.94l0.46,-1.63l-1.33,-1.05l1.69,-0.07zM586.4,507.8l0.59,1.59l1.69,0.07l-1.33,1.05l0.46,1.63l-1.41,-0.94l-1.41,0.94l0.46,-1.63l-1.33,-1.05l1.69,-0.07zM582.6,521.9l0.59,1.59l1.69,0.07l-1.33,1.05l0.46,1.63l-1.41,-0.94l-1.41,0.94l0.46,-1.63l-1.33,-1.05l1.69,-0.07zM583.2,517.2l0.59,1.59l1.69,0.07l-1.33,1.05l0.46,1.63l-1.41,-0.94l-1.41,0.94l0.46,-1.63l-1.33,-1.05l1.69,-0.07zM587.6,492.8l0.59,1.59l1.69,0.07l-1.33,1.05l0.46,1.63l-1.41,-0.94l-1.41,0.94l0.46,-1.63l-1.33,-1.05l1.69,-0.07zM595.4,506.0l0.59,1.59l1.69,0.07l-1.33,1.05l0.46,1.63l-1.41,-0.94l-1.41,0.94l0.46,-1.63l-1.33,-1.05l1.69,-0.07zM594.4,521.7l0.59,1.59l1.69,0.07l-1.33,1.05l0.46,1.63l-1.41,-0.94l-1.41,0.94l0.46,-1.63l-1.33,-1.05l1.69,-0.07zM595.5,519.3l0.59,1.59l1.69,0.07l-1.33,1.05l0.46,1.63l-1.41,-0.94l-1.41,0.94l0.46,-1.63l-1.33,-1.05l1.69,-0.07zM589.8,514.4l0.59,1.59l1.69,0.07l-1.33,1.05l0.46,1.63l-1.41,-0.94l-1.41,0.94l0.46,-1.63l-1.33,-1.05l1.69,-0.07zM588.1,520.1l0.59,1.59l1.69,0.07l-1.33,1.05l0.46,1.63l-1.41,-0.94l-1.41,0.94l0.46,-1.63l-1.33,-1.05l1.69,-0.07zM584.8,510.1l0.59,1.59l1.69,0.07l-1.33,1.05l0.46,1.63l-1.41,-0.94l-1.41,0.94l0.46,-1.63l-1.33,-1.05l1.69,-0.07zM591.3,520.4l0.59,1.59l1.69,0.07l-1.33,1.05l0.46,1.63l-1.41,-0.94l-1.41,0.94l0.46,-1.63l-1.33,-1.05l1.69,-0.07zM588.7,516.2l0.59,1.59l1.69,0.07l-1.33,1.05l0.46,1.63l-1.41,-0.94l-1.41,0.94l0.46,-1.63l-1.33,-1.05l1.69,-0.07zM613.3,522.3l0.59,1.59l1.69,0.07l-1.33,1.05l0.46,1.63l-1.41,-0.94l-1.41,0.94l0.46,-1.63l-1.33,-1.05l1.69,-0.07zM597.1,523.9l0.59,1.59l1.69,0.07l-1.33,1.05l0.46,1.63l-1.41,-0.94l-1.41,0.94l0.46,-1.63l-1.33,-1.05l1.69,-0.07zM594.8,518.3l0.59,1.59l1.69,0.07l-1.33,1.05l0.46,1.63l-1.41,-0.94l-1.41,0.94l0.46,-1.63l-1.33,-1.05l1.69,-0.07zM586.0,521.8l0.59,1.59l1.69,0.07l-1.33,1.05l0.46,1.63l-1.41,-0.94l-1.41,0.94l0.46,-1.63l-1.33,-1.05l1.69,-0.07zM587.7,518.2l0.59,1.59l1.69,0.07l-1.33,1.05l0.46,1.63l-1.41,-0.94l-1.41,0.94l0.46,-1.63l-1.33,-1.05l1.69,-0.07zM587.1,512.3l0.59,1.59l1.69,0.07l-1.33,1.05l0.46,1.63l-1.41,-0.94l-1.41,0.94l0.46,-1.63l-1.33,-1.05l1.69,-0.07zM589.7,520.1l0.59,1.59l1.69,0.07l-1.33,1.05l0.46,1.63l-1.41,-0.94l-1.41,0.94l0.46,-1.63l-1.33,-1.05l1.69,-0.07zM584.2,509.6l0.59,1.59l1.69,0.07l-1.33,1.05l0.46,1.63l-1.41,-0.94l-1.41,0.94l0.46,-1.63l-1.33,-1.05l1.69,-0.07zM612.7,522.0l0.59,1.59l1.69,0.07l-1.33,1.05l0.46,1.63l-1.41,-0.94l-1.41,0.94l0.46,-1.63l-1.33,-1.05l1.69,-0.07zM631.0,522.8l0.59,1.59l1.69,0.07l-1.33,1.05l0.46,1.63l-1.41,-0.94l-1.41,0.94l0.46,-1.63l-1.33,-1.05l1.69,-0.07zM588.0,513.5l0.59,1.59l1.69,0.07l-1.33,1.05l0.46,1.63l-1.41,-0.94l-1.41,0.94l0.46,-1.63l-1.33,-1.05l1.69,-0.07zM589.1,499.2l0.59,1.59l1.69,0.07l-1.33,1.05l0.46,1.63l-1.41,-0.94l-1.41,0.94l0.46,-1.63l-1.33,-1.05l1.69,-0.07zM584.8,521.9l0.59,1.59l1.69,0.07l-1.33,1.05l0.46,1.63l-1.41,-0.94l-1.41,0.94l0.46,-1.63l-1.33,-1.05l1.69,-0.07zM614.3,494.2l0.59,1.59l1.69,0.07l-1.33,1.05l0.46,1.63l-1.41,-0.94l-1.41,0.94l0.46,-1.63l-1.33,-1.05l1.69,-0.07zM600.3,520.0l0.59,1.59l1.69,0.07l-1.33,1.05l0.46,1.63l-1.41,-0.94l-1.41,0.94l0.46,-1.63l-1.33,-1.05l1.69,-0.07zM588.0,511.2l0.59,1.59l1.69,0.07l-1.33,1.05l0.46,1.63l-1.41,-0.94l-1.41,0.94l0.46,-1.63l-1.33,-1.05l1.69,-0.07zM591.2,524.1l0.59,1.59l1.69,0.07l-1.33,1.05l0.46,1.63l-1.41,-0.94l-1.41,0.94l0.46,-1.63l-1.33,-1.05l1.69,-0.07zM588.9,479.6l0.59,1.59l1.69,0.07l-1.33,1.05l0.46,1.63l-1.41,-0.94l-1.41,0.94l0.46,-1.63l-1.33,-1.05l1.69,-0.07zM592.2,507.0l0.59,1.59l1.69,0.07l-1.33,1.05l0.46,1.63l-1.41,-0.94l-1.41,0.94l0.46,-1.63l-1.33,-1.05l1.69,-0.07zM586.9,517.9l0.59,1.59l1.69,0.07l-1.33,1.05l0.46,1.63l-1.41,-0.94l-1.41,0.94l0.46,-1.63l-1.33,-1.05l1.69,-0.07zM585.9,507.7l0.59,1.59l1.69,0.07l-1.33,1.05l0.46,1.63l-1.41,-0.94l-1.41,0.94l0.46,-1.63l-1.33,-1.05l1.69,-0.07zM582.9,523.4l0.59,1.59l1.69,0.07l-1.33,1.05l0.46,1.63l-1.41,-0.94l-1.41,0.94l0.46,-1.63l-1.33,-1.05l1.69,-0.07zM583.6,521.6l0.59,1.59l1.69,0.07l-1.33,1.05l0.46,1.63l-1.41,-0.94l-1.41,0.94l0.46,-1.63l-1.33,-1.05l1.69,-0.07zM592.0,522.9l0.59,1.59l1.69,0.07l-1.33,1.05l0.46,1.63l-1.41,-0.94l-1.41,0.94l0.46,-1.63l-1.33,-1.05l1.69,-0.07zM601.6,517.6l0.59,1.59l1.69,0.07l-1.33,1.05l0.46,1.63l-1.41,-0.94l-1.41,0.94l0.46,-1.63l-1.33,-1.05l1.69,-0.07zM587.9,522.9l0.59,1.59l1.69,0.07l-1.33,1.05l0.46,1.63l-1.41,-0.94l-1.41,0.94l0.46,-1.63l-1.33,-1.05l1.69,-0.07zM595.5,519.2l0.59,1.59l1.69,0.07l-1.33,1.05l0.46,1.63l-1.41,-0.94l-1.41,0.94l0.46,-1.63l-1.33,-1.05l1.69,-0.07zM604.8,512.0l0.59,1.59l1.69,0.07l-1.33,1.05l0.46,1.63l-1.41,-0.94l-1.41,0.94l0.46,-1.63l-1.33,-1.05l1.69,-0.07zM582.9,508.3l0.59,1.59l1.69,0.07l-1.33,1.05l0.46,1.63l-1.41,-0.94l-1.41,0.94l0.46,-1.63l-1.33,-1.05l1.69,-0.07zM586.0,494.5l0.59,1.59l1.69,0.07l-1.33,1.05l0.46,1.63l-1.41,-0.94l-1.41,0.94l0.46,-1.63l-1.33,-1.05l1.69,-0.07zM603.0,520.2l0.59,1.59l1.69,0.07l-1.33,1.05l0.46,1.63l-1.41,-0.94l-1.41,0.94l0.46,-1.63l-1.33,-1.05l1.69,-0.07zM583.1,512.9l0.59,1.59l1.69,0.07l-1.33,1.05l0.46,1.63l-1.41,-0.94l-1.41,0.94l0.46,-1.63l-1.33,-1.05l1.69,-0.07zM617.5,522.9l0.59,1.59l1.69,0.07l-1.33,1.05l0.46,1.63l-1.41,-0.94l-1.41,0.94l0.46,-1.63l-1.33,-1.05l1.69,-0.07zM588.4,521.6l0.59,1.59l1.69,0.07l-1.33,1.05l0.46,1.63l-1.41,-0.94l-1.41,0.94l0.46,-1.63l-1.33,-1.05l1.69,-0.07zM585.7,513.0l0.59,1.59l1.69,0.07l-1.33,1.05l0.46,1.63l-1.41,-0.94l-1.41,0.94l0.46,-1.63l-1.33,-1.05l1.69,-0.07zM594.9,521.8l0.59,1.59l1.69,0.07l-1.33,1.05l0.46,1.63l-1.41,-0.94l-1.41,0.94l0.46,-1.63l-1.33,-1.05l1.69,-0.07zM582.3,521.6l0.59,1.59l1.69,0.07l-1.33,1.05l0.46,1.63l-1.41,-0.94l-1.41,0.94l0.46,-1.63l-1.33,-1.05l1.69,-0.07zM584.5,500.8l0.59,1.59l1.69,0.07l-1.33,1.05l0.46,1.63l-1.41,-0.94l-1.41,0.94l0.46,-1.63l-1.33,-1.05l1.69,-0.07zM600.7,520.1l0.59,1.59l1.69,0.07l-1.33,1.05l0.46,1.63l-1.41,-0.94l-1.41,0.94l0.46,-1.63l-1.33,-1.05l1.69,-0.07zM599.0,522.3l0.59,1.59l1.69,0.07l-1.33,1.05l0.46,1.63l-1.41,-0.94l-1.41,0.94l0.46,-1.63l-1.33,-1.05l1.69,-0.07zM596.5,524.1l0.59,1.59l1.69,0.07l-1.33,1.05l0.46,1.63l-1.41,-0.94l-1.41,0.94l0.46,-1.63l-1.33,-1.05l1.69,-0.07zM589.0,523.0l0.59,1.59l1.69,0.07l-1.33,1.05l0.46,1.63l-1.41,-0.94l-1.41,0.94l0.46,-1.63l-1.33,-1.05l1.69,-0.07zM597.9,516.7l0.59,1.59l1.69,0.07l-1.33,1.05l0.46,1.63l-1.41,-0.94l-1.41,0.94l0.46,-1.63l-1.33,-1.05l1.69,-0.07zM599.0,511.3l0.59,1.59l1.69,0.07l-1.33,1.05l0.46,1.63l-1.41,-0.94l-1.41,0.94l0.46,-1.63l-1.33,-1.05l1.69,-0.07zM583.0,492.9l0.59,1.59l1.69,0.07l-1.33,1.05l0.46,1.63l-1.41,-0.94l-1.41,0.94l0.46,-1.63l-1.33,-1.05l1.69,-0.07zM597.2,521.5l0.59,1.59l1.69,0.07l-1.33,1.05l0.46,1.63l-1.41,-0.94l-1.41,0.94l0.46,-1.63l-1.33,-1.05l1.69,-0.07zM585.5,514.7l0.59,1.59l1.69,0.07l-1.33,1.05l0.46,1.63l-1.41,-0.94l-1.41,0.94l0.46,-1.63l-1.33,-1.05l1.69,-0.07zM595.6,520.8l0.59,1.59l1.69,0.07l-1.33,1.05l0.46,1.63l-1.41,-0.94l-1.41,0.94l0.46,-1.63l-1.33,-1.05l1.69,-0.07zM598.8,509.7l0.59,1.59l1.69,0.07l-1.33,1.05l0.46,1.63l-1.41,-0.94l-1.41,0.94l0.46,-1.63l-1.33,-1.05l1.69,-0.07zM599.8,522.6l0.59,1.59l1.69,0.07l-1.33,1.05l0.46,1.63l-1.41,-0.94l-1.41,0.94l0.46,-1.63l-1.33,-1.05l1.69,-0.07zM602.4,521.6l0.59,1.59l1.69,0.07l-1.33,1.05l0.46,1.63l-1.41,-0.94l-1.41,0.94l0.46,-1.63l-1.33,-1.05l1.69,-0.07zM586.8,519.8l0.59,1.59l1.69,0.07l-1.33,1.05l0.46,1.63l-1.41,-0.94l-1.41,0.94l0.46,-1.63l-1.33,-1.05l1.69,-0.07zM614.3,521.1l0.59,1.59l1.69,0.07l-1.33,1.05l0.46,1.63l-1.41,-0.94l-1.41,0.94l0.46,-1.63l-1.33,-1.05l1.69,-0.07z" fill="#1818EA"/></g><line x1="506.5" y1="372.4" x2="506.5" y2="601.7" stroke="#333" stroke-width="1"/><line x1="580.8" y1="372.4" x2="580.8" y2="601.7" stroke="#444" stroke-width="1"/><line x1="452.6" y1="529.1" x2="771.7" y2="529.1" stroke="#333" stroke-width="1"/><rect x="452.6" y="372.4" width="319.1" height="229.30000000000007" fill="none" stroke="#555" stroke-width="1"/><line x1="465.4" y1="601.7" x2="465.4" y2="606.7" stroke="#555" stroke-width="0.9"/><text x="465.4" y="618.3" font-size="11.5" fill="#333" text-anchor="middle">0</text><line x1="448.0" y1="594.2" x2="452.6" y2="594.2" stroke="#555" stroke-width="0.9"/><text x="442.0" y="594.2" font-size="12" fill="#333" text-anchor="middle" transform="rotate(-90 442.0 594.2)">0.0</text><line x1="524.3" y1="601.7" x2="524.3" y2="606.7" stroke="#555" stroke-width="0.9"/><text x="524.3" y="618.3" font-size="11.5" fill="#333" text-anchor="middle">1</text><line x1="448.0" y1="551.4" x2="452.6" y2="551.4" stroke="#555" stroke-width="0.9"/><text x="442.0" y="551.4" font-size="12" fill="#333" text-anchor="middle" transform="rotate(-90 442.0 551.4)">0.1</text><line x1="583.2" y1="601.7" x2="583.2" y2="606.7" stroke="#555" stroke-width="0.9"/><text x="583.2" y="618.3" font-size="11.5" fill="#333" text-anchor="middle">2</text><line x1="448.0" y1="508.6" x2="452.6" y2="508.6" stroke="#555" stroke-width="0.9"/><text x="442.0" y="508.6" font-size="12" fill="#333" text-anchor="middle" transform="rotate(-90 442.0 508.6)">0.2</text><line x1="642.1" y1="601.7" x2="642.1" y2="606.7" stroke="#555" stroke-width="0.9"/><text x="642.1" y="618.3" font-size="11.5" fill="#333" text-anchor="middle">3</text><line x1="448.0" y1="465.8" x2="452.6" y2="465.8" stroke="#555" stroke-width="0.9"/><text x="442.0" y="465.8" font-size="12" fill="#333" text-anchor="middle" transform="rotate(-90 442.0 465.8)">0.3</text><line x1="701.0" y1="601.7" x2="701.0" y2="606.7" stroke="#555" stroke-width="0.9"/><text x="701.0" y="618.3" font-size="11.5" fill="#333" text-anchor="middle">4</text><line x1="448.0" y1="423.0" x2="452.6" y2="423.0" stroke="#555" stroke-width="0.9"/><text x="442.0" y="423.0" font-size="12" fill="#333" text-anchor="middle" transform="rotate(-90 442.0 423.0)">0.4</text><line x1="759.9" y1="601.7" x2="759.9" y2="606.7" stroke="#555" stroke-width="0.9"/><text x="759.9" y="618.3" font-size="11.5" fill="#333" text-anchor="middle">5</text><line x1="448.0" y1="380.2" x2="452.6" y2="380.2" stroke="#555" stroke-width="0.9"/><text x="442.0" y="380.2" font-size="12" fill="#333" text-anchor="middle" transform="rotate(-90 442.0 380.2)">0.5</text><text x="613.0" y="636.3" font-size="12" fill="#222" text-anchor="middle">PIratio</text><text x="425.5" y="486.5" font-size="12" fill="#222" text-anchor="middle" transform="rotate(-90 425.5 486.5)">Fst</text></g>
<text x="175.0" y="323.0" font-size="28" fill="#000" text-anchor="middle">a</text>
<text x="605.2" y="322.6" font-size="28" fill="#000" text-anchor="middle">b</text>
<text x="973.8" y="323.2" font-size="28" fill="#000" text-anchor="middle">c</text>
<text x="175.0" y="672.3" font-size="28" fill="#000" text-anchor="middle">d</text>
<text x="606.3" y="671.4" font-size="28" fill="#000" text-anchor="middle">e</text>
</g>
</svg>
</body></html>
